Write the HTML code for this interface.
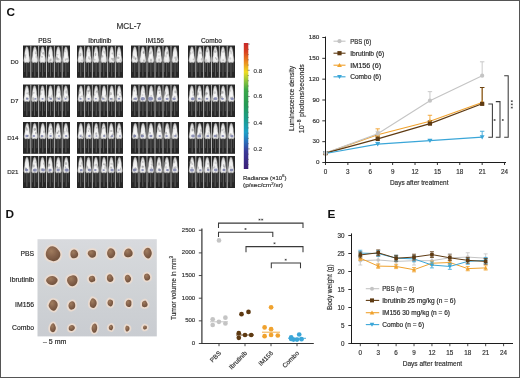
<!DOCTYPE html><html><head><meta charset="utf-8"><style>
html,body{margin:0;padding:0;background:#fff;}
body{width:520px;height:378px;overflow:hidden;}
svg{display:block;font-family:"Liberation Sans", sans-serif;will-change:transform;}
</style></head><body>
<svg width="520" height="378" viewBox="0 0 520 378">
<defs>
<linearGradient id="cbar" x1="0" y1="0" x2="0" y2="1">
<stop offset="0" stop-color="#c8282a"/>
<stop offset="0.07" stop-color="#d8401f"/>
<stop offset="0.14" stop-color="#ea7f1e"/>
<stop offset="0.23" stop-color="#efdc22"/>
<stop offset="0.29" stop-color="#9cc83a"/>
<stop offset="0.37" stop-color="#3ca848"/>
<stop offset="0.49" stop-color="#259a54"/>
<stop offset="0.60" stop-color="#1a9c8a"/>
<stop offset="0.71" stop-color="#1ea0c8"/>
<stop offset="0.79" stop-color="#2a6ab8"/>
<stop offset="0.86" stop-color="#3a3a98"/>
<stop offset="1" stop-color="#3c1e78"/>
</linearGradient>
<radialGradient id="body" cx="0.5" cy="0.6" r="0.62">
<stop offset="0" stop-color="#fbfbfb"/>
<stop offset="0.65" stop-color="#e6e6e6"/>
<stop offset="1" stop-color="#a8a8a8"/>
</radialGradient>
<radialGradient id="tum" cx="0.38" cy="0.32" r="0.75">
<stop offset="0" stop-color="#a07c5e"/>
<stop offset="0.55" stop-color="#83604a"/>
<stop offset="1" stop-color="#6c4e38"/>
</radialGradient>
<filter id="soft2" x="-30%" y="-30%" width="160%" height="160%"><feGaussianBlur stdDeviation="0.6"/></filter>
<linearGradient id="photo" x1="0" y1="0" x2="0" y2="1">
<stop offset="0" stop-color="#d8dade"/>
<stop offset="0.5" stop-color="#d0d3d6"/>
<stop offset="1" stop-color="#c9ccd1"/>
</linearGradient>
<radialGradient id="halo" cx="0.5" cy="0.5" r="0.5">
<stop offset="0.7" stop-color="#efe2d4"/>
<stop offset="1" stop-color="#d6dae0" stop-opacity="0"/>
</radialGradient>
<filter id="soft" x="-5%" y="-5%" width="110%" height="110%"><feGaussianBlur stdDeviation="0.35"/></filter>
</defs>
<rect x="0" y="0" width="520" height="378" fill="#fff"/>

<text x="6.60" y="16.30" font-size="11.8" text-anchor="start" fill="#111" font-weight="bold"  >C</text>
<text x="128.70" y="28.80" font-size="8.2" text-anchor="middle" fill="#333" font-weight="normal" stroke="#333" stroke-width="0.18" >MCL-7</text>
<text x="44.80" y="42.70" font-size="6.5" text-anchor="middle" fill="#2a2a2a" font-weight="normal" stroke="#2a2a2a" stroke-width="0.18" >PBS</text>
<text x="99.90" y="42.70" font-size="6.5" text-anchor="middle" fill="#2a2a2a" font-weight="normal" stroke="#2a2a2a" stroke-width="0.18" >Ibrutinib</text>
<text x="154.90" y="42.70" font-size="6.5" text-anchor="middle" fill="#2a2a2a" font-weight="normal" stroke="#2a2a2a" stroke-width="0.18" >IM156</text>
<text x="211.40" y="42.70" font-size="6.5" text-anchor="middle" fill="#2a2a2a" font-weight="normal" stroke="#2a2a2a" stroke-width="0.18" >Combo</text>
<text x="18.50" y="63.85" font-size="6.2" text-anchor="end" fill="#333" font-weight="normal" stroke="#333" stroke-width="0.18" >D0</text>
<text x="18.50" y="102.95" font-size="6.2" text-anchor="end" fill="#333" font-weight="normal" stroke="#333" stroke-width="0.18" >D7</text>
<text x="18.50" y="140.10" font-size="6.2" text-anchor="end" fill="#333" font-weight="normal" stroke="#333" stroke-width="0.18" >D14</text>
<text x="18.50" y="174.20" font-size="6.2" text-anchor="end" fill="#333" font-weight="normal" stroke="#333" stroke-width="0.18" >D21</text>
<g filter="url(#soft)">
<rect x="23" y="45.5" width="47" height="32.3" fill="#282828"/>
<rect x="26.36" y="62.30" width="0.9" height="14.21" fill="#666"/>
<rect x="24.21" y="62.30" width="0.9" height="9.69" fill="#484848"/>
<rect x="28.51" y="62.30" width="0.9" height="9.69" fill="#484848"/>
<path d="M26.81,46.80 L27.61,47.30 L28.22,49.32 L28.82,52.35 L29.02,55.38 L29.62,58.41 L29.97,60.93 L28.92,62.65 L26.81,62.24 L24.70,62.65 L23.65,60.93 L24.00,58.41 L24.60,55.38 L24.80,52.35 L25.40,49.32 L26.01,47.30 L26.81,46.80Z" fill="url(#body)" stroke="#bdbdbd" stroke-width="0.4" stroke-linejoin="round"/>
<ellipse cx="25.69" cy="57.41" rx="0.65" ry="1.34" fill="#8a8a8a" opacity="0.36"/>
<ellipse cx="25.39" cy="55.96" rx="0.63" ry="1.23" fill="#8a8a8a" opacity="0.27"/>
<ellipse cx="25.50" cy="55.12" rx="1.18" ry="0.92" fill="#8a8a8a" opacity="0.32"/>
<rect x="34.38" y="62.30" width="0.9" height="14.21" fill="#666"/>
<rect x="32.23" y="62.30" width="0.9" height="9.69" fill="#484848"/>
<rect x="36.53" y="62.30" width="0.9" height="9.69" fill="#484848"/>
<path d="M34.83,46.80 L35.63,47.30 L36.23,49.32 L36.84,52.35 L37.04,55.38 L37.64,58.41 L37.99,60.93 L36.94,62.65 L34.83,62.24 L32.72,62.65 L31.66,60.93 L32.01,58.41 L32.62,55.38 L32.82,52.35 L33.42,49.32 L34.02,47.30 L34.83,46.80Z" fill="url(#body)" stroke="#bdbdbd" stroke-width="0.4" stroke-linejoin="round"/>
<ellipse cx="36.27" cy="56.66" rx="0.88" ry="1.78" fill="#8a8a8a" opacity="0.26"/>
<ellipse cx="35.98" cy="53.76" rx="0.70" ry="0.92" fill="#8a8a8a" opacity="0.34"/>
<ellipse cx="35.84" cy="52.66" rx="1.01" ry="1.44" fill="#8a8a8a" opacity="0.36"/>
<rect x="30.38" y="45.5" width="0.9" height="32.3" fill="#c4c4c4"/>
<rect x="42.16" y="62.30" width="0.9" height="14.21" fill="#666"/>
<rect x="40.01" y="62.30" width="0.9" height="9.69" fill="#484848"/>
<rect x="44.31" y="62.30" width="0.9" height="9.69" fill="#484848"/>
<path d="M42.61,46.80 L43.42,47.30 L44.02,49.32 L44.62,52.35 L44.82,55.38 L45.42,58.41 L45.78,60.93 L44.72,62.65 L42.61,62.24 L40.50,62.65 L39.45,60.93 L39.80,58.41 L40.40,55.38 L40.60,52.35 L41.21,49.32 L41.81,47.30 L42.61,46.80Z" fill="url(#body)" stroke="#bdbdbd" stroke-width="0.4" stroke-linejoin="round"/>
<ellipse cx="41.21" cy="51.44" rx="0.74" ry="1.48" fill="#8a8a8a" opacity="0.38"/>
<ellipse cx="42.01" cy="56.75" rx="0.92" ry="1.10" fill="#8a8a8a" opacity="0.49"/>
<ellipse cx="43.25" cy="53.30" rx="1.00" ry="1.33" fill="#8a8a8a" opacity="0.51"/>
<rect x="38.22" y="45.5" width="0.9" height="32.3" fill="#c4c4c4"/>
<rect x="50.10" y="62.30" width="0.9" height="14.21" fill="#666"/>
<rect x="47.95" y="62.30" width="0.9" height="9.69" fill="#484848"/>
<rect x="52.25" y="62.30" width="0.9" height="9.69" fill="#484848"/>
<path d="M50.55,46.80 L51.36,47.30 L51.96,49.32 L52.56,52.35 L52.76,55.38 L53.37,58.41 L53.72,60.93 L52.66,62.65 L50.55,62.24 L48.45,62.65 L47.39,60.93 L47.74,58.41 L48.34,55.38 L48.55,52.35 L49.15,49.32 L49.75,47.30 L50.55,46.80Z" fill="url(#body)" stroke="#bdbdbd" stroke-width="0.4" stroke-linejoin="round"/>
<ellipse cx="49.87" cy="60.73" rx="0.68" ry="1.22" fill="#8a8a8a" opacity="0.48"/>
<ellipse cx="49.44" cy="55.77" rx="0.63" ry="1.47" fill="#8a8a8a" opacity="0.48"/>
<ellipse cx="50.79" cy="59.67" rx="0.82" ry="1.50" fill="#8a8a8a" opacity="0.43"/>
<rect x="46.05" y="45.5" width="0.9" height="32.3" fill="#c4c4c4"/>
<rect x="57.85" y="62.30" width="0.9" height="14.21" fill="#666"/>
<rect x="55.70" y="62.30" width="0.9" height="9.69" fill="#484848"/>
<rect x="60.00" y="62.30" width="0.9" height="9.69" fill="#484848"/>
<path d="M58.30,46.80 L59.10,47.30 L59.70,49.32 L60.31,52.35 L60.51,55.38 L61.11,58.41 L61.46,60.93 L60.41,62.65 L58.30,62.24 L56.19,62.65 L55.13,60.93 L55.49,58.41 L56.09,55.38 L56.29,52.35 L56.89,49.32 L57.49,47.30 L58.30,46.80Z" fill="url(#body)" stroke="#bdbdbd" stroke-width="0.4" stroke-linejoin="round"/>
<ellipse cx="58.16" cy="59.32" rx="1.26" ry="1.27" fill="#8a8a8a" opacity="0.45"/>
<ellipse cx="56.89" cy="57.92" rx="1.05" ry="1.79" fill="#8a8a8a" opacity="0.50"/>
<ellipse cx="57.61" cy="54.73" rx="1.07" ry="0.82" fill="#8a8a8a" opacity="0.39"/>
<rect x="53.88" y="45.5" width="0.9" height="32.3" fill="#c4c4c4"/>
<rect x="65.43" y="62.30" width="0.9" height="14.21" fill="#666"/>
<rect x="63.28" y="62.30" width="0.9" height="9.69" fill="#484848"/>
<rect x="67.58" y="62.30" width="0.9" height="9.69" fill="#484848"/>
<path d="M65.88,46.80 L66.69,47.30 L67.29,49.32 L67.89,52.35 L68.09,55.38 L68.70,58.41 L69.05,60.93 L67.99,62.65 L65.88,62.24 L63.78,62.65 L62.72,60.93 L63.07,58.41 L63.67,55.38 L63.88,52.35 L64.48,49.32 L65.08,47.30 L65.88,46.80Z" fill="url(#body)" stroke="#bdbdbd" stroke-width="0.4" stroke-linejoin="round"/>
<ellipse cx="64.65" cy="51.43" rx="1.14" ry="0.93" fill="#8a8a8a" opacity="0.32"/>
<ellipse cx="65.53" cy="59.63" rx="0.66" ry="1.25" fill="#8a8a8a" opacity="0.41"/>
<ellipse cx="67.12" cy="59.11" rx="1.20" ry="1.08" fill="#8a8a8a" opacity="0.37"/>
<rect x="61.72" y="45.5" width="0.9" height="32.3" fill="#c4c4c4"/>
<rect x="77" y="45.5" width="46" height="32.3" fill="#282828"/>
<rect x="80.30" y="62.30" width="0.9" height="14.21" fill="#666"/>
<rect x="78.15" y="62.30" width="0.9" height="9.69" fill="#484848"/>
<rect x="82.45" y="62.30" width="0.9" height="9.69" fill="#484848"/>
<path d="M80.75,46.80 L81.53,47.30 L82.12,49.32 L82.71,52.35 L82.91,55.38 L83.50,58.41 L83.84,60.93 L82.81,62.65 L80.75,62.24 L78.68,62.65 L77.65,60.93 L78.00,58.41 L78.59,55.38 L78.78,52.35 L79.37,49.32 L79.96,47.30 L80.75,46.80Z" fill="url(#body)" stroke="#bdbdbd" stroke-width="0.4" stroke-linejoin="round"/>
<ellipse cx="81.96" cy="60.50" rx="0.71" ry="0.98" fill="#8a8a8a" opacity="0.32"/>
<ellipse cx="79.91" cy="55.73" rx="1.01" ry="1.06" fill="#8a8a8a" opacity="0.25"/>
<ellipse cx="80.49" cy="54.56" rx="1.00" ry="1.75" fill="#8a8a8a" opacity="0.46"/>
<rect x="88.06" y="62.30" width="0.9" height="14.21" fill="#666"/>
<rect x="85.91" y="62.30" width="0.9" height="9.69" fill="#484848"/>
<rect x="90.21" y="62.30" width="0.9" height="9.69" fill="#484848"/>
<path d="M88.51,46.80 L89.30,47.30 L89.89,49.32 L90.48,52.35 L90.67,55.38 L91.26,58.41 L91.61,60.93 L90.57,62.65 L88.51,62.24 L86.45,62.65 L85.41,60.93 L85.76,58.41 L86.35,55.38 L86.54,52.35 L87.13,49.32 L87.72,47.30 L88.51,46.80Z" fill="url(#body)" stroke="#bdbdbd" stroke-width="0.4" stroke-linejoin="round"/>
<ellipse cx="88.88" cy="57.66" rx="0.64" ry="1.70" fill="#8a8a8a" opacity="0.48"/>
<ellipse cx="89.69" cy="58.89" rx="0.87" ry="1.20" fill="#8a8a8a" opacity="0.28"/>
<ellipse cx="88.93" cy="51.47" rx="0.65" ry="1.01" fill="#8a8a8a" opacity="0.30"/>
<rect x="84.22" y="45.5" width="0.9" height="32.3" fill="#c4c4c4"/>
<rect x="95.62" y="62.30" width="0.9" height="14.21" fill="#666"/>
<rect x="93.47" y="62.30" width="0.9" height="9.69" fill="#484848"/>
<rect x="97.77" y="62.30" width="0.9" height="9.69" fill="#484848"/>
<path d="M96.07,46.80 L96.86,47.30 L97.45,49.32 L98.04,52.35 L98.23,55.38 L98.82,58.41 L99.17,60.93 L98.13,62.65 L96.07,62.24 L94.01,62.65 L92.97,60.93 L93.32,58.41 L93.91,55.38 L94.10,52.35 L94.69,49.32 L95.28,47.30 L96.07,46.80Z" fill="url(#body)" stroke="#bdbdbd" stroke-width="0.4" stroke-linejoin="round"/>
<ellipse cx="94.66" cy="50.84" rx="0.71" ry="0.90" fill="#8a8a8a" opacity="0.36"/>
<ellipse cx="94.58" cy="59.66" rx="1.03" ry="0.95" fill="#8a8a8a" opacity="0.33"/>
<ellipse cx="95.59" cy="54.51" rx="0.69" ry="1.65" fill="#8a8a8a" opacity="0.55"/>
<rect x="91.88" y="45.5" width="0.9" height="32.3" fill="#c4c4c4"/>
<rect x="103.36" y="62.30" width="0.9" height="14.21" fill="#666"/>
<rect x="101.21" y="62.30" width="0.9" height="9.69" fill="#484848"/>
<rect x="105.51" y="62.30" width="0.9" height="9.69" fill="#484848"/>
<path d="M103.81,46.80 L104.60,47.30 L105.19,49.32 L105.78,52.35 L105.98,55.38 L106.57,58.41 L106.91,60.93 L105.88,62.65 L103.81,62.24 L101.75,62.65 L100.72,60.93 L101.06,58.41 L101.65,55.38 L101.85,52.35 L102.44,49.32 L103.03,47.30 L103.81,46.80Z" fill="url(#body)" stroke="#bdbdbd" stroke-width="0.4" stroke-linejoin="round"/>
<ellipse cx="103.76" cy="51.70" rx="0.67" ry="1.14" fill="#8a8a8a" opacity="0.33"/>
<ellipse cx="104.85" cy="52.47" rx="0.62" ry="1.75" fill="#8a8a8a" opacity="0.41"/>
<ellipse cx="102.70" cy="56.32" rx="0.62" ry="1.33" fill="#8a8a8a" opacity="0.54"/>
<rect x="99.55" y="45.5" width="0.9" height="32.3" fill="#c4c4c4"/>
<rect x="111.27" y="62.30" width="0.9" height="14.21" fill="#666"/>
<rect x="109.12" y="62.30" width="0.9" height="9.69" fill="#484848"/>
<rect x="113.42" y="62.30" width="0.9" height="9.69" fill="#484848"/>
<path d="M111.72,46.80 L112.50,47.30 L113.09,49.32 L113.68,52.35 L113.88,55.38 L114.47,58.41 L114.81,60.93 L113.78,62.65 L111.72,62.24 L109.65,62.65 L108.62,60.93 L108.97,58.41 L109.56,55.38 L109.75,52.35 L110.34,49.32 L110.93,47.30 L111.72,46.80Z" fill="url(#body)" stroke="#bdbdbd" stroke-width="0.4" stroke-linejoin="round"/>
<ellipse cx="112.34" cy="53.47" rx="0.86" ry="0.97" fill="#8a8a8a" opacity="0.48"/>
<ellipse cx="111.82" cy="58.70" rx="0.83" ry="1.02" fill="#8a8a8a" opacity="0.49"/>
<ellipse cx="113.24" cy="59.44" rx="1.16" ry="1.62" fill="#8a8a8a" opacity="0.47"/>
<rect x="107.22" y="45.5" width="0.9" height="32.3" fill="#c4c4c4"/>
<rect x="118.55" y="62.30" width="0.9" height="14.21" fill="#666"/>
<rect x="116.40" y="62.30" width="0.9" height="9.69" fill="#484848"/>
<rect x="120.70" y="62.30" width="0.9" height="9.69" fill="#484848"/>
<path d="M119.00,46.80 L119.79,47.30 L120.38,49.32 L120.97,52.35 L121.17,55.38 L121.75,58.41 L122.10,60.93 L121.07,62.65 L119.00,62.24 L116.94,62.65 L115.91,60.93 L116.25,58.41 L116.84,55.38 L117.04,52.35 L117.63,49.32 L118.22,47.30 L119.00,46.80Z" fill="url(#body)" stroke="#bdbdbd" stroke-width="0.4" stroke-linejoin="round"/>
<ellipse cx="119.06" cy="54.43" rx="0.62" ry="0.83" fill="#8a8a8a" opacity="0.33"/>
<ellipse cx="118.25" cy="57.83" rx="1.27" ry="1.25" fill="#8a8a8a" opacity="0.53"/>
<ellipse cx="120.54" cy="60.48" rx="0.86" ry="1.02" fill="#8a8a8a" opacity="0.32"/>
<rect x="114.88" y="45.5" width="0.9" height="32.3" fill="#c4c4c4"/>
<rect x="131" y="45.5" width="48" height="32.3" fill="#282828"/>
<rect x="134.37" y="62.30" width="0.9" height="14.21" fill="#666"/>
<rect x="132.22" y="62.30" width="0.9" height="9.69" fill="#484848"/>
<rect x="136.52" y="62.30" width="0.9" height="9.69" fill="#484848"/>
<path d="M134.82,46.80 L135.64,47.30 L136.25,49.32 L136.87,52.35 L137.07,55.38 L137.69,58.41 L138.05,60.93 L136.97,62.65 L134.82,62.24 L132.66,62.65 L131.59,60.93 L131.95,58.41 L132.56,55.38 L132.77,52.35 L133.38,49.32 L134.00,47.30 L134.82,46.80Z" fill="url(#body)" stroke="#bdbdbd" stroke-width="0.4" stroke-linejoin="round"/>
<ellipse cx="133.85" cy="57.14" rx="1.23" ry="1.64" fill="#8a8a8a" opacity="0.39"/>
<ellipse cx="135.32" cy="58.91" rx="0.66" ry="1.46" fill="#8a8a8a" opacity="0.52"/>
<ellipse cx="135.74" cy="58.41" rx="0.93" ry="0.98" fill="#8a8a8a" opacity="0.49"/>
<rect x="142.45" y="62.30" width="0.9" height="14.21" fill="#666"/>
<rect x="140.30" y="62.30" width="0.9" height="9.69" fill="#484848"/>
<rect x="144.60" y="62.30" width="0.9" height="9.69" fill="#484848"/>
<path d="M142.90,46.80 L143.72,47.30 L144.34,49.32 L144.95,52.35 L145.16,55.38 L145.77,58.41 L146.13,60.93 L145.05,62.65 L142.90,62.24 L140.75,62.65 L139.67,60.93 L140.03,58.41 L140.64,55.38 L140.85,52.35 L141.46,49.32 L142.08,47.30 L142.90,46.80Z" fill="url(#body)" stroke="#bdbdbd" stroke-width="0.4" stroke-linejoin="round"/>
<ellipse cx="143.89" cy="60.65" rx="0.88" ry="1.20" fill="#8a8a8a" opacity="0.53"/>
<ellipse cx="143.64" cy="52.55" rx="0.69" ry="0.95" fill="#8a8a8a" opacity="0.52"/>
<ellipse cx="143.91" cy="52.31" rx="1.18" ry="1.78" fill="#8a8a8a" opacity="0.45"/>
<rect x="138.55" y="45.5" width="0.9" height="32.3" fill="#c4c4c4"/>
<rect x="150.46" y="62.30" width="0.9" height="14.21" fill="#666"/>
<rect x="148.31" y="62.30" width="0.9" height="9.69" fill="#484848"/>
<rect x="152.61" y="62.30" width="0.9" height="9.69" fill="#484848"/>
<path d="M150.91,46.80 L151.73,47.30 L152.35,49.32 L152.96,52.35 L153.17,55.38 L153.78,58.41 L154.14,60.93 L153.06,62.65 L150.91,62.24 L148.76,62.65 L147.68,60.93 L148.04,58.41 L148.65,55.38 L148.86,52.35 L149.47,49.32 L150.09,47.30 L150.91,46.80Z" fill="url(#body)" stroke="#bdbdbd" stroke-width="0.4" stroke-linejoin="round"/>
<ellipse cx="151.07" cy="52.16" rx="0.61" ry="1.77" fill="#8a8a8a" opacity="0.44"/>
<ellipse cx="151.00" cy="60.26" rx="0.90" ry="1.67" fill="#8a8a8a" opacity="0.50"/>
<ellipse cx="149.96" cy="53.38" rx="0.81" ry="1.04" fill="#8a8a8a" opacity="0.43"/>
<rect x="146.55" y="45.5" width="0.9" height="32.3" fill="#c4c4c4"/>
<rect x="158.41" y="62.30" width="0.9" height="14.21" fill="#666"/>
<rect x="156.26" y="62.30" width="0.9" height="9.69" fill="#484848"/>
<rect x="160.56" y="62.30" width="0.9" height="9.69" fill="#484848"/>
<path d="M158.86,46.80 L159.68,47.30 L160.29,49.32 L160.91,52.35 L161.11,55.38 L161.73,58.41 L162.09,60.93 L161.01,62.65 L158.86,62.24 L156.70,62.65 L155.62,60.93 L155.98,58.41 L156.60,55.38 L156.80,52.35 L157.42,49.32 L158.04,47.30 L158.86,46.80Z" fill="url(#body)" stroke="#bdbdbd" stroke-width="0.4" stroke-linejoin="round"/>
<ellipse cx="158.59" cy="52.16" rx="1.24" ry="1.15" fill="#8a8a8a" opacity="0.39"/>
<ellipse cx="159.13" cy="59.97" rx="0.89" ry="1.72" fill="#8a8a8a" opacity="0.40"/>
<ellipse cx="158.96" cy="56.12" rx="0.61" ry="1.24" fill="#8a8a8a" opacity="0.30"/>
<rect x="154.55" y="45.5" width="0.9" height="32.3" fill="#c4c4c4"/>
<rect x="166.25" y="62.30" width="0.9" height="14.21" fill="#666"/>
<rect x="164.10" y="62.30" width="0.9" height="9.69" fill="#484848"/>
<rect x="168.40" y="62.30" width="0.9" height="9.69" fill="#484848"/>
<path d="M166.70,46.80 L167.52,47.30 L168.14,49.32 L168.75,52.35 L168.96,55.38 L169.57,58.41 L169.93,60.93 L168.86,62.65 L166.70,62.24 L164.55,62.65 L163.47,60.93 L163.83,58.41 L164.45,55.38 L164.65,52.35 L165.27,49.32 L165.88,47.30 L166.70,46.80Z" fill="url(#body)" stroke="#bdbdbd" stroke-width="0.4" stroke-linejoin="round"/>
<ellipse cx="167.68" cy="52.58" rx="0.93" ry="1.53" fill="#8a8a8a" opacity="0.42"/>
<ellipse cx="166.13" cy="56.07" rx="0.99" ry="1.58" fill="#8a8a8a" opacity="0.28"/>
<ellipse cx="166.90" cy="53.35" rx="0.79" ry="1.57" fill="#8a8a8a" opacity="0.40"/>
<rect x="162.55" y="45.5" width="0.9" height="32.3" fill="#c4c4c4"/>
<rect x="174.59" y="62.30" width="0.9" height="14.21" fill="#666"/>
<rect x="172.44" y="62.30" width="0.9" height="9.69" fill="#484848"/>
<rect x="176.74" y="62.30" width="0.9" height="9.69" fill="#484848"/>
<path d="M175.04,46.80 L175.86,47.30 L176.47,49.32 L177.09,52.35 L177.29,55.38 L177.91,58.41 L178.27,60.93 L177.19,62.65 L175.04,62.24 L172.88,62.65 L171.81,60.93 L172.17,58.41 L172.78,55.38 L172.99,52.35 L173.60,49.32 L174.22,47.30 L175.04,46.80Z" fill="url(#body)" stroke="#bdbdbd" stroke-width="0.4" stroke-linejoin="round"/>
<ellipse cx="175.89" cy="60.05" rx="0.91" ry="1.41" fill="#8a8a8a" opacity="0.40"/>
<ellipse cx="175.08" cy="57.83" rx="0.92" ry="1.33" fill="#8a8a8a" opacity="0.39"/>
<ellipse cx="176.49" cy="57.90" rx="1.21" ry="1.74" fill="#8a8a8a" opacity="0.33"/>
<rect x="170.55" y="45.5" width="0.9" height="32.3" fill="#c4c4c4"/>
<rect x="188" y="45.5" width="47" height="32.3" fill="#282828"/>
<rect x="191.50" y="62.30" width="0.9" height="14.21" fill="#666"/>
<rect x="189.35" y="62.30" width="0.9" height="9.69" fill="#484848"/>
<rect x="193.65" y="62.30" width="0.9" height="9.69" fill="#484848"/>
<path d="M191.95,46.80 L192.76,47.30 L193.36,49.32 L193.96,52.35 L194.16,55.38 L194.76,58.41 L195.12,60.93 L194.06,62.65 L191.95,62.24 L189.84,62.65 L188.79,60.93 L189.14,58.41 L189.74,55.38 L189.94,52.35 L190.55,49.32 L191.15,47.30 L191.95,46.80Z" fill="url(#body)" stroke="#bdbdbd" stroke-width="0.4" stroke-linejoin="round"/>
<ellipse cx="193.38" cy="59.32" rx="0.70" ry="0.92" fill="#8a8a8a" opacity="0.38"/>
<ellipse cx="190.58" cy="53.27" rx="0.65" ry="1.47" fill="#8a8a8a" opacity="0.49"/>
<ellipse cx="193.23" cy="52.40" rx="1.10" ry="1.46" fill="#8a8a8a" opacity="0.29"/>
<rect x="199.53" y="62.30" width="0.9" height="14.21" fill="#666"/>
<rect x="197.38" y="62.30" width="0.9" height="9.69" fill="#484848"/>
<rect x="201.68" y="62.30" width="0.9" height="9.69" fill="#484848"/>
<path d="M199.98,46.80 L200.78,47.30 L201.39,49.32 L201.99,52.35 L202.19,55.38 L202.79,58.41 L203.14,60.93 L202.09,62.65 L199.98,62.24 L197.87,62.65 L196.82,60.93 L197.17,58.41 L197.77,55.38 L197.97,52.35 L198.57,49.32 L199.18,47.30 L199.98,46.80Z" fill="url(#body)" stroke="#bdbdbd" stroke-width="0.4" stroke-linejoin="round"/>
<ellipse cx="201.48" cy="53.05" rx="1.27" ry="1.20" fill="#8a8a8a" opacity="0.40"/>
<ellipse cx="201.55" cy="59.24" rx="0.71" ry="1.23" fill="#8a8a8a" opacity="0.40"/>
<ellipse cx="199.46" cy="52.81" rx="0.82" ry="1.52" fill="#8a8a8a" opacity="0.26"/>
<rect x="195.38" y="45.5" width="0.9" height="32.3" fill="#c4c4c4"/>
<rect x="207.17" y="62.30" width="0.9" height="14.21" fill="#666"/>
<rect x="205.02" y="62.30" width="0.9" height="9.69" fill="#484848"/>
<rect x="209.32" y="62.30" width="0.9" height="9.69" fill="#484848"/>
<path d="M207.62,46.80 L208.42,47.30 L209.02,49.32 L209.62,52.35 L209.83,55.38 L210.43,58.41 L210.78,60.93 L209.72,62.65 L207.62,62.24 L205.51,62.65 L204.45,60.93 L204.80,58.41 L205.41,55.38 L205.61,52.35 L206.21,49.32 L206.81,47.30 L207.62,46.80Z" fill="url(#body)" stroke="#bdbdbd" stroke-width="0.4" stroke-linejoin="round"/>
<ellipse cx="207.42" cy="51.02" rx="0.83" ry="1.42" fill="#8a8a8a" opacity="0.40"/>
<ellipse cx="206.22" cy="60.78" rx="1.15" ry="1.77" fill="#8a8a8a" opacity="0.28"/>
<ellipse cx="206.86" cy="51.24" rx="1.15" ry="1.07" fill="#8a8a8a" opacity="0.29"/>
<rect x="203.22" y="45.5" width="0.9" height="32.3" fill="#c4c4c4"/>
<rect x="214.92" y="62.30" width="0.9" height="14.21" fill="#666"/>
<rect x="212.77" y="62.30" width="0.9" height="9.69" fill="#484848"/>
<rect x="217.07" y="62.30" width="0.9" height="9.69" fill="#484848"/>
<path d="M215.37,46.80 L216.17,47.30 L216.78,49.32 L217.38,52.35 L217.58,55.38 L218.18,58.41 L218.53,60.93 L217.48,62.65 L215.37,62.24 L213.26,62.65 L212.21,60.93 L212.56,58.41 L213.16,55.38 L213.36,52.35 L213.96,49.32 L214.57,47.30 L215.37,46.80Z" fill="url(#body)" stroke="#bdbdbd" stroke-width="0.4" stroke-linejoin="round"/>
<ellipse cx="216.69" cy="59.10" rx="0.78" ry="0.95" fill="#8a8a8a" opacity="0.53"/>
<ellipse cx="215.60" cy="57.91" rx="0.66" ry="0.86" fill="#8a8a8a" opacity="0.46"/>
<ellipse cx="215.13" cy="51.57" rx="1.26" ry="1.43" fill="#8a8a8a" opacity="0.49"/>
<rect x="211.05" y="45.5" width="0.9" height="32.3" fill="#c4c4c4"/>
<rect x="222.55" y="62.30" width="0.9" height="14.21" fill="#666"/>
<rect x="220.40" y="62.30" width="0.9" height="9.69" fill="#484848"/>
<rect x="224.70" y="62.30" width="0.9" height="9.69" fill="#484848"/>
<path d="M223.00,46.80 L223.80,47.30 L224.41,49.32 L225.01,52.35 L225.21,55.38 L225.81,58.41 L226.16,60.93 L225.11,62.65 L223.00,62.24 L220.89,62.65 L219.84,60.93 L220.19,58.41 L220.79,55.38 L220.99,52.35 L221.59,49.32 L222.20,47.30 L223.00,46.80Z" fill="url(#body)" stroke="#bdbdbd" stroke-width="0.4" stroke-linejoin="round"/>
<ellipse cx="224.15" cy="51.51" rx="1.20" ry="1.25" fill="#8a8a8a" opacity="0.35"/>
<ellipse cx="223.17" cy="60.19" rx="0.79" ry="0.93" fill="#8a8a8a" opacity="0.41"/>
<ellipse cx="222.16" cy="51.94" rx="0.71" ry="0.85" fill="#8a8a8a" opacity="0.31"/>
<rect x="218.88" y="45.5" width="0.9" height="32.3" fill="#c4c4c4"/>
<rect x="230.52" y="62.30" width="0.9" height="14.21" fill="#666"/>
<rect x="228.37" y="62.30" width="0.9" height="9.69" fill="#484848"/>
<rect x="232.67" y="62.30" width="0.9" height="9.69" fill="#484848"/>
<path d="M230.97,46.80 L231.77,47.30 L232.38,49.32 L232.98,52.35 L233.18,55.38 L233.78,58.41 L234.13,60.93 L233.08,62.65 L230.97,62.24 L228.86,62.65 L227.81,60.93 L228.16,58.41 L228.76,55.38 L228.96,52.35 L229.56,49.32 L230.17,47.30 L230.97,46.80Z" fill="url(#body)" stroke="#bdbdbd" stroke-width="0.4" stroke-linejoin="round"/>
<ellipse cx="230.34" cy="58.50" rx="0.80" ry="1.30" fill="#8a8a8a" opacity="0.30"/>
<ellipse cx="230.48" cy="51.02" rx="0.78" ry="0.82" fill="#8a8a8a" opacity="0.47"/>
<ellipse cx="231.13" cy="52.75" rx="0.93" ry="1.73" fill="#8a8a8a" opacity="0.28"/>
<rect x="226.72" y="45.5" width="0.9" height="32.3" fill="#c4c4c4"/>
<rect x="23" y="84.5" width="47" height="32.5" fill="#282828"/>
<rect x="26.43" y="101.40" width="0.9" height="14.30" fill="#666"/>
<rect x="24.28" y="101.40" width="0.9" height="9.75" fill="#484848"/>
<rect x="28.58" y="101.40" width="0.9" height="9.75" fill="#484848"/>
<path d="M26.88,85.80 L27.68,86.31 L28.28,88.34 L28.88,91.39 L29.09,94.43 L29.69,97.48 L30.04,100.02 L28.98,101.75 L26.88,101.34 L24.77,101.75 L23.71,100.02 L24.06,97.48 L24.67,94.43 L24.87,91.39 L25.47,88.34 L26.07,86.31 L26.88,85.80Z" fill="url(#body)" stroke="#bdbdbd" stroke-width="0.4" stroke-linejoin="round"/>
<ellipse cx="26.86" cy="98.34" rx="0.88" ry="1.31" fill="#8a8a8a" opacity="0.46"/>
<ellipse cx="28.43" cy="93.34" rx="1.18" ry="1.51" fill="#8a8a8a" opacity="0.44"/>
<ellipse cx="26.57" cy="93.39" rx="0.64" ry="0.93" fill="#8a8a8a" opacity="0.27"/>
<ellipse cx="27.36" cy="98.80" rx="1.31" ry="1.01" fill="#6a70a4" opacity="0.7" filter="url(#soft2)"/>
<rect x="34.10" y="101.40" width="0.9" height="14.30" fill="#666"/>
<rect x="31.95" y="101.40" width="0.9" height="9.75" fill="#484848"/>
<rect x="36.25" y="101.40" width="0.9" height="9.75" fill="#484848"/>
<path d="M34.55,85.80 L35.35,86.31 L35.95,88.34 L36.56,91.39 L36.76,94.43 L37.36,97.48 L37.71,100.02 L36.66,101.75 L34.55,101.34 L32.44,101.75 L31.38,100.02 L31.74,97.48 L32.34,94.43 L32.54,91.39 L33.14,88.34 L33.74,86.31 L34.55,85.80Z" fill="url(#body)" stroke="#bdbdbd" stroke-width="0.4" stroke-linejoin="round"/>
<ellipse cx="33.21" cy="98.41" rx="1.21" ry="1.47" fill="#8a8a8a" opacity="0.33"/>
<ellipse cx="33.72" cy="92.84" rx="0.92" ry="0.96" fill="#8a8a8a" opacity="0.38"/>
<ellipse cx="33.79" cy="99.63" rx="1.28" ry="1.35" fill="#8a8a8a" opacity="0.32"/>
<ellipse cx="35.48" cy="98.80" rx="1.09" ry="0.84" fill="#6a70a4" opacity="0.7" filter="url(#soft2)"/>
<rect x="30.38" y="84.5" width="0.9" height="32.5" fill="#c4c4c4"/>
<rect x="42.05" y="101.40" width="0.9" height="14.30" fill="#666"/>
<rect x="39.90" y="101.40" width="0.9" height="9.75" fill="#484848"/>
<rect x="44.20" y="101.40" width="0.9" height="9.75" fill="#484848"/>
<path d="M42.50,85.80 L43.30,86.31 L43.90,88.34 L44.51,91.39 L44.71,94.43 L45.31,97.48 L45.66,100.02 L44.61,101.75 L42.50,101.34 L40.39,101.75 L39.33,100.02 L39.69,97.48 L40.29,94.43 L40.49,91.39 L41.09,88.34 L41.69,86.31 L42.50,85.80Z" fill="url(#body)" stroke="#bdbdbd" stroke-width="0.4" stroke-linejoin="round"/>
<ellipse cx="40.89" cy="93.74" rx="0.93" ry="1.30" fill="#8a8a8a" opacity="0.31"/>
<ellipse cx="42.51" cy="89.91" rx="0.78" ry="0.89" fill="#8a8a8a" opacity="0.37"/>
<ellipse cx="41.02" cy="90.09" rx="0.81" ry="1.03" fill="#8a8a8a" opacity="0.43"/>
<ellipse cx="42.56" cy="98.80" rx="1.11" ry="0.85" fill="#6a70a4" opacity="0.7" filter="url(#soft2)"/>
<rect x="38.22" y="84.5" width="0.9" height="32.5" fill="#c4c4c4"/>
<rect x="50.06" y="101.40" width="0.9" height="14.30" fill="#666"/>
<rect x="47.91" y="101.40" width="0.9" height="9.75" fill="#484848"/>
<rect x="52.21" y="101.40" width="0.9" height="9.75" fill="#484848"/>
<path d="M50.51,85.80 L51.31,86.31 L51.92,88.34 L52.52,91.39 L52.72,94.43 L53.32,97.48 L53.67,100.02 L52.62,101.75 L50.51,101.34 L48.40,101.75 L47.35,100.02 L47.70,97.48 L48.30,94.43 L48.50,91.39 L49.11,88.34 L49.71,86.31 L50.51,85.80Z" fill="url(#body)" stroke="#bdbdbd" stroke-width="0.4" stroke-linejoin="round"/>
<ellipse cx="51.21" cy="98.79" rx="0.87" ry="1.13" fill="#8a8a8a" opacity="0.55"/>
<ellipse cx="49.38" cy="97.22" rx="1.05" ry="0.84" fill="#8a8a8a" opacity="0.50"/>
<ellipse cx="51.77" cy="96.23" rx="1.11" ry="1.61" fill="#8a8a8a" opacity="0.29"/>
<ellipse cx="50.56" cy="98.80" rx="1.28" ry="0.99" fill="#6a70a4" opacity="0.7" filter="url(#soft2)"/>
<rect x="46.05" y="84.5" width="0.9" height="32.5" fill="#c4c4c4"/>
<rect x="58.00" y="101.40" width="0.9" height="14.30" fill="#666"/>
<rect x="55.85" y="101.40" width="0.9" height="9.75" fill="#484848"/>
<rect x="60.15" y="101.40" width="0.9" height="9.75" fill="#484848"/>
<path d="M58.45,85.80 L59.25,86.31 L59.86,88.34 L60.46,91.39 L60.66,94.43 L61.26,97.48 L61.61,100.02 L60.56,101.75 L58.45,101.34 L56.34,101.75 L55.29,100.02 L55.64,97.48 L56.24,94.43 L56.44,91.39 L57.04,88.34 L57.65,86.31 L58.45,85.80Z" fill="url(#body)" stroke="#bdbdbd" stroke-width="0.4" stroke-linejoin="round"/>
<ellipse cx="59.43" cy="98.26" rx="1.01" ry="1.69" fill="#8a8a8a" opacity="0.45"/>
<ellipse cx="59.07" cy="92.20" rx="0.62" ry="0.93" fill="#8a8a8a" opacity="0.36"/>
<ellipse cx="57.18" cy="98.35" rx="0.99" ry="1.43" fill="#8a8a8a" opacity="0.44"/>
<ellipse cx="58.81" cy="98.80" rx="1.19" ry="0.91" fill="#6a70a4" opacity="0.7" filter="url(#soft2)"/>
<rect x="53.88" y="84.5" width="0.9" height="32.5" fill="#c4c4c4"/>
<rect x="65.34" y="101.40" width="0.9" height="14.30" fill="#666"/>
<rect x="63.19" y="101.40" width="0.9" height="9.75" fill="#484848"/>
<rect x="67.49" y="101.40" width="0.9" height="9.75" fill="#484848"/>
<path d="M65.79,85.80 L66.59,86.31 L67.19,88.34 L67.79,91.39 L67.99,94.43 L68.60,97.48 L68.95,100.02 L67.89,101.75 L65.79,101.34 L63.68,101.75 L62.62,100.02 L62.97,97.48 L63.58,94.43 L63.78,91.39 L64.38,88.34 L64.98,86.31 L65.79,85.80Z" fill="url(#body)" stroke="#bdbdbd" stroke-width="0.4" stroke-linejoin="round"/>
<ellipse cx="66.74" cy="97.46" rx="0.95" ry="1.34" fill="#8a8a8a" opacity="0.45"/>
<ellipse cx="64.39" cy="97.35" rx="0.78" ry="0.87" fill="#8a8a8a" opacity="0.33"/>
<ellipse cx="66.52" cy="91.95" rx="1.12" ry="1.78" fill="#8a8a8a" opacity="0.40"/>
<ellipse cx="65.55" cy="98.80" rx="1.18" ry="0.91" fill="#6a70a4" opacity="0.7" filter="url(#soft2)"/>
<rect x="61.72" y="84.5" width="0.9" height="32.5" fill="#c4c4c4"/>
<rect x="77" y="84.5" width="46" height="32.5" fill="#282828"/>
<rect x="80.49" y="101.40" width="0.9" height="14.30" fill="#666"/>
<rect x="78.34" y="101.40" width="0.9" height="9.75" fill="#484848"/>
<rect x="82.64" y="101.40" width="0.9" height="9.75" fill="#484848"/>
<path d="M80.94,85.80 L81.73,86.31 L82.32,88.34 L82.91,91.39 L83.11,94.43 L83.70,97.48 L84.04,100.02 L83.01,101.75 L80.94,101.34 L78.88,101.75 L77.85,100.02 L78.19,97.48 L78.78,94.43 L78.98,91.39 L79.57,88.34 L80.16,86.31 L80.94,85.80Z" fill="url(#body)" stroke="#bdbdbd" stroke-width="0.4" stroke-linejoin="round"/>
<ellipse cx="81.78" cy="96.13" rx="1.05" ry="0.88" fill="#8a8a8a" opacity="0.29"/>
<ellipse cx="80.17" cy="97.41" rx="0.81" ry="1.37" fill="#8a8a8a" opacity="0.25"/>
<ellipse cx="79.56" cy="92.59" rx="1.07" ry="1.49" fill="#8a8a8a" opacity="0.45"/>
<ellipse cx="80.53" cy="98.80" rx="1.18" ry="0.91" fill="#6a70a4" opacity="0.7" filter="url(#soft2)"/>
<rect x="88.03" y="101.40" width="0.9" height="14.30" fill="#666"/>
<rect x="85.88" y="101.40" width="0.9" height="9.75" fill="#484848"/>
<rect x="90.18" y="101.40" width="0.9" height="9.75" fill="#484848"/>
<path d="M88.48,85.80 L89.27,86.31 L89.85,88.34 L90.44,91.39 L90.64,94.43 L91.23,97.48 L91.57,100.02 L90.54,101.75 L88.48,101.34 L86.41,101.75 L85.38,100.02 L85.73,97.48 L86.32,94.43 L86.51,91.39 L87.10,88.34 L87.69,86.31 L88.48,85.80Z" fill="url(#body)" stroke="#bdbdbd" stroke-width="0.4" stroke-linejoin="round"/>
<ellipse cx="88.37" cy="91.07" rx="1.23" ry="1.00" fill="#8a8a8a" opacity="0.54"/>
<ellipse cx="89.85" cy="90.04" rx="0.92" ry="1.62" fill="#8a8a8a" opacity="0.54"/>
<ellipse cx="88.32" cy="92.59" rx="0.75" ry="1.75" fill="#8a8a8a" opacity="0.31"/>
<ellipse cx="88.64" cy="98.80" rx="1.19" ry="0.92" fill="#6a70a4" opacity="0.7" filter="url(#soft2)"/>
<rect x="84.22" y="84.5" width="0.9" height="32.5" fill="#c4c4c4"/>
<rect x="95.73" y="101.40" width="0.9" height="14.30" fill="#666"/>
<rect x="93.58" y="101.40" width="0.9" height="9.75" fill="#484848"/>
<rect x="97.88" y="101.40" width="0.9" height="9.75" fill="#484848"/>
<path d="M96.18,85.80 L96.97,86.31 L97.56,88.34 L98.15,91.39 L98.34,94.43 L98.93,97.48 L99.28,100.02 L98.25,101.75 L96.18,101.34 L94.12,101.75 L93.08,100.02 L93.43,97.48 L94.02,94.43 L94.22,91.39 L94.81,88.34 L95.39,86.31 L96.18,85.80Z" fill="url(#body)" stroke="#bdbdbd" stroke-width="0.4" stroke-linejoin="round"/>
<ellipse cx="97.61" cy="91.21" rx="1.17" ry="1.31" fill="#8a8a8a" opacity="0.52"/>
<ellipse cx="96.82" cy="92.21" rx="1.23" ry="1.29" fill="#8a8a8a" opacity="0.26"/>
<ellipse cx="94.62" cy="94.86" rx="0.92" ry="1.10" fill="#8a8a8a" opacity="0.29"/>
<ellipse cx="95.87" cy="98.80" rx="1.05" ry="0.80" fill="#6a70a4" opacity="0.7" filter="url(#soft2)"/>
<rect x="91.88" y="84.5" width="0.9" height="32.5" fill="#c4c4c4"/>
<rect x="103.59" y="101.40" width="0.9" height="14.30" fill="#666"/>
<rect x="101.44" y="101.40" width="0.9" height="9.75" fill="#484848"/>
<rect x="105.74" y="101.40" width="0.9" height="9.75" fill="#484848"/>
<path d="M104.04,85.80 L104.82,86.31 L105.41,88.34 L106.00,91.39 L106.20,94.43 L106.79,97.48 L107.13,100.02 L106.10,101.75 L104.04,101.34 L101.97,101.75 L100.94,100.02 L101.29,97.48 L101.88,94.43 L102.07,91.39 L102.66,88.34 L103.25,86.31 L104.04,85.80Z" fill="url(#body)" stroke="#bdbdbd" stroke-width="0.4" stroke-linejoin="round"/>
<ellipse cx="102.47" cy="97.49" rx="1.19" ry="0.92" fill="#8a8a8a" opacity="0.53"/>
<ellipse cx="104.71" cy="99.02" rx="0.80" ry="1.17" fill="#8a8a8a" opacity="0.37"/>
<ellipse cx="105.61" cy="95.85" rx="0.85" ry="1.23" fill="#8a8a8a" opacity="0.33"/>
<ellipse cx="103.13" cy="98.80" rx="1.11" ry="0.85" fill="#6a70a4" opacity="0.7" filter="url(#soft2)"/>
<rect x="99.55" y="84.5" width="0.9" height="32.5" fill="#c4c4c4"/>
<rect x="111.25" y="101.40" width="0.9" height="14.30" fill="#666"/>
<rect x="109.10" y="101.40" width="0.9" height="9.75" fill="#484848"/>
<rect x="113.40" y="101.40" width="0.9" height="9.75" fill="#484848"/>
<path d="M111.70,85.80 L112.49,86.31 L113.08,88.34 L113.67,91.39 L113.86,94.43 L114.45,97.48 L114.80,100.02 L113.76,101.75 L111.70,101.34 L109.64,101.75 L108.60,100.02 L108.95,97.48 L109.54,94.43 L109.73,91.39 L110.32,88.34 L110.91,86.31 L111.70,85.80Z" fill="url(#body)" stroke="#bdbdbd" stroke-width="0.4" stroke-linejoin="round"/>
<ellipse cx="111.03" cy="99.36" rx="0.77" ry="1.07" fill="#8a8a8a" opacity="0.40"/>
<ellipse cx="110.73" cy="93.65" rx="1.27" ry="1.68" fill="#8a8a8a" opacity="0.49"/>
<ellipse cx="112.11" cy="99.14" rx="1.26" ry="1.35" fill="#8a8a8a" opacity="0.47"/>
<ellipse cx="110.80" cy="98.80" rx="1.03" ry="0.79" fill="#6a70a4" opacity="0.7" filter="url(#soft2)"/>
<rect x="107.22" y="84.5" width="0.9" height="32.5" fill="#c4c4c4"/>
<rect x="118.69" y="101.40" width="0.9" height="14.30" fill="#666"/>
<rect x="116.54" y="101.40" width="0.9" height="9.75" fill="#484848"/>
<rect x="120.84" y="101.40" width="0.9" height="9.75" fill="#484848"/>
<path d="M119.14,85.80 L119.92,86.31 L120.51,88.34 L121.10,91.39 L121.30,94.43 L121.89,97.48 L122.23,100.02 L121.20,101.75 L119.14,101.34 L117.07,101.75 L116.04,100.02 L116.39,97.48 L116.97,94.43 L117.17,91.39 L117.76,88.34 L118.35,86.31 L119.14,85.80Z" fill="url(#body)" stroke="#bdbdbd" stroke-width="0.4" stroke-linejoin="round"/>
<ellipse cx="119.93" cy="96.41" rx="0.80" ry="0.85" fill="#8a8a8a" opacity="0.53"/>
<ellipse cx="117.96" cy="94.66" rx="0.84" ry="1.10" fill="#8a8a8a" opacity="0.47"/>
<ellipse cx="120.64" cy="92.50" rx="1.06" ry="1.10" fill="#8a8a8a" opacity="0.42"/>
<ellipse cx="118.93" cy="98.80" rx="1.27" ry="0.98" fill="#6a70a4" opacity="0.7" filter="url(#soft2)"/>
<rect x="114.88" y="84.5" width="0.9" height="32.5" fill="#c4c4c4"/>
<rect x="131" y="84.5" width="48" height="32.5" fill="#282828"/>
<rect x="134.35" y="101.40" width="0.9" height="14.30" fill="#666"/>
<rect x="132.20" y="101.40" width="0.9" height="9.75" fill="#484848"/>
<rect x="136.50" y="101.40" width="0.9" height="9.75" fill="#484848"/>
<path d="M134.80,85.80 L135.62,86.31 L136.23,88.34 L136.85,91.39 L137.05,94.43 L137.67,97.48 L138.03,100.02 L136.95,101.75 L134.80,101.34 L132.64,101.75 L131.57,100.02 L131.93,97.48 L132.54,94.43 L132.75,91.39 L133.36,88.34 L133.98,86.31 L134.80,85.80Z" fill="url(#body)" stroke="#bdbdbd" stroke-width="0.4" stroke-linejoin="round"/>
<ellipse cx="133.84" cy="99.06" rx="0.95" ry="1.02" fill="#8a8a8a" opacity="0.52"/>
<ellipse cx="136.43" cy="94.43" rx="0.70" ry="0.99" fill="#8a8a8a" opacity="0.28"/>
<ellipse cx="134.28" cy="90.79" rx="0.77" ry="1.06" fill="#8a8a8a" opacity="0.42"/>
<ellipse cx="135.57" cy="98.80" rx="1.57" ry="1.22" fill="#6a70a4" opacity="0.7" filter="url(#soft2)"/>
<rect x="142.50" y="101.40" width="0.9" height="14.30" fill="#666"/>
<rect x="140.35" y="101.40" width="0.9" height="9.75" fill="#484848"/>
<rect x="144.65" y="101.40" width="0.9" height="9.75" fill="#484848"/>
<path d="M142.95,85.80 L143.77,86.31 L144.38,88.34 L145.00,91.39 L145.20,94.43 L145.82,97.48 L146.18,100.02 L145.10,101.75 L142.95,101.34 L140.79,101.75 L139.72,100.02 L140.08,97.48 L140.69,94.43 L140.90,91.39 L141.51,88.34 L142.13,86.31 L142.95,85.80Z" fill="url(#body)" stroke="#bdbdbd" stroke-width="0.4" stroke-linejoin="round"/>
<ellipse cx="142.67" cy="95.19" rx="0.86" ry="1.14" fill="#8a8a8a" opacity="0.27"/>
<ellipse cx="142.22" cy="99.69" rx="0.69" ry="1.30" fill="#8a8a8a" opacity="0.44"/>
<ellipse cx="144.14" cy="92.06" rx="0.79" ry="1.05" fill="#8a8a8a" opacity="0.37"/>
<ellipse cx="142.84" cy="98.80" rx="2.24" ry="1.77" fill="#6a70a4" opacity="0.7" filter="url(#soft2)"/>
<rect x="138.55" y="84.5" width="0.9" height="32.5" fill="#c4c4c4"/>
<rect x="150.76" y="101.40" width="0.9" height="14.30" fill="#666"/>
<rect x="148.61" y="101.40" width="0.9" height="9.75" fill="#484848"/>
<rect x="152.91" y="101.40" width="0.9" height="9.75" fill="#484848"/>
<path d="M151.21,85.80 L152.03,86.31 L152.65,88.34 L153.26,91.39 L153.47,94.43 L154.08,97.48 L154.44,100.02 L153.36,101.75 L151.21,101.34 L149.06,101.75 L147.98,100.02 L148.34,97.48 L148.95,94.43 L149.16,91.39 L149.77,88.34 L150.39,86.31 L151.21,85.80Z" fill="url(#body)" stroke="#bdbdbd" stroke-width="0.4" stroke-linejoin="round"/>
<ellipse cx="152.43" cy="90.08" rx="0.62" ry="1.51" fill="#8a8a8a" opacity="0.52"/>
<ellipse cx="151.12" cy="95.83" rx="0.60" ry="1.19" fill="#8a8a8a" opacity="0.53"/>
<ellipse cx="152.28" cy="98.55" rx="1.28" ry="1.05" fill="#8a8a8a" opacity="0.28"/>
<ellipse cx="150.52" cy="98.80" rx="2.47" ry="1.96" fill="#6a70a4" opacity="0.7" filter="url(#soft2)"/>
<rect x="146.55" y="84.5" width="0.9" height="32.5" fill="#c4c4c4"/>
<rect x="158.66" y="101.40" width="0.9" height="14.30" fill="#666"/>
<rect x="156.51" y="101.40" width="0.9" height="9.75" fill="#484848"/>
<rect x="160.81" y="101.40" width="0.9" height="9.75" fill="#484848"/>
<path d="M159.11,85.80 L159.93,86.31 L160.55,88.34 L161.16,91.39 L161.37,94.43 L161.98,97.48 L162.34,100.02 L161.26,101.75 L159.11,101.34 L156.96,101.75 L155.88,100.02 L156.24,97.48 L156.85,94.43 L157.06,91.39 L157.67,88.34 L158.29,86.31 L159.11,85.80Z" fill="url(#body)" stroke="#bdbdbd" stroke-width="0.4" stroke-linejoin="round"/>
<ellipse cx="160.56" cy="97.19" rx="1.05" ry="1.56" fill="#8a8a8a" opacity="0.39"/>
<ellipse cx="159.28" cy="90.26" rx="1.15" ry="1.03" fill="#8a8a8a" opacity="0.53"/>
<ellipse cx="159.59" cy="92.95" rx="0.69" ry="1.05" fill="#8a8a8a" opacity="0.44"/>
<ellipse cx="159.51" cy="98.80" rx="1.98" ry="1.56" fill="#6a70a4" opacity="0.7" filter="url(#soft2)"/>
<rect x="154.55" y="84.5" width="0.9" height="32.5" fill="#c4c4c4"/>
<rect x="166.29" y="101.40" width="0.9" height="14.30" fill="#666"/>
<rect x="164.14" y="101.40" width="0.9" height="9.75" fill="#484848"/>
<rect x="168.44" y="101.40" width="0.9" height="9.75" fill="#484848"/>
<path d="M166.74,85.80 L167.56,86.31 L168.18,88.34 L168.79,91.39 L169.00,94.43 L169.61,97.48 L169.97,100.02 L168.90,101.75 L166.74,101.34 L164.59,101.75 L163.51,100.02 L163.87,97.48 L164.49,94.43 L164.69,91.39 L165.31,88.34 L165.92,86.31 L166.74,85.80Z" fill="url(#body)" stroke="#bdbdbd" stroke-width="0.4" stroke-linejoin="round"/>
<ellipse cx="166.82" cy="95.78" rx="0.87" ry="1.02" fill="#8a8a8a" opacity="0.43"/>
<ellipse cx="165.14" cy="92.92" rx="0.92" ry="1.76" fill="#8a8a8a" opacity="0.44"/>
<ellipse cx="168.00" cy="94.69" rx="0.76" ry="1.05" fill="#8a8a8a" opacity="0.54"/>
<ellipse cx="167.15" cy="98.80" rx="1.51" ry="1.17" fill="#6a70a4" opacity="0.7" filter="url(#soft2)"/>
<rect x="162.55" y="84.5" width="0.9" height="32.5" fill="#c4c4c4"/>
<rect x="174.26" y="101.40" width="0.9" height="14.30" fill="#666"/>
<rect x="172.11" y="101.40" width="0.9" height="9.75" fill="#484848"/>
<rect x="176.41" y="101.40" width="0.9" height="9.75" fill="#484848"/>
<path d="M174.71,85.80 L175.53,86.31 L176.15,88.34 L176.76,91.39 L176.97,94.43 L177.58,97.48 L177.94,100.02 L176.87,101.75 L174.71,101.34 L172.56,101.75 L171.48,100.02 L171.84,97.48 L172.46,94.43 L172.66,91.39 L173.28,88.34 L173.89,86.31 L174.71,85.80Z" fill="url(#body)" stroke="#bdbdbd" stroke-width="0.4" stroke-linejoin="round"/>
<ellipse cx="174.71" cy="96.71" rx="0.89" ry="1.06" fill="#8a8a8a" opacity="0.45"/>
<ellipse cx="176.11" cy="92.17" rx="0.62" ry="1.14" fill="#8a8a8a" opacity="0.38"/>
<ellipse cx="175.31" cy="91.87" rx="1.16" ry="1.54" fill="#8a8a8a" opacity="0.40"/>
<ellipse cx="174.12" cy="98.80" rx="1.73" ry="1.36" fill="#6a70a4" opacity="0.7" filter="url(#soft2)"/>
<rect x="170.55" y="84.5" width="0.9" height="32.5" fill="#c4c4c4"/>
<rect x="188" y="84.5" width="47" height="32.5" fill="#282828"/>
<rect x="191.35" y="101.40" width="0.9" height="14.30" fill="#666"/>
<rect x="189.20" y="101.40" width="0.9" height="9.75" fill="#484848"/>
<rect x="193.50" y="101.40" width="0.9" height="9.75" fill="#484848"/>
<path d="M191.80,85.80 L192.61,86.31 L193.21,88.34 L193.81,91.39 L194.01,94.43 L194.62,97.48 L194.97,100.02 L193.91,101.75 L191.80,101.34 L189.69,101.75 L188.64,100.02 L188.99,97.48 L189.59,94.43 L189.80,91.39 L190.40,88.34 L191.00,86.31 L191.80,85.80Z" fill="url(#body)" stroke="#bdbdbd" stroke-width="0.4" stroke-linejoin="round"/>
<ellipse cx="192.83" cy="92.21" rx="0.76" ry="1.56" fill="#8a8a8a" opacity="0.34"/>
<ellipse cx="193.26" cy="94.90" rx="0.73" ry="1.02" fill="#8a8a8a" opacity="0.38"/>
<ellipse cx="192.33" cy="99.50" rx="0.70" ry="1.19" fill="#8a8a8a" opacity="0.31"/>
<ellipse cx="192.75" cy="98.80" rx="1.93" ry="1.52" fill="#6a70a4" opacity="0.7" filter="url(#soft2)"/>
<rect x="199.03" y="101.40" width="0.9" height="14.30" fill="#666"/>
<rect x="196.88" y="101.40" width="0.9" height="9.75" fill="#484848"/>
<rect x="201.18" y="101.40" width="0.9" height="9.75" fill="#484848"/>
<path d="M199.48,85.80 L200.28,86.31 L200.89,88.34 L201.49,91.39 L201.69,94.43 L202.29,97.48 L202.64,100.02 L201.59,101.75 L199.48,101.34 L197.37,101.75 L196.32,100.02 L196.67,97.48 L197.27,94.43 L197.47,91.39 L198.08,88.34 L198.68,86.31 L199.48,85.80Z" fill="url(#body)" stroke="#bdbdbd" stroke-width="0.4" stroke-linejoin="round"/>
<ellipse cx="198.07" cy="93.86" rx="1.23" ry="1.68" fill="#8a8a8a" opacity="0.47"/>
<ellipse cx="201.08" cy="99.32" rx="0.83" ry="0.99" fill="#8a8a8a" opacity="0.53"/>
<ellipse cx="200.27" cy="90.19" rx="1.07" ry="1.18" fill="#8a8a8a" opacity="0.36"/>
<ellipse cx="199.14" cy="98.80" rx="1.29" ry="1.00" fill="#6a70a4" opacity="0.7" filter="url(#soft2)"/>
<rect x="195.38" y="84.5" width="0.9" height="32.5" fill="#c4c4c4"/>
<rect x="206.84" y="101.40" width="0.9" height="14.30" fill="#666"/>
<rect x="204.69" y="101.40" width="0.9" height="9.75" fill="#484848"/>
<rect x="208.99" y="101.40" width="0.9" height="9.75" fill="#484848"/>
<path d="M207.29,85.80 L208.09,86.31 L208.69,88.34 L209.29,91.39 L209.49,94.43 L210.10,97.48 L210.45,100.02 L209.39,101.75 L207.29,101.34 L205.18,101.75 L204.12,100.02 L204.47,97.48 L205.08,94.43 L205.28,91.39 L205.88,88.34 L206.48,86.31 L207.29,85.80Z" fill="url(#body)" stroke="#bdbdbd" stroke-width="0.4" stroke-linejoin="round"/>
<ellipse cx="206.58" cy="93.43" rx="1.27" ry="0.92" fill="#8a8a8a" opacity="0.54"/>
<ellipse cx="206.34" cy="93.48" rx="1.18" ry="1.62" fill="#8a8a8a" opacity="0.38"/>
<ellipse cx="205.84" cy="94.67" rx="0.86" ry="1.72" fill="#8a8a8a" opacity="0.31"/>
<ellipse cx="207.01" cy="98.80" rx="1.31" ry="1.02" fill="#6a70a4" opacity="0.7" filter="url(#soft2)"/>
<rect x="203.22" y="84.5" width="0.9" height="32.5" fill="#c4c4c4"/>
<rect x="214.68" y="101.40" width="0.9" height="14.30" fill="#666"/>
<rect x="212.53" y="101.40" width="0.9" height="9.75" fill="#484848"/>
<rect x="216.83" y="101.40" width="0.9" height="9.75" fill="#484848"/>
<path d="M215.13,85.80 L215.94,86.31 L216.54,88.34 L217.14,91.39 L217.34,94.43 L217.95,97.48 L218.30,100.02 L217.24,101.75 L215.13,101.34 L213.03,101.75 L211.97,100.02 L212.32,97.48 L212.93,94.43 L213.13,91.39 L213.73,88.34 L214.33,86.31 L215.13,85.80Z" fill="url(#body)" stroke="#bdbdbd" stroke-width="0.4" stroke-linejoin="round"/>
<ellipse cx="214.85" cy="98.11" rx="1.14" ry="0.84" fill="#8a8a8a" opacity="0.26"/>
<ellipse cx="213.73" cy="99.21" rx="0.78" ry="1.55" fill="#8a8a8a" opacity="0.52"/>
<ellipse cx="214.62" cy="92.63" rx="1.27" ry="1.42" fill="#8a8a8a" opacity="0.33"/>
<ellipse cx="215.57" cy="98.80" rx="1.87" ry="1.47" fill="#6a70a4" opacity="0.7" filter="url(#soft2)"/>
<rect x="211.05" y="84.5" width="0.9" height="32.5" fill="#c4c4c4"/>
<rect x="222.67" y="101.40" width="0.9" height="14.30" fill="#666"/>
<rect x="220.52" y="101.40" width="0.9" height="9.75" fill="#484848"/>
<rect x="224.82" y="101.40" width="0.9" height="9.75" fill="#484848"/>
<path d="M223.12,85.80 L223.92,86.31 L224.52,88.34 L225.12,91.39 L225.32,94.43 L225.93,97.48 L226.28,100.02 L225.22,101.75 L223.12,101.34 L221.01,101.75 L219.95,100.02 L220.30,97.48 L220.91,94.43 L221.11,91.39 L221.71,88.34 L222.31,86.31 L223.12,85.80Z" fill="url(#body)" stroke="#bdbdbd" stroke-width="0.4" stroke-linejoin="round"/>
<ellipse cx="221.52" cy="97.54" rx="1.24" ry="1.43" fill="#8a8a8a" opacity="0.53"/>
<ellipse cx="221.59" cy="92.24" rx="0.93" ry="1.76" fill="#8a8a8a" opacity="0.54"/>
<ellipse cx="222.75" cy="92.41" rx="0.90" ry="1.29" fill="#8a8a8a" opacity="0.53"/>
<ellipse cx="222.48" cy="98.80" rx="1.43" ry="1.11" fill="#6a70a4" opacity="0.7" filter="url(#soft2)"/>
<rect x="218.88" y="84.5" width="0.9" height="32.5" fill="#c4c4c4"/>
<rect x="230.78" y="101.40" width="0.9" height="14.30" fill="#666"/>
<rect x="228.63" y="101.40" width="0.9" height="9.75" fill="#484848"/>
<rect x="232.93" y="101.40" width="0.9" height="9.75" fill="#484848"/>
<path d="M231.23,85.80 L232.03,86.31 L232.63,88.34 L233.23,91.39 L233.44,94.43 L234.04,97.48 L234.39,100.02 L233.34,101.75 L231.23,101.34 L229.12,101.75 L228.06,100.02 L228.41,97.48 L229.02,94.43 L229.22,91.39 L229.82,88.34 L230.42,86.31 L231.23,85.80Z" fill="url(#body)" stroke="#bdbdbd" stroke-width="0.4" stroke-linejoin="round"/>
<ellipse cx="232.26" cy="97.71" rx="1.03" ry="1.13" fill="#8a8a8a" opacity="0.35"/>
<ellipse cx="230.78" cy="97.81" rx="0.66" ry="1.00" fill="#8a8a8a" opacity="0.48"/>
<ellipse cx="230.41" cy="90.52" rx="0.62" ry="1.35" fill="#8a8a8a" opacity="0.35"/>
<ellipse cx="232.19" cy="98.80" rx="1.80" ry="1.41" fill="#6a70a4" opacity="0.7" filter="url(#soft2)"/>
<rect x="226.72" y="84.5" width="0.9" height="32.5" fill="#c4c4c4"/>
<rect x="23" y="122" width="47" height="31.80000000000001" fill="#282828"/>
<rect x="26.76" y="138.54" width="0.9" height="13.99" fill="#666"/>
<rect x="24.61" y="138.54" width="0.9" height="9.54" fill="#484848"/>
<rect x="28.91" y="138.54" width="0.9" height="9.54" fill="#484848"/>
<path d="M27.21,123.30 L28.01,123.80 L28.62,125.78 L29.22,128.77 L29.42,131.75 L30.02,134.73 L30.37,137.21 L29.32,138.90 L27.21,138.50 L25.10,138.90 L24.05,137.21 L24.40,134.73 L25.00,131.75 L25.20,128.77 L25.80,125.78 L26.41,123.80 L27.21,123.30Z" fill="url(#body)" stroke="#bdbdbd" stroke-width="0.4" stroke-linejoin="round"/>
<ellipse cx="26.45" cy="128.11" rx="0.67" ry="1.30" fill="#8a8a8a" opacity="0.46"/>
<ellipse cx="27.04" cy="129.60" rx="0.89" ry="1.42" fill="#8a8a8a" opacity="0.45"/>
<ellipse cx="28.01" cy="135.69" rx="1.07" ry="0.92" fill="#8a8a8a" opacity="0.50"/>
<ellipse cx="26.80" cy="136.02" rx="1.51" ry="1.18" fill="#6a70a4" opacity="0.7" filter="url(#soft2)"/>
<rect x="34.22" y="138.54" width="0.9" height="13.99" fill="#666"/>
<rect x="32.07" y="138.54" width="0.9" height="9.54" fill="#484848"/>
<rect x="36.37" y="138.54" width="0.9" height="9.54" fill="#484848"/>
<path d="M34.67,123.30 L35.48,123.80 L36.08,125.78 L36.68,128.77 L36.88,131.75 L37.49,134.73 L37.84,137.21 L36.78,138.90 L34.67,138.50 L32.56,138.90 L31.51,137.21 L31.86,134.73 L32.46,131.75 L32.67,128.77 L33.27,125.78 L33.87,123.80 L34.67,123.30Z" fill="url(#body)" stroke="#bdbdbd" stroke-width="0.4" stroke-linejoin="round"/>
<ellipse cx="35.44" cy="129.25" rx="0.77" ry="1.05" fill="#8a8a8a" opacity="0.30"/>
<ellipse cx="35.91" cy="133.02" rx="0.83" ry="1.20" fill="#8a8a8a" opacity="0.55"/>
<ellipse cx="34.70" cy="129.57" rx="1.17" ry="1.45" fill="#8a8a8a" opacity="0.55"/>
<ellipse cx="33.88" cy="136.02" rx="1.35" ry="1.04" fill="#6a70a4" opacity="0.7" filter="url(#soft2)"/>
<rect x="30.38" y="122" width="0.9" height="31.80000000000001" fill="#c4c4c4"/>
<rect x="42.32" y="138.54" width="0.9" height="13.99" fill="#666"/>
<rect x="40.17" y="138.54" width="0.9" height="9.54" fill="#484848"/>
<rect x="44.47" y="138.54" width="0.9" height="9.54" fill="#484848"/>
<path d="M42.77,123.30 L43.58,123.80 L44.18,125.78 L44.78,128.77 L44.98,131.75 L45.59,134.73 L45.94,137.21 L44.88,138.90 L42.77,138.50 L40.67,138.90 L39.61,137.21 L39.96,134.73 L40.57,131.75 L40.77,128.77 L41.37,125.78 L41.97,123.80 L42.77,123.30Z" fill="url(#body)" stroke="#bdbdbd" stroke-width="0.4" stroke-linejoin="round"/>
<ellipse cx="43.87" cy="136.36" rx="0.63" ry="1.09" fill="#8a8a8a" opacity="0.29"/>
<ellipse cx="41.78" cy="136.94" rx="1.01" ry="1.73" fill="#8a8a8a" opacity="0.36"/>
<ellipse cx="43.95" cy="131.74" rx="0.78" ry="1.58" fill="#8a8a8a" opacity="0.53"/>
<ellipse cx="41.99" cy="136.02" rx="1.30" ry="1.01" fill="#6a70a4" opacity="0.7" filter="url(#soft2)"/>
<rect x="38.22" y="122" width="0.9" height="31.80000000000001" fill="#c4c4c4"/>
<rect x="50.04" y="138.54" width="0.9" height="13.99" fill="#666"/>
<rect x="47.89" y="138.54" width="0.9" height="9.54" fill="#484848"/>
<rect x="52.19" y="138.54" width="0.9" height="9.54" fill="#484848"/>
<path d="M50.49,123.30 L51.29,123.80 L51.89,125.78 L52.50,128.77 L52.70,131.75 L53.30,134.73 L53.65,137.21 L52.60,138.90 L50.49,138.50 L48.38,138.90 L47.33,137.21 L47.68,134.73 L48.28,131.75 L48.48,128.77 L49.08,125.78 L49.69,123.80 L50.49,123.30Z" fill="url(#body)" stroke="#bdbdbd" stroke-width="0.4" stroke-linejoin="round"/>
<ellipse cx="49.58" cy="130.94" rx="0.70" ry="1.00" fill="#8a8a8a" opacity="0.33"/>
<ellipse cx="50.81" cy="133.75" rx="0.74" ry="0.81" fill="#8a8a8a" opacity="0.35"/>
<ellipse cx="51.06" cy="129.11" rx="0.82" ry="1.00" fill="#8a8a8a" opacity="0.49"/>
<ellipse cx="50.58" cy="136.02" rx="1.36" ry="1.06" fill="#6a70a4" opacity="0.7" filter="url(#soft2)"/>
<rect x="46.05" y="122" width="0.9" height="31.80000000000001" fill="#c4c4c4"/>
<rect x="57.56" y="138.54" width="0.9" height="13.99" fill="#666"/>
<rect x="55.41" y="138.54" width="0.9" height="9.54" fill="#484848"/>
<rect x="59.71" y="138.54" width="0.9" height="9.54" fill="#484848"/>
<path d="M58.01,123.30 L58.81,123.80 L59.42,125.78 L60.02,128.77 L60.22,131.75 L60.82,134.73 L61.17,137.21 L60.12,138.90 L58.01,138.50 L55.90,138.90 L54.85,137.21 L55.20,134.73 L55.80,131.75 L56.00,128.77 L56.60,125.78 L57.21,123.80 L58.01,123.30Z" fill="url(#body)" stroke="#bdbdbd" stroke-width="0.4" stroke-linejoin="round"/>
<ellipse cx="57.67" cy="132.74" rx="1.05" ry="0.89" fill="#8a8a8a" opacity="0.30"/>
<ellipse cx="58.64" cy="131.35" rx="0.80" ry="1.11" fill="#8a8a8a" opacity="0.54"/>
<ellipse cx="57.41" cy="132.90" rx="0.85" ry="1.22" fill="#8a8a8a" opacity="0.51"/>
<ellipse cx="59.00" cy="136.02" rx="1.09" ry="0.83" fill="#6a70a4" opacity="0.7" filter="url(#soft2)"/>
<rect x="53.88" y="122" width="0.9" height="31.80000000000001" fill="#c4c4c4"/>
<rect x="65.45" y="138.54" width="0.9" height="13.99" fill="#666"/>
<rect x="63.30" y="138.54" width="0.9" height="9.54" fill="#484848"/>
<rect x="67.60" y="138.54" width="0.9" height="9.54" fill="#484848"/>
<path d="M65.90,123.30 L66.71,123.80 L67.31,125.78 L67.91,128.77 L68.11,131.75 L68.71,134.73 L69.07,137.21 L68.01,138.90 L65.90,138.50 L63.79,138.90 L62.74,137.21 L63.09,134.73 L63.69,131.75 L63.89,128.77 L64.50,125.78 L65.10,123.80 L65.90,123.30Z" fill="url(#body)" stroke="#bdbdbd" stroke-width="0.4" stroke-linejoin="round"/>
<ellipse cx="66.63" cy="129.30" rx="0.60" ry="1.70" fill="#8a8a8a" opacity="0.38"/>
<ellipse cx="66.93" cy="131.31" rx="1.22" ry="1.26" fill="#8a8a8a" opacity="0.30"/>
<ellipse cx="64.34" cy="132.76" rx="1.05" ry="1.71" fill="#8a8a8a" opacity="0.28"/>
<ellipse cx="66.15" cy="136.02" rx="1.24" ry="0.96" fill="#6a70a4" opacity="0.7" filter="url(#soft2)"/>
<rect x="61.72" y="122" width="0.9" height="31.80000000000001" fill="#c4c4c4"/>
<rect x="77" y="122" width="46" height="31.80000000000001" fill="#282828"/>
<rect x="80.39" y="138.54" width="0.9" height="13.99" fill="#666"/>
<rect x="78.24" y="138.54" width="0.9" height="9.54" fill="#484848"/>
<rect x="82.54" y="138.54" width="0.9" height="9.54" fill="#484848"/>
<path d="M80.84,123.30 L81.62,123.80 L82.21,125.78 L82.80,128.77 L83.00,131.75 L83.59,134.73 L83.93,137.21 L82.90,138.90 L80.84,138.50 L78.77,138.90 L77.74,137.21 L78.08,134.73 L78.67,131.75 L78.87,128.77 L79.46,125.78 L80.05,123.80 L80.84,123.30Z" fill="url(#body)" stroke="#bdbdbd" stroke-width="0.4" stroke-linejoin="round"/>
<ellipse cx="79.72" cy="130.09" rx="0.96" ry="1.73" fill="#8a8a8a" opacity="0.28"/>
<ellipse cx="80.81" cy="135.27" rx="1.28" ry="1.00" fill="#8a8a8a" opacity="0.29"/>
<ellipse cx="82.23" cy="136.97" rx="0.94" ry="0.85" fill="#8a8a8a" opacity="0.53"/>
<ellipse cx="80.61" cy="136.02" rx="1.13" ry="0.87" fill="#6a70a4" opacity="0.7" filter="url(#soft2)"/>
<rect x="88.12" y="138.54" width="0.9" height="13.99" fill="#666"/>
<rect x="85.97" y="138.54" width="0.9" height="9.54" fill="#484848"/>
<rect x="90.27" y="138.54" width="0.9" height="9.54" fill="#484848"/>
<path d="M88.57,123.30 L89.36,123.80 L89.95,125.78 L90.54,128.77 L90.73,131.75 L91.32,134.73 L91.67,137.21 L90.64,138.90 L88.57,138.50 L86.51,138.90 L85.48,137.21 L85.82,134.73 L86.41,131.75 L86.61,128.77 L87.20,125.78 L87.79,123.80 L88.57,123.30Z" fill="url(#body)" stroke="#bdbdbd" stroke-width="0.4" stroke-linejoin="round"/>
<ellipse cx="89.59" cy="128.87" rx="1.15" ry="1.02" fill="#8a8a8a" opacity="0.37"/>
<ellipse cx="89.66" cy="135.52" rx="0.73" ry="1.02" fill="#8a8a8a" opacity="0.37"/>
<ellipse cx="88.63" cy="131.09" rx="0.69" ry="1.05" fill="#8a8a8a" opacity="0.47"/>
<ellipse cx="89.37" cy="136.02" rx="1.34" ry="1.04" fill="#6a70a4" opacity="0.7" filter="url(#soft2)"/>
<rect x="84.22" y="122" width="0.9" height="31.80000000000001" fill="#c4c4c4"/>
<rect x="95.75" y="138.54" width="0.9" height="13.99" fill="#666"/>
<rect x="93.60" y="138.54" width="0.9" height="9.54" fill="#484848"/>
<rect x="97.90" y="138.54" width="0.9" height="9.54" fill="#484848"/>
<path d="M96.20,123.30 L96.99,123.80 L97.58,125.78 L98.17,128.77 L98.37,131.75 L98.96,134.73 L99.30,137.21 L98.27,138.90 L96.20,138.50 L94.14,138.90 L93.11,137.21 L93.45,134.73 L94.04,131.75 L94.24,128.77 L94.83,125.78 L95.42,123.80 L96.20,123.30Z" fill="url(#body)" stroke="#bdbdbd" stroke-width="0.4" stroke-linejoin="round"/>
<ellipse cx="97.01" cy="127.65" rx="1.19" ry="0.92" fill="#8a8a8a" opacity="0.43"/>
<ellipse cx="96.36" cy="133.51" rx="0.81" ry="1.22" fill="#8a8a8a" opacity="0.42"/>
<ellipse cx="95.97" cy="133.82" rx="0.91" ry="1.24" fill="#8a8a8a" opacity="0.26"/>
<ellipse cx="96.44" cy="136.02" rx="1.01" ry="0.77" fill="#6a70a4" opacity="0.7" filter="url(#soft2)"/>
<rect x="91.88" y="122" width="0.9" height="31.80000000000001" fill="#c4c4c4"/>
<rect x="103.22" y="138.54" width="0.9" height="13.99" fill="#666"/>
<rect x="101.07" y="138.54" width="0.9" height="9.54" fill="#484848"/>
<rect x="105.37" y="138.54" width="0.9" height="9.54" fill="#484848"/>
<path d="M103.67,123.30 L104.46,123.80 L105.05,125.78 L105.64,128.77 L105.84,131.75 L106.43,134.73 L106.77,137.21 L105.74,138.90 L103.67,138.50 L101.61,138.90 L100.58,137.21 L100.92,134.73 L101.51,131.75 L101.71,128.77 L102.30,125.78 L102.89,123.80 L103.67,123.30Z" fill="url(#body)" stroke="#bdbdbd" stroke-width="0.4" stroke-linejoin="round"/>
<ellipse cx="104.50" cy="135.03" rx="0.92" ry="0.98" fill="#8a8a8a" opacity="0.39"/>
<ellipse cx="102.44" cy="128.55" rx="0.90" ry="0.89" fill="#8a8a8a" opacity="0.38"/>
<ellipse cx="103.71" cy="127.68" rx="1.05" ry="0.88" fill="#8a8a8a" opacity="0.47"/>
<ellipse cx="104.23" cy="136.02" rx="1.18" ry="0.91" fill="#6a70a4" opacity="0.7" filter="url(#soft2)"/>
<rect x="99.55" y="122" width="0.9" height="31.80000000000001" fill="#c4c4c4"/>
<rect x="110.78" y="138.54" width="0.9" height="13.99" fill="#666"/>
<rect x="108.63" y="138.54" width="0.9" height="9.54" fill="#484848"/>
<rect x="112.93" y="138.54" width="0.9" height="9.54" fill="#484848"/>
<path d="M111.23,123.30 L112.02,123.80 L112.61,125.78 L113.20,128.77 L113.39,131.75 L113.98,134.73 L114.33,137.21 L113.30,138.90 L111.23,138.50 L109.17,138.90 L108.14,137.21 L108.48,134.73 L109.07,131.75 L109.27,128.77 L109.86,125.78 L110.45,123.80 L111.23,123.30Z" fill="url(#body)" stroke="#bdbdbd" stroke-width="0.4" stroke-linejoin="round"/>
<ellipse cx="111.24" cy="131.03" rx="1.27" ry="0.94" fill="#8a8a8a" opacity="0.51"/>
<ellipse cx="112.79" cy="134.55" rx="1.17" ry="0.99" fill="#8a8a8a" opacity="0.54"/>
<ellipse cx="111.21" cy="136.78" rx="1.24" ry="0.97" fill="#8a8a8a" opacity="0.49"/>
<ellipse cx="112.09" cy="136.02" rx="1.19" ry="0.92" fill="#6a70a4" opacity="0.7" filter="url(#soft2)"/>
<rect x="107.22" y="122" width="0.9" height="31.80000000000001" fill="#c4c4c4"/>
<rect x="118.63" y="138.54" width="0.9" height="13.99" fill="#666"/>
<rect x="116.48" y="138.54" width="0.9" height="9.54" fill="#484848"/>
<rect x="120.78" y="138.54" width="0.9" height="9.54" fill="#484848"/>
<path d="M119.08,123.30 L119.86,123.80 L120.45,125.78 L121.04,128.77 L121.24,131.75 L121.83,134.73 L122.17,137.21 L121.14,138.90 L119.08,138.50 L117.01,138.90 L115.98,137.21 L116.33,134.73 L116.91,131.75 L117.11,128.77 L117.70,125.78 L118.29,123.80 L119.08,123.30Z" fill="url(#body)" stroke="#bdbdbd" stroke-width="0.4" stroke-linejoin="round"/>
<ellipse cx="119.88" cy="128.85" rx="1.23" ry="1.07" fill="#8a8a8a" opacity="0.49"/>
<ellipse cx="117.96" cy="132.27" rx="1.24" ry="1.01" fill="#8a8a8a" opacity="0.33"/>
<ellipse cx="119.10" cy="130.45" rx="0.63" ry="0.98" fill="#8a8a8a" opacity="0.30"/>
<ellipse cx="119.95" cy="136.02" rx="1.02" ry="0.78" fill="#6a70a4" opacity="0.7" filter="url(#soft2)"/>
<rect x="114.88" y="122" width="0.9" height="31.80000000000001" fill="#c4c4c4"/>
<rect x="131" y="122" width="48" height="31.80000000000001" fill="#282828"/>
<rect x="134.79" y="138.54" width="0.9" height="13.99" fill="#666"/>
<rect x="132.64" y="138.54" width="0.9" height="9.54" fill="#484848"/>
<rect x="136.94" y="138.54" width="0.9" height="9.54" fill="#484848"/>
<path d="M135.24,123.30 L136.06,123.80 L136.67,125.78 L137.29,128.77 L137.49,131.75 L138.11,134.73 L138.47,137.21 L137.39,138.90 L135.24,138.50 L133.08,138.90 L132.01,137.21 L132.37,134.73 L132.98,131.75 L133.19,128.77 L133.80,125.78 L134.42,123.80 L135.24,123.30Z" fill="url(#body)" stroke="#bdbdbd" stroke-width="0.4" stroke-linejoin="round"/>
<ellipse cx="134.15" cy="135.07" rx="0.68" ry="1.33" fill="#8a8a8a" opacity="0.44"/>
<ellipse cx="134.78" cy="135.95" rx="0.99" ry="1.38" fill="#8a8a8a" opacity="0.51"/>
<ellipse cx="133.94" cy="137.14" rx="1.04" ry="1.19" fill="#8a8a8a" opacity="0.49"/>
<ellipse cx="134.77" cy="136.02" rx="1.55" ry="1.21" fill="#6a70a4" opacity="0.7" filter="url(#soft2)"/>
<rect x="142.60" y="138.54" width="0.9" height="13.99" fill="#666"/>
<rect x="140.45" y="138.54" width="0.9" height="9.54" fill="#484848"/>
<rect x="144.75" y="138.54" width="0.9" height="9.54" fill="#484848"/>
<path d="M143.05,123.30 L143.87,123.80 L144.48,125.78 L145.10,128.77 L145.30,131.75 L145.92,134.73 L146.28,137.21 L145.20,138.90 L143.05,138.50 L140.89,138.90 L139.82,137.21 L140.17,134.73 L140.79,131.75 L141.00,128.77 L141.61,125.78 L142.23,123.80 L143.05,123.30Z" fill="url(#body)" stroke="#bdbdbd" stroke-width="0.4" stroke-linejoin="round"/>
<ellipse cx="142.59" cy="134.87" rx="0.91" ry="0.98" fill="#8a8a8a" opacity="0.47"/>
<ellipse cx="141.56" cy="135.42" rx="0.78" ry="1.44" fill="#8a8a8a" opacity="0.55"/>
<ellipse cx="143.33" cy="133.87" rx="0.82" ry="0.80" fill="#8a8a8a" opacity="0.26"/>
<ellipse cx="142.35" cy="136.02" rx="1.75" ry="1.38" fill="#6a70a4" opacity="0.7" filter="url(#soft2)"/>
<rect x="138.55" y="122" width="0.9" height="31.80000000000001" fill="#c4c4c4"/>
<rect x="150.51" y="138.54" width="0.9" height="13.99" fill="#666"/>
<rect x="148.36" y="138.54" width="0.9" height="9.54" fill="#484848"/>
<rect x="152.66" y="138.54" width="0.9" height="9.54" fill="#484848"/>
<path d="M150.96,123.30 L151.78,123.80 L152.40,125.78 L153.01,128.77 L153.22,131.75 L153.83,134.73 L154.19,137.21 L153.11,138.90 L150.96,138.50 L148.81,138.90 L147.73,137.21 L148.09,134.73 L148.70,131.75 L148.91,128.77 L149.52,125.78 L150.14,123.80 L150.96,123.30Z" fill="url(#body)" stroke="#bdbdbd" stroke-width="0.4" stroke-linejoin="round"/>
<ellipse cx="151.00" cy="136.17" rx="0.69" ry="1.03" fill="#8a8a8a" opacity="0.45"/>
<ellipse cx="149.39" cy="127.30" rx="0.85" ry="0.91" fill="#8a8a8a" opacity="0.36"/>
<ellipse cx="150.05" cy="133.07" rx="1.01" ry="1.00" fill="#8a8a8a" opacity="0.44"/>
<ellipse cx="150.91" cy="136.02" rx="1.51" ry="1.18" fill="#6a70a4" opacity="0.7" filter="url(#soft2)"/>
<rect x="146.55" y="122" width="0.9" height="31.80000000000001" fill="#c4c4c4"/>
<rect x="158.81" y="138.54" width="0.9" height="13.99" fill="#666"/>
<rect x="156.66" y="138.54" width="0.9" height="9.54" fill="#484848"/>
<rect x="160.96" y="138.54" width="0.9" height="9.54" fill="#484848"/>
<path d="M159.26,123.30 L160.08,123.80 L160.70,125.78 L161.31,128.77 L161.52,131.75 L162.13,134.73 L162.49,137.21 L161.42,138.90 L159.26,138.50 L157.11,138.90 L156.03,137.21 L156.39,134.73 L157.01,131.75 L157.21,128.77 L157.83,125.78 L158.44,123.80 L159.26,123.30Z" fill="url(#body)" stroke="#bdbdbd" stroke-width="0.4" stroke-linejoin="round"/>
<ellipse cx="158.42" cy="128.76" rx="0.67" ry="1.44" fill="#8a8a8a" opacity="0.51"/>
<ellipse cx="160.19" cy="131.27" rx="0.78" ry="0.81" fill="#8a8a8a" opacity="0.44"/>
<ellipse cx="159.47" cy="130.76" rx="1.05" ry="1.24" fill="#8a8a8a" opacity="0.53"/>
<ellipse cx="159.73" cy="136.02" rx="1.21" ry="0.93" fill="#6a70a4" opacity="0.7" filter="url(#soft2)"/>
<rect x="154.55" y="122" width="0.9" height="31.80000000000001" fill="#c4c4c4"/>
<rect x="166.79" y="138.54" width="0.9" height="13.99" fill="#666"/>
<rect x="164.64" y="138.54" width="0.9" height="9.54" fill="#484848"/>
<rect x="168.94" y="138.54" width="0.9" height="9.54" fill="#484848"/>
<path d="M167.24,123.30 L168.06,123.80 L168.68,125.78 L169.29,128.77 L169.50,131.75 L170.11,134.73 L170.47,137.21 L169.40,138.90 L167.24,138.50 L165.09,138.90 L164.01,137.21 L164.37,134.73 L164.99,131.75 L165.19,128.77 L165.81,125.78 L166.42,123.80 L167.24,123.30Z" fill="url(#body)" stroke="#bdbdbd" stroke-width="0.4" stroke-linejoin="round"/>
<ellipse cx="165.75" cy="132.56" rx="0.88" ry="1.04" fill="#8a8a8a" opacity="0.27"/>
<ellipse cx="168.16" cy="127.40" rx="0.99" ry="1.74" fill="#8a8a8a" opacity="0.29"/>
<ellipse cx="166.26" cy="133.32" rx="0.95" ry="1.44" fill="#8a8a8a" opacity="0.49"/>
<ellipse cx="166.59" cy="136.02" rx="1.28" ry="0.99" fill="#6a70a4" opacity="0.7" filter="url(#soft2)"/>
<rect x="162.55" y="122" width="0.9" height="31.80000000000001" fill="#c4c4c4"/>
<rect x="174.43" y="138.54" width="0.9" height="13.99" fill="#666"/>
<rect x="172.28" y="138.54" width="0.9" height="9.54" fill="#484848"/>
<rect x="176.58" y="138.54" width="0.9" height="9.54" fill="#484848"/>
<path d="M174.88,123.30 L175.70,123.80 L176.32,125.78 L176.93,128.77 L177.14,131.75 L177.75,134.73 L178.11,137.21 L177.03,138.90 L174.88,138.50 L172.73,138.90 L171.65,137.21 L172.01,134.73 L172.62,131.75 L172.83,128.77 L173.44,125.78 L174.06,123.80 L174.88,123.30Z" fill="url(#body)" stroke="#bdbdbd" stroke-width="0.4" stroke-linejoin="round"/>
<ellipse cx="173.40" cy="136.11" rx="1.15" ry="1.52" fill="#8a8a8a" opacity="0.25"/>
<ellipse cx="176.01" cy="134.68" rx="0.93" ry="1.54" fill="#8a8a8a" opacity="0.39"/>
<ellipse cx="173.98" cy="128.32" rx="0.76" ry="0.84" fill="#8a8a8a" opacity="0.35"/>
<ellipse cx="175.38" cy="136.02" rx="1.32" ry="1.02" fill="#6a70a4" opacity="0.7" filter="url(#soft2)"/>
<rect x="170.55" y="122" width="0.9" height="31.80000000000001" fill="#c4c4c4"/>
<rect x="188" y="122" width="47" height="31.80000000000001" fill="#282828"/>
<rect x="191.67" y="138.54" width="0.9" height="13.99" fill="#666"/>
<rect x="189.52" y="138.54" width="0.9" height="9.54" fill="#484848"/>
<rect x="193.82" y="138.54" width="0.9" height="9.54" fill="#484848"/>
<path d="M192.12,123.30 L192.93,123.80 L193.53,125.78 L194.13,128.77 L194.33,131.75 L194.94,134.73 L195.29,137.21 L194.23,138.90 L192.12,138.50 L190.01,138.90 L188.96,137.21 L189.31,134.73 L189.91,131.75 L190.12,128.77 L190.72,125.78 L191.32,123.80 L192.12,123.30Z" fill="url(#body)" stroke="#bdbdbd" stroke-width="0.4" stroke-linejoin="round"/>
<ellipse cx="192.80" cy="129.92" rx="0.99" ry="1.24" fill="#8a8a8a" opacity="0.49"/>
<ellipse cx="192.20" cy="129.91" rx="1.05" ry="1.77" fill="#8a8a8a" opacity="0.32"/>
<ellipse cx="193.35" cy="127.43" rx="0.78" ry="1.04" fill="#8a8a8a" opacity="0.47"/>
<ellipse cx="193.01" cy="136.02" rx="1.87" ry="1.47" fill="#6a70a4" opacity="0.7" filter="url(#soft2)"/>
<rect x="199.20" y="138.54" width="0.9" height="13.99" fill="#666"/>
<rect x="197.05" y="138.54" width="0.9" height="9.54" fill="#484848"/>
<rect x="201.35" y="138.54" width="0.9" height="9.54" fill="#484848"/>
<path d="M199.65,123.30 L200.45,123.80 L201.05,125.78 L201.65,128.77 L201.86,131.75 L202.46,134.73 L202.81,137.21 L201.76,138.90 L199.65,138.50 L197.54,138.90 L196.48,137.21 L196.83,134.73 L197.44,131.75 L197.64,128.77 L198.24,125.78 L198.84,123.80 L199.65,123.30Z" fill="url(#body)" stroke="#bdbdbd" stroke-width="0.4" stroke-linejoin="round"/>
<ellipse cx="200.87" cy="130.54" rx="0.77" ry="1.71" fill="#8a8a8a" opacity="0.44"/>
<ellipse cx="200.27" cy="133.89" rx="1.29" ry="1.27" fill="#8a8a8a" opacity="0.50"/>
<ellipse cx="200.28" cy="135.80" rx="0.91" ry="1.52" fill="#8a8a8a" opacity="0.42"/>
<ellipse cx="199.26" cy="136.02" rx="1.92" ry="1.51" fill="#6a70a4" opacity="0.7" filter="url(#soft2)"/>
<rect x="195.38" y="122" width="0.9" height="31.80000000000001" fill="#c4c4c4"/>
<rect x="207.21" y="138.54" width="0.9" height="13.99" fill="#666"/>
<rect x="205.06" y="138.54" width="0.9" height="9.54" fill="#484848"/>
<rect x="209.36" y="138.54" width="0.9" height="9.54" fill="#484848"/>
<path d="M207.66,123.30 L208.46,123.80 L209.06,125.78 L209.67,128.77 L209.87,131.75 L210.47,134.73 L210.82,137.21 L209.77,138.90 L207.66,138.50 L205.55,138.90 L204.49,137.21 L204.84,134.73 L205.45,131.75 L205.65,128.77 L206.25,125.78 L206.85,123.80 L207.66,123.30Z" fill="url(#body)" stroke="#bdbdbd" stroke-width="0.4" stroke-linejoin="round"/>
<ellipse cx="206.30" cy="136.33" rx="0.70" ry="0.83" fill="#8a8a8a" opacity="0.28"/>
<ellipse cx="209.04" cy="130.70" rx="0.70" ry="0.83" fill="#8a8a8a" opacity="0.26"/>
<ellipse cx="208.28" cy="133.57" rx="1.09" ry="1.54" fill="#8a8a8a" opacity="0.27"/>
<ellipse cx="207.84" cy="136.02" rx="1.44" ry="1.12" fill="#6a70a4" opacity="0.7" filter="url(#soft2)"/>
<rect x="203.22" y="122" width="0.9" height="31.80000000000001" fill="#c4c4c4"/>
<rect x="215.16" y="138.54" width="0.9" height="13.99" fill="#666"/>
<rect x="213.01" y="138.54" width="0.9" height="9.54" fill="#484848"/>
<rect x="217.31" y="138.54" width="0.9" height="9.54" fill="#484848"/>
<path d="M215.61,123.30 L216.41,123.80 L217.01,125.78 L217.62,128.77 L217.82,131.75 L218.42,134.73 L218.77,137.21 L217.72,138.90 L215.61,138.50 L213.50,138.90 L212.44,137.21 L212.80,134.73 L213.40,131.75 L213.60,128.77 L214.20,125.78 L214.80,123.80 L215.61,123.30Z" fill="url(#body)" stroke="#bdbdbd" stroke-width="0.4" stroke-linejoin="round"/>
<ellipse cx="216.63" cy="136.13" rx="0.65" ry="1.67" fill="#8a8a8a" opacity="0.52"/>
<ellipse cx="217.04" cy="128.34" rx="0.74" ry="0.91" fill="#8a8a8a" opacity="0.26"/>
<ellipse cx="216.72" cy="135.34" rx="1.04" ry="1.63" fill="#8a8a8a" opacity="0.44"/>
<ellipse cx="215.18" cy="136.02" rx="1.57" ry="1.23" fill="#6a70a4" opacity="0.7" filter="url(#soft2)"/>
<rect x="211.05" y="122" width="0.9" height="31.80000000000001" fill="#c4c4c4"/>
<rect x="222.56" y="138.54" width="0.9" height="13.99" fill="#666"/>
<rect x="220.41" y="138.54" width="0.9" height="9.54" fill="#484848"/>
<rect x="224.71" y="138.54" width="0.9" height="9.54" fill="#484848"/>
<path d="M223.01,123.30 L223.81,123.80 L224.41,125.78 L225.02,128.77 L225.22,131.75 L225.82,134.73 L226.17,137.21 L225.12,138.90 L223.01,138.50 L220.90,138.90 L219.85,137.21 L220.20,134.73 L220.80,131.75 L221.00,128.77 L221.60,125.78 L222.21,123.80 L223.01,123.30Z" fill="url(#body)" stroke="#bdbdbd" stroke-width="0.4" stroke-linejoin="round"/>
<ellipse cx="223.84" cy="129.31" rx="0.82" ry="1.22" fill="#8a8a8a" opacity="0.26"/>
<ellipse cx="222.23" cy="130.08" rx="1.10" ry="1.17" fill="#8a8a8a" opacity="0.35"/>
<ellipse cx="224.50" cy="132.28" rx="1.20" ry="1.42" fill="#8a8a8a" opacity="0.26"/>
<ellipse cx="222.83" cy="136.02" rx="1.34" ry="1.04" fill="#6a70a4" opacity="0.7" filter="url(#soft2)"/>
<rect x="218.88" y="122" width="0.9" height="31.80000000000001" fill="#c4c4c4"/>
<rect x="230.80" y="138.54" width="0.9" height="13.99" fill="#666"/>
<rect x="228.65" y="138.54" width="0.9" height="9.54" fill="#484848"/>
<rect x="232.95" y="138.54" width="0.9" height="9.54" fill="#484848"/>
<path d="M231.25,123.30 L232.05,123.80 L232.65,125.78 L233.26,128.77 L233.46,131.75 L234.06,134.73 L234.41,137.21 L233.36,138.90 L231.25,138.50 L229.14,138.90 L228.08,137.21 L228.44,134.73 L229.04,131.75 L229.24,128.77 L229.84,125.78 L230.44,123.80 L231.25,123.30Z" fill="url(#body)" stroke="#bdbdbd" stroke-width="0.4" stroke-linejoin="round"/>
<ellipse cx="230.75" cy="134.28" rx="0.98" ry="1.02" fill="#8a8a8a" opacity="0.51"/>
<ellipse cx="229.93" cy="135.42" rx="0.72" ry="0.80" fill="#8a8a8a" opacity="0.31"/>
<ellipse cx="232.09" cy="136.99" rx="0.60" ry="1.29" fill="#8a8a8a" opacity="0.40"/>
<ellipse cx="231.84" cy="136.02" rx="1.64" ry="1.28" fill="#6a70a4" opacity="0.7" filter="url(#soft2)"/>
<rect x="226.72" y="122" width="0.9" height="31.80000000000001" fill="#c4c4c4"/>
<rect x="23" y="156" width="47" height="32" fill="#282828"/>
<rect x="26.46" y="172.64" width="0.9" height="14.08" fill="#666"/>
<rect x="24.31" y="172.64" width="0.9" height="9.60" fill="#484848"/>
<rect x="28.61" y="172.64" width="0.9" height="9.60" fill="#484848"/>
<path d="M26.91,157.30 L27.72,157.80 L28.32,159.80 L28.92,162.80 L29.12,165.80 L29.73,168.80 L30.08,171.30 L29.02,173.00 L26.91,172.60 L24.80,173.00 L23.75,171.30 L24.10,168.80 L24.70,165.80 L24.90,162.80 L25.51,159.80 L26.11,157.80 L26.91,157.30Z" fill="url(#body)" stroke="#bdbdbd" stroke-width="0.4" stroke-linejoin="round"/>
<ellipse cx="26.42" cy="169.62" rx="0.78" ry="1.74" fill="#8a8a8a" opacity="0.34"/>
<ellipse cx="26.00" cy="168.29" rx="0.95" ry="0.91" fill="#8a8a8a" opacity="0.44"/>
<ellipse cx="25.57" cy="169.18" rx="1.09" ry="1.59" fill="#8a8a8a" opacity="0.44"/>
<ellipse cx="26.62" cy="170.10" rx="1.68" ry="1.31" fill="#6a70a4" opacity="0.7" filter="url(#soft2)"/>
<rect x="34.24" y="172.64" width="0.9" height="14.08" fill="#666"/>
<rect x="32.09" y="172.64" width="0.9" height="9.60" fill="#484848"/>
<rect x="36.39" y="172.64" width="0.9" height="9.60" fill="#484848"/>
<path d="M34.69,157.30 L35.49,157.80 L36.09,159.80 L36.70,162.80 L36.90,165.80 L37.50,168.80 L37.85,171.30 L36.80,173.00 L34.69,172.60 L32.58,173.00 L31.52,171.30 L31.87,168.80 L32.48,165.80 L32.68,162.80 L33.28,159.80 L33.88,157.80 L34.69,157.30Z" fill="url(#body)" stroke="#bdbdbd" stroke-width="0.4" stroke-linejoin="round"/>
<ellipse cx="35.94" cy="162.16" rx="1.22" ry="0.83" fill="#8a8a8a" opacity="0.31"/>
<ellipse cx="33.93" cy="170.31" rx="0.95" ry="1.18" fill="#8a8a8a" opacity="0.52"/>
<ellipse cx="33.83" cy="165.91" rx="0.97" ry="1.55" fill="#8a8a8a" opacity="0.48"/>
<ellipse cx="34.98" cy="170.10" rx="1.95" ry="1.54" fill="#6a70a4" opacity="0.7" filter="url(#soft2)"/>
<rect x="30.38" y="156" width="0.9" height="32" fill="#c4c4c4"/>
<rect x="42.03" y="172.64" width="0.9" height="14.08" fill="#666"/>
<rect x="39.88" y="172.64" width="0.9" height="9.60" fill="#484848"/>
<rect x="44.18" y="172.64" width="0.9" height="9.60" fill="#484848"/>
<path d="M42.48,157.30 L43.28,157.80 L43.89,159.80 L44.49,162.80 L44.69,165.80 L45.29,168.80 L45.64,171.30 L44.59,173.00 L42.48,172.60 L40.37,173.00 L39.32,171.30 L39.67,168.80 L40.27,165.80 L40.47,162.80 L41.07,159.80 L41.68,157.80 L42.48,157.30Z" fill="url(#body)" stroke="#bdbdbd" stroke-width="0.4" stroke-linejoin="round"/>
<ellipse cx="41.37" cy="169.73" rx="1.06" ry="1.54" fill="#8a8a8a" opacity="0.30"/>
<ellipse cx="42.28" cy="169.03" rx="1.01" ry="0.93" fill="#8a8a8a" opacity="0.39"/>
<ellipse cx="43.72" cy="163.68" rx="0.73" ry="1.10" fill="#8a8a8a" opacity="0.46"/>
<ellipse cx="43.17" cy="170.10" rx="1.89" ry="1.48" fill="#6a70a4" opacity="0.7" filter="url(#soft2)"/>
<rect x="38.22" y="156" width="0.9" height="32" fill="#c4c4c4"/>
<rect x="49.76" y="172.64" width="0.9" height="14.08" fill="#666"/>
<rect x="47.61" y="172.64" width="0.9" height="9.60" fill="#484848"/>
<rect x="51.91" y="172.64" width="0.9" height="9.60" fill="#484848"/>
<path d="M50.21,157.30 L51.01,157.80 L51.62,159.80 L52.22,162.80 L52.42,165.80 L53.02,168.80 L53.37,171.30 L52.32,173.00 L50.21,172.60 L48.10,173.00 L47.05,171.30 L47.40,168.80 L48.00,165.80 L48.20,162.80 L48.80,159.80 L49.41,157.80 L50.21,157.30Z" fill="url(#body)" stroke="#bdbdbd" stroke-width="0.4" stroke-linejoin="round"/>
<ellipse cx="49.40" cy="164.57" rx="0.97" ry="0.96" fill="#8a8a8a" opacity="0.35"/>
<ellipse cx="49.21" cy="171.05" rx="1.11" ry="0.90" fill="#8a8a8a" opacity="0.54"/>
<ellipse cx="48.93" cy="165.14" rx="1.29" ry="1.59" fill="#8a8a8a" opacity="0.47"/>
<ellipse cx="50.08" cy="170.10" rx="1.64" ry="1.28" fill="#6a70a4" opacity="0.7" filter="url(#soft2)"/>
<rect x="46.05" y="156" width="0.9" height="32" fill="#c4c4c4"/>
<rect x="57.88" y="172.64" width="0.9" height="14.08" fill="#666"/>
<rect x="55.73" y="172.64" width="0.9" height="9.60" fill="#484848"/>
<rect x="60.03" y="172.64" width="0.9" height="9.60" fill="#484848"/>
<path d="M58.33,157.30 L59.14,157.80 L59.74,159.80 L60.34,162.80 L60.54,165.80 L61.14,168.80 L61.50,171.30 L60.44,173.00 L58.33,172.60 L56.22,173.00 L55.17,171.30 L55.52,168.80 L56.12,165.80 L56.32,162.80 L56.93,159.80 L57.53,157.80 L58.33,157.30Z" fill="url(#body)" stroke="#bdbdbd" stroke-width="0.4" stroke-linejoin="round"/>
<ellipse cx="57.07" cy="163.36" rx="0.87" ry="0.83" fill="#8a8a8a" opacity="0.37"/>
<ellipse cx="59.27" cy="168.23" rx="0.95" ry="1.43" fill="#8a8a8a" opacity="0.39"/>
<ellipse cx="57.18" cy="167.34" rx="0.88" ry="1.54" fill="#8a8a8a" opacity="0.52"/>
<ellipse cx="58.19" cy="170.10" rx="1.69" ry="1.32" fill="#6a70a4" opacity="0.7" filter="url(#soft2)"/>
<rect x="53.88" y="156" width="0.9" height="32" fill="#c4c4c4"/>
<rect x="65.78" y="172.64" width="0.9" height="14.08" fill="#666"/>
<rect x="63.63" y="172.64" width="0.9" height="9.60" fill="#484848"/>
<rect x="67.93" y="172.64" width="0.9" height="9.60" fill="#484848"/>
<path d="M66.23,157.30 L67.04,157.80 L67.64,159.80 L68.24,162.80 L68.44,165.80 L69.04,168.80 L69.40,171.30 L68.34,173.00 L66.23,172.60 L64.12,173.00 L63.07,171.30 L63.42,168.80 L64.02,165.80 L64.22,162.80 L64.83,159.80 L65.43,157.80 L66.23,157.30Z" fill="url(#body)" stroke="#bdbdbd" stroke-width="0.4" stroke-linejoin="round"/>
<ellipse cx="65.98" cy="163.59" rx="1.11" ry="1.68" fill="#8a8a8a" opacity="0.48"/>
<ellipse cx="66.88" cy="169.82" rx="1.08" ry="1.44" fill="#8a8a8a" opacity="0.39"/>
<ellipse cx="65.63" cy="167.58" rx="0.67" ry="1.22" fill="#8a8a8a" opacity="0.48"/>
<ellipse cx="66.66" cy="170.10" rx="2.17" ry="1.72" fill="#6a70a4" opacity="0.7" filter="url(#soft2)"/>
<rect x="61.72" y="156" width="0.9" height="32" fill="#c4c4c4"/>
<rect x="77" y="156" width="46" height="32" fill="#282828"/>
<rect x="80.23" y="172.64" width="0.9" height="14.08" fill="#666"/>
<rect x="78.08" y="172.64" width="0.9" height="9.60" fill="#484848"/>
<rect x="82.38" y="172.64" width="0.9" height="9.60" fill="#484848"/>
<path d="M80.68,157.30 L81.47,157.80 L82.06,159.80 L82.65,162.80 L82.85,165.80 L83.44,168.80 L83.78,171.30 L82.75,173.00 L80.68,172.60 L78.62,173.00 L77.59,171.30 L77.93,168.80 L78.52,165.80 L78.72,162.80 L79.31,159.80 L79.90,157.80 L80.68,157.30Z" fill="url(#body)" stroke="#bdbdbd" stroke-width="0.4" stroke-linejoin="round"/>
<ellipse cx="80.44" cy="165.85" rx="1.04" ry="1.21" fill="#8a8a8a" opacity="0.45"/>
<ellipse cx="82.04" cy="163.13" rx="1.06" ry="1.58" fill="#8a8a8a" opacity="0.37"/>
<ellipse cx="80.65" cy="171.05" rx="0.63" ry="1.34" fill="#8a8a8a" opacity="0.30"/>
<ellipse cx="81.25" cy="170.10" rx="1.52" ry="1.19" fill="#6a70a4" opacity="0.7" filter="url(#soft2)"/>
<rect x="88.06" y="172.64" width="0.9" height="14.08" fill="#666"/>
<rect x="85.91" y="172.64" width="0.9" height="9.60" fill="#484848"/>
<rect x="90.21" y="172.64" width="0.9" height="9.60" fill="#484848"/>
<path d="M88.51,157.30 L89.30,157.80 L89.89,159.80 L90.48,162.80 L90.67,165.80 L91.26,168.80 L91.61,171.30 L90.58,173.00 L88.51,172.60 L86.45,173.00 L85.42,171.30 L85.76,168.80 L86.35,165.80 L86.55,162.80 L87.14,159.80 L87.73,157.80 L88.51,157.30Z" fill="url(#body)" stroke="#bdbdbd" stroke-width="0.4" stroke-linejoin="round"/>
<ellipse cx="87.26" cy="167.05" rx="0.98" ry="1.52" fill="#8a8a8a" opacity="0.40"/>
<ellipse cx="88.95" cy="169.59" rx="0.97" ry="1.21" fill="#8a8a8a" opacity="0.53"/>
<ellipse cx="87.60" cy="168.14" rx="0.87" ry="1.56" fill="#8a8a8a" opacity="0.29"/>
<ellipse cx="89.48" cy="170.10" rx="1.72" ry="1.35" fill="#6a70a4" opacity="0.7" filter="url(#soft2)"/>
<rect x="84.22" y="156" width="0.9" height="32" fill="#c4c4c4"/>
<rect x="95.45" y="172.64" width="0.9" height="14.08" fill="#666"/>
<rect x="93.30" y="172.64" width="0.9" height="9.60" fill="#484848"/>
<rect x="97.60" y="172.64" width="0.9" height="9.60" fill="#484848"/>
<path d="M95.90,157.30 L96.69,157.80 L97.28,159.80 L97.87,162.80 L98.06,165.80 L98.65,168.80 L99.00,171.30 L97.96,173.00 L95.90,172.60 L93.84,173.00 L92.80,171.30 L93.15,168.80 L93.74,165.80 L93.93,162.80 L94.52,159.80 L95.11,157.80 L95.90,157.30Z" fill="url(#body)" stroke="#bdbdbd" stroke-width="0.4" stroke-linejoin="round"/>
<ellipse cx="95.19" cy="165.30" rx="0.61" ry="1.22" fill="#8a8a8a" opacity="0.38"/>
<ellipse cx="96.52" cy="164.82" rx="0.79" ry="1.02" fill="#8a8a8a" opacity="0.47"/>
<ellipse cx="97.28" cy="166.57" rx="0.75" ry="1.60" fill="#8a8a8a" opacity="0.37"/>
<ellipse cx="95.32" cy="170.10" rx="1.35" ry="1.04" fill="#6a70a4" opacity="0.7" filter="url(#soft2)"/>
<rect x="91.88" y="156" width="0.9" height="32" fill="#c4c4c4"/>
<rect x="103.55" y="172.64" width="0.9" height="14.08" fill="#666"/>
<rect x="101.40" y="172.64" width="0.9" height="9.60" fill="#484848"/>
<rect x="105.70" y="172.64" width="0.9" height="9.60" fill="#484848"/>
<path d="M104.00,157.30 L104.79,157.80 L105.38,159.80 L105.97,162.80 L106.16,165.80 L106.75,168.80 L107.10,171.30 L106.06,173.00 L104.00,172.60 L101.94,173.00 L100.90,171.30 L101.25,168.80 L101.84,165.80 L102.03,162.80 L102.62,159.80 L103.21,157.80 L104.00,157.30Z" fill="url(#body)" stroke="#bdbdbd" stroke-width="0.4" stroke-linejoin="round"/>
<ellipse cx="104.97" cy="167.64" rx="0.93" ry="1.36" fill="#8a8a8a" opacity="0.32"/>
<ellipse cx="105.46" cy="164.83" rx="1.05" ry="1.62" fill="#8a8a8a" opacity="0.49"/>
<ellipse cx="103.90" cy="164.24" rx="0.98" ry="0.93" fill="#8a8a8a" opacity="0.50"/>
<ellipse cx="103.71" cy="170.10" rx="1.20" ry="0.93" fill="#6a70a4" opacity="0.7" filter="url(#soft2)"/>
<rect x="99.55" y="156" width="0.9" height="32" fill="#c4c4c4"/>
<rect x="110.91" y="172.64" width="0.9" height="14.08" fill="#666"/>
<rect x="108.76" y="172.64" width="0.9" height="9.60" fill="#484848"/>
<rect x="113.06" y="172.64" width="0.9" height="9.60" fill="#484848"/>
<path d="M111.36,157.30 L112.15,157.80 L112.74,159.80 L113.33,162.80 L113.52,165.80 L114.11,168.80 L114.46,171.30 L113.42,173.00 L111.36,172.60 L109.30,173.00 L108.26,171.30 L108.61,168.80 L109.20,165.80 L109.39,162.80 L109.98,159.80 L110.57,157.80 L111.36,157.30Z" fill="url(#body)" stroke="#bdbdbd" stroke-width="0.4" stroke-linejoin="round"/>
<ellipse cx="110.97" cy="163.84" rx="0.90" ry="0.99" fill="#8a8a8a" opacity="0.25"/>
<ellipse cx="112.06" cy="164.11" rx="0.77" ry="1.10" fill="#8a8a8a" opacity="0.39"/>
<ellipse cx="111.14" cy="167.67" rx="1.06" ry="1.16" fill="#8a8a8a" opacity="0.53"/>
<ellipse cx="112.07" cy="170.10" rx="1.66" ry="1.30" fill="#6a70a4" opacity="0.7" filter="url(#soft2)"/>
<rect x="107.22" y="156" width="0.9" height="32" fill="#c4c4c4"/>
<rect x="118.91" y="172.64" width="0.9" height="14.08" fill="#666"/>
<rect x="116.76" y="172.64" width="0.9" height="9.60" fill="#484848"/>
<rect x="121.06" y="172.64" width="0.9" height="9.60" fill="#484848"/>
<path d="M119.36,157.30 L120.15,157.80 L120.74,159.80 L121.33,162.80 L121.53,165.80 L122.12,168.80 L122.46,171.30 L121.43,173.00 L119.36,172.60 L117.30,173.00 L116.27,171.30 L116.61,168.80 L117.20,165.80 L117.40,162.80 L117.99,159.80 L118.58,157.80 L119.36,157.30Z" fill="url(#body)" stroke="#bdbdbd" stroke-width="0.4" stroke-linejoin="round"/>
<ellipse cx="120.64" cy="169.14" rx="0.70" ry="1.63" fill="#8a8a8a" opacity="0.44"/>
<ellipse cx="117.84" cy="161.41" rx="1.27" ry="1.46" fill="#8a8a8a" opacity="0.33"/>
<ellipse cx="118.11" cy="162.73" rx="0.76" ry="1.58" fill="#8a8a8a" opacity="0.35"/>
<ellipse cx="118.67" cy="170.10" rx="1.16" ry="0.89" fill="#6a70a4" opacity="0.7" filter="url(#soft2)"/>
<rect x="114.88" y="156" width="0.9" height="32" fill="#c4c4c4"/>
<rect x="131" y="156" width="48" height="32" fill="#282828"/>
<rect x="134.73" y="172.64" width="0.9" height="14.08" fill="#666"/>
<rect x="132.58" y="172.64" width="0.9" height="9.60" fill="#484848"/>
<rect x="136.88" y="172.64" width="0.9" height="9.60" fill="#484848"/>
<path d="M135.18,157.30 L136.00,157.80 L136.61,159.80 L137.23,162.80 L137.43,165.80 L138.05,168.80 L138.41,171.30 L137.33,173.00 L135.18,172.60 L133.02,173.00 L131.94,171.30 L132.30,168.80 L132.92,165.80 L133.12,162.80 L133.74,159.80 L134.35,157.80 L135.18,157.30Z" fill="url(#body)" stroke="#bdbdbd" stroke-width="0.4" stroke-linejoin="round"/>
<ellipse cx="134.09" cy="170.21" rx="1.03" ry="1.58" fill="#8a8a8a" opacity="0.45"/>
<ellipse cx="136.47" cy="169.18" rx="1.19" ry="1.00" fill="#8a8a8a" opacity="0.46"/>
<ellipse cx="135.28" cy="168.72" rx="0.91" ry="1.68" fill="#8a8a8a" opacity="0.42"/>
<ellipse cx="134.70" cy="170.10" rx="1.88" ry="1.48" fill="#6a70a4" opacity="0.7" filter="url(#soft2)"/>
<rect x="142.33" y="172.64" width="0.9" height="14.08" fill="#666"/>
<rect x="140.18" y="172.64" width="0.9" height="9.60" fill="#484848"/>
<rect x="144.48" y="172.64" width="0.9" height="9.60" fill="#484848"/>
<path d="M142.78,157.30 L143.60,157.80 L144.22,159.80 L144.83,162.80 L145.04,165.80 L145.66,168.80 L146.01,171.30 L144.94,173.00 L142.78,172.60 L140.63,173.00 L139.55,171.30 L139.91,168.80 L140.53,165.80 L140.73,162.80 L141.35,159.80 L141.96,157.80 L142.78,157.30Z" fill="url(#body)" stroke="#bdbdbd" stroke-width="0.4" stroke-linejoin="round"/>
<ellipse cx="142.76" cy="161.88" rx="0.93" ry="0.94" fill="#8a8a8a" opacity="0.40"/>
<ellipse cx="142.78" cy="166.70" rx="1.20" ry="0.81" fill="#8a8a8a" opacity="0.50"/>
<ellipse cx="142.68" cy="166.93" rx="1.07" ry="1.64" fill="#8a8a8a" opacity="0.36"/>
<ellipse cx="142.62" cy="170.10" rx="1.36" ry="1.06" fill="#6a70a4" opacity="0.7" filter="url(#soft2)"/>
<rect x="138.55" y="156" width="0.9" height="32" fill="#c4c4c4"/>
<rect x="150.30" y="172.64" width="0.9" height="14.08" fill="#666"/>
<rect x="148.15" y="172.64" width="0.9" height="9.60" fill="#484848"/>
<rect x="152.45" y="172.64" width="0.9" height="9.60" fill="#484848"/>
<path d="M150.75,157.30 L151.57,157.80 L152.18,159.80 L152.80,162.80 L153.00,165.80 L153.62,168.80 L153.98,171.30 L152.90,173.00 L150.75,172.60 L148.59,173.00 L147.51,171.30 L147.87,168.80 L148.49,165.80 L148.69,162.80 L149.31,159.80 L149.92,157.80 L150.75,157.30Z" fill="url(#body)" stroke="#bdbdbd" stroke-width="0.4" stroke-linejoin="round"/>
<ellipse cx="151.20" cy="167.66" rx="0.62" ry="1.41" fill="#8a8a8a" opacity="0.45"/>
<ellipse cx="152.16" cy="164.60" rx="1.29" ry="1.31" fill="#8a8a8a" opacity="0.40"/>
<ellipse cx="152.05" cy="161.64" rx="1.10" ry="1.43" fill="#8a8a8a" opacity="0.35"/>
<ellipse cx="151.47" cy="170.10" rx="1.92" ry="1.51" fill="#6a70a4" opacity="0.7" filter="url(#soft2)"/>
<rect x="146.55" y="156" width="0.9" height="32" fill="#c4c4c4"/>
<rect x="158.53" y="172.64" width="0.9" height="14.08" fill="#666"/>
<rect x="156.38" y="172.64" width="0.9" height="9.60" fill="#484848"/>
<rect x="160.68" y="172.64" width="0.9" height="9.60" fill="#484848"/>
<path d="M158.98,157.30 L159.81,157.80 L160.42,159.80 L161.04,162.80 L161.24,165.80 L161.86,168.80 L162.22,171.30 L161.14,173.00 L158.98,172.60 L156.83,173.00 L155.75,171.30 L156.11,168.80 L156.73,165.80 L156.93,162.80 L157.55,159.80 L158.16,157.80 L158.98,157.30Z" fill="url(#body)" stroke="#bdbdbd" stroke-width="0.4" stroke-linejoin="round"/>
<ellipse cx="159.07" cy="169.01" rx="0.75" ry="1.24" fill="#8a8a8a" opacity="0.38"/>
<ellipse cx="159.16" cy="169.57" rx="0.81" ry="1.63" fill="#8a8a8a" opacity="0.37"/>
<ellipse cx="159.00" cy="164.02" rx="0.95" ry="1.77" fill="#8a8a8a" opacity="0.45"/>
<ellipse cx="159.57" cy="170.10" rx="1.47" ry="1.14" fill="#6a70a4" opacity="0.7" filter="url(#soft2)"/>
<rect x="154.55" y="156" width="0.9" height="32" fill="#c4c4c4"/>
<rect x="166.44" y="172.64" width="0.9" height="14.08" fill="#666"/>
<rect x="164.29" y="172.64" width="0.9" height="9.60" fill="#484848"/>
<rect x="168.59" y="172.64" width="0.9" height="9.60" fill="#484848"/>
<path d="M166.89,157.30 L167.71,157.80 L168.33,159.80 L168.94,162.80 L169.15,165.80 L169.76,168.80 L170.12,171.30 L169.04,173.00 L166.89,172.60 L164.74,173.00 L163.66,171.30 L164.02,168.80 L164.63,165.80 L164.84,162.80 L165.45,159.80 L166.07,157.80 L166.89,157.30Z" fill="url(#body)" stroke="#bdbdbd" stroke-width="0.4" stroke-linejoin="round"/>
<ellipse cx="166.23" cy="167.16" rx="1.04" ry="1.58" fill="#8a8a8a" opacity="0.26"/>
<ellipse cx="167.62" cy="170.16" rx="0.98" ry="0.85" fill="#8a8a8a" opacity="0.34"/>
<ellipse cx="165.27" cy="163.20" rx="1.25" ry="1.41" fill="#8a8a8a" opacity="0.45"/>
<ellipse cx="167.47" cy="170.10" rx="1.44" ry="1.12" fill="#6a70a4" opacity="0.7" filter="url(#soft2)"/>
<rect x="162.55" y="156" width="0.9" height="32" fill="#c4c4c4"/>
<rect x="174.62" y="172.64" width="0.9" height="14.08" fill="#666"/>
<rect x="172.47" y="172.64" width="0.9" height="9.60" fill="#484848"/>
<rect x="176.77" y="172.64" width="0.9" height="9.60" fill="#484848"/>
<path d="M175.07,157.30 L175.89,157.80 L176.50,159.80 L177.12,162.80 L177.32,165.80 L177.94,168.80 L178.30,171.30 L177.22,173.00 L175.07,172.60 L172.91,173.00 L171.84,171.30 L172.20,168.80 L172.81,165.80 L173.02,162.80 L173.63,159.80 L174.25,157.80 L175.07,157.30Z" fill="url(#body)" stroke="#bdbdbd" stroke-width="0.4" stroke-linejoin="round"/>
<ellipse cx="175.45" cy="167.57" rx="1.09" ry="1.40" fill="#8a8a8a" opacity="0.45"/>
<ellipse cx="174.12" cy="167.97" rx="0.92" ry="1.56" fill="#8a8a8a" opacity="0.28"/>
<ellipse cx="174.02" cy="161.67" rx="1.14" ry="1.71" fill="#8a8a8a" opacity="0.45"/>
<ellipse cx="174.80" cy="170.10" rx="1.88" ry="1.48" fill="#6a70a4" opacity="0.7" filter="url(#soft2)"/>
<rect x="170.55" y="156" width="0.9" height="32" fill="#c4c4c4"/>
<rect x="188" y="156" width="47" height="32" fill="#282828"/>
<rect x="191.64" y="172.64" width="0.9" height="14.08" fill="#666"/>
<rect x="189.49" y="172.64" width="0.9" height="9.60" fill="#484848"/>
<rect x="193.79" y="172.64" width="0.9" height="9.60" fill="#484848"/>
<path d="M192.09,157.30 L192.89,157.80 L193.49,159.80 L194.10,162.80 L194.30,165.80 L194.90,168.80 L195.25,171.30 L194.20,173.00 L192.09,172.60 L189.98,173.00 L188.93,171.30 L189.28,168.80 L189.88,165.80 L190.08,162.80 L190.68,159.80 L191.29,157.80 L192.09,157.30Z" fill="url(#body)" stroke="#bdbdbd" stroke-width="0.4" stroke-linejoin="round"/>
<ellipse cx="192.29" cy="163.88" rx="0.81" ry="1.22" fill="#8a8a8a" opacity="0.35"/>
<ellipse cx="191.87" cy="167.72" rx="1.25" ry="0.85" fill="#8a8a8a" opacity="0.42"/>
<ellipse cx="190.61" cy="162.49" rx="1.17" ry="1.38" fill="#8a8a8a" opacity="0.53"/>
<ellipse cx="191.98" cy="170.10" rx="1.99" ry="1.56" fill="#6a70a4" opacity="0.7" filter="url(#soft2)"/>
<rect x="199.23" y="172.64" width="0.9" height="14.08" fill="#666"/>
<rect x="197.08" y="172.64" width="0.9" height="9.60" fill="#484848"/>
<rect x="201.38" y="172.64" width="0.9" height="9.60" fill="#484848"/>
<path d="M199.68,157.30 L200.49,157.80 L201.09,159.80 L201.69,162.80 L201.89,165.80 L202.49,168.80 L202.85,171.30 L201.79,173.00 L199.68,172.60 L197.57,173.00 L196.52,171.30 L196.87,168.80 L197.47,165.80 L197.67,162.80 L198.28,159.80 L198.88,157.80 L199.68,157.30Z" fill="url(#body)" stroke="#bdbdbd" stroke-width="0.4" stroke-linejoin="round"/>
<ellipse cx="199.98" cy="170.68" rx="1.29" ry="1.28" fill="#8a8a8a" opacity="0.37"/>
<ellipse cx="198.40" cy="167.75" rx="0.75" ry="0.95" fill="#8a8a8a" opacity="0.25"/>
<ellipse cx="198.09" cy="168.14" rx="0.69" ry="1.77" fill="#8a8a8a" opacity="0.28"/>
<ellipse cx="200.42" cy="170.10" rx="1.26" ry="0.97" fill="#6a70a4" opacity="0.7" filter="url(#soft2)"/>
<rect x="195.38" y="156" width="0.9" height="32" fill="#c4c4c4"/>
<rect x="206.84" y="172.64" width="0.9" height="14.08" fill="#666"/>
<rect x="204.69" y="172.64" width="0.9" height="9.60" fill="#484848"/>
<rect x="208.99" y="172.64" width="0.9" height="9.60" fill="#484848"/>
<path d="M207.29,157.30 L208.10,157.80 L208.70,159.80 L209.30,162.80 L209.50,165.80 L210.11,168.80 L210.46,171.30 L209.40,173.00 L207.29,172.60 L205.19,173.00 L204.13,171.30 L204.48,168.80 L205.08,165.80 L205.29,162.80 L205.89,159.80 L206.49,157.80 L207.29,157.30Z" fill="url(#body)" stroke="#bdbdbd" stroke-width="0.4" stroke-linejoin="round"/>
<ellipse cx="208.00" cy="163.72" rx="1.11" ry="0.99" fill="#8a8a8a" opacity="0.27"/>
<ellipse cx="208.17" cy="168.44" rx="1.20" ry="1.53" fill="#8a8a8a" opacity="0.28"/>
<ellipse cx="207.71" cy="168.39" rx="0.92" ry="1.73" fill="#8a8a8a" opacity="0.33"/>
<ellipse cx="208.22" cy="170.10" rx="1.36" ry="1.06" fill="#6a70a4" opacity="0.7" filter="url(#soft2)"/>
<rect x="203.22" y="156" width="0.9" height="32" fill="#c4c4c4"/>
<rect x="214.67" y="172.64" width="0.9" height="14.08" fill="#666"/>
<rect x="212.52" y="172.64" width="0.9" height="9.60" fill="#484848"/>
<rect x="216.82" y="172.64" width="0.9" height="9.60" fill="#484848"/>
<path d="M215.12,157.30 L215.93,157.80 L216.53,159.80 L217.13,162.80 L217.33,165.80 L217.94,168.80 L218.29,171.30 L217.23,173.00 L215.12,172.60 L213.01,173.00 L211.96,171.30 L212.31,168.80 L212.91,165.80 L213.11,162.80 L213.72,159.80 L214.32,157.80 L215.12,157.30Z" fill="url(#body)" stroke="#bdbdbd" stroke-width="0.4" stroke-linejoin="round"/>
<ellipse cx="213.56" cy="167.81" rx="1.17" ry="0.88" fill="#8a8a8a" opacity="0.34"/>
<ellipse cx="215.86" cy="162.96" rx="1.20" ry="1.29" fill="#8a8a8a" opacity="0.27"/>
<ellipse cx="214.70" cy="167.05" rx="0.91" ry="1.48" fill="#8a8a8a" opacity="0.29"/>
<ellipse cx="215.72" cy="170.10" rx="1.89" ry="1.49" fill="#6a70a4" opacity="0.7" filter="url(#soft2)"/>
<rect x="211.05" y="156" width="0.9" height="32" fill="#c4c4c4"/>
<rect x="222.89" y="172.64" width="0.9" height="14.08" fill="#666"/>
<rect x="220.74" y="172.64" width="0.9" height="9.60" fill="#484848"/>
<rect x="225.04" y="172.64" width="0.9" height="9.60" fill="#484848"/>
<path d="M223.34,157.30 L224.14,157.80 L224.74,159.80 L225.35,162.80 L225.55,165.80 L226.15,168.80 L226.50,171.30 L225.45,173.00 L223.34,172.60 L221.23,173.00 L220.17,171.30 L220.52,168.80 L221.13,165.80 L221.33,162.80 L221.93,159.80 L222.53,157.80 L223.34,157.30Z" fill="url(#body)" stroke="#bdbdbd" stroke-width="0.4" stroke-linejoin="round"/>
<ellipse cx="223.75" cy="165.48" rx="0.87" ry="1.59" fill="#8a8a8a" opacity="0.53"/>
<ellipse cx="224.25" cy="166.97" rx="0.80" ry="0.86" fill="#8a8a8a" opacity="0.54"/>
<ellipse cx="223.99" cy="169.57" rx="0.83" ry="1.41" fill="#8a8a8a" opacity="0.54"/>
<ellipse cx="224.00" cy="170.10" rx="1.57" ry="1.23" fill="#6a70a4" opacity="0.7" filter="url(#soft2)"/>
<rect x="218.88" y="156" width="0.9" height="32" fill="#c4c4c4"/>
<rect x="230.52" y="172.64" width="0.9" height="14.08" fill="#666"/>
<rect x="228.37" y="172.64" width="0.9" height="9.60" fill="#484848"/>
<rect x="232.67" y="172.64" width="0.9" height="9.60" fill="#484848"/>
<path d="M230.97,157.30 L231.77,157.80 L232.37,159.80 L232.98,162.80 L233.18,165.80 L233.78,168.80 L234.13,171.30 L233.08,173.00 L230.97,172.60 L228.86,173.00 L227.81,171.30 L228.16,168.80 L228.76,165.80 L228.96,162.80 L229.56,159.80 L230.17,157.80 L230.97,157.30Z" fill="url(#body)" stroke="#bdbdbd" stroke-width="0.4" stroke-linejoin="round"/>
<ellipse cx="230.74" cy="170.18" rx="0.86" ry="1.48" fill="#8a8a8a" opacity="0.43"/>
<ellipse cx="232.24" cy="169.37" rx="0.80" ry="0.80" fill="#8a8a8a" opacity="0.33"/>
<ellipse cx="230.72" cy="167.17" rx="1.17" ry="1.69" fill="#8a8a8a" opacity="0.26"/>
<ellipse cx="231.63" cy="170.10" rx="1.79" ry="1.40" fill="#6a70a4" opacity="0.7" filter="url(#soft2)"/>
<rect x="226.72" y="156" width="0.9" height="32" fill="#c4c4c4"/>
</g>
<rect x="243.8" y="43" width="4.5" height="126" fill="url(#cbar)"/>
<line x1="247.6" y1="44.10" x2="249.80" y2="44.10" stroke="#555" stroke-width="0.6"/>
<line x1="247.6" y1="49.34" x2="248.80" y2="49.34" stroke="#555" stroke-width="0.6"/>
<line x1="247.6" y1="54.58" x2="248.80" y2="54.58" stroke="#555" stroke-width="0.6"/>
<line x1="247.6" y1="59.82" x2="248.80" y2="59.82" stroke="#555" stroke-width="0.6"/>
<line x1="247.6" y1="65.06" x2="248.80" y2="65.06" stroke="#555" stroke-width="0.6"/>
<line x1="247.6" y1="70.30" x2="249.80" y2="70.30" stroke="#555" stroke-width="0.6"/>
<line x1="247.6" y1="75.54" x2="248.80" y2="75.54" stroke="#555" stroke-width="0.6"/>
<line x1="247.6" y1="80.78" x2="248.80" y2="80.78" stroke="#555" stroke-width="0.6"/>
<line x1="247.6" y1="86.02" x2="248.80" y2="86.02" stroke="#555" stroke-width="0.6"/>
<line x1="247.6" y1="91.26" x2="248.80" y2="91.26" stroke="#555" stroke-width="0.6"/>
<line x1="247.6" y1="96.50" x2="249.80" y2="96.50" stroke="#555" stroke-width="0.6"/>
<line x1="247.6" y1="101.74" x2="248.80" y2="101.74" stroke="#555" stroke-width="0.6"/>
<line x1="247.6" y1="106.98" x2="248.80" y2="106.98" stroke="#555" stroke-width="0.6"/>
<line x1="247.6" y1="112.22" x2="248.80" y2="112.22" stroke="#555" stroke-width="0.6"/>
<line x1="247.6" y1="117.46" x2="248.80" y2="117.46" stroke="#555" stroke-width="0.6"/>
<line x1="247.6" y1="122.70" x2="249.80" y2="122.70" stroke="#555" stroke-width="0.6"/>
<line x1="247.6" y1="127.94" x2="248.80" y2="127.94" stroke="#555" stroke-width="0.6"/>
<line x1="247.6" y1="133.18" x2="248.80" y2="133.18" stroke="#555" stroke-width="0.6"/>
<line x1="247.6" y1="138.42" x2="248.80" y2="138.42" stroke="#555" stroke-width="0.6"/>
<line x1="247.6" y1="143.66" x2="248.80" y2="143.66" stroke="#555" stroke-width="0.6"/>
<line x1="247.6" y1="148.90" x2="249.80" y2="148.90" stroke="#555" stroke-width="0.6"/>
<line x1="247.6" y1="154.14" x2="248.80" y2="154.14" stroke="#555" stroke-width="0.6"/>
<line x1="247.6" y1="159.38" x2="248.80" y2="159.38" stroke="#555" stroke-width="0.6"/>
<line x1="247.6" y1="164.62" x2="248.80" y2="164.62" stroke="#555" stroke-width="0.6"/>
<text x="253.50" y="72.50" font-size="6.2" text-anchor="start" fill="#444" font-weight="normal" stroke="#444" stroke-width="0.18" >0.8</text>
<text x="253.50" y="98.20" font-size="6.2" text-anchor="start" fill="#444" font-weight="normal" stroke="#444" stroke-width="0.18" >0.6</text>
<text x="253.50" y="124.50" font-size="6.2" text-anchor="start" fill="#444" font-weight="normal" stroke="#444" stroke-width="0.18" >0.4</text>
<text x="253.50" y="151.00" font-size="6.2" text-anchor="start" fill="#444" font-weight="normal" stroke="#444" stroke-width="0.18" >0.2</text>
<text x="243.00" y="179.60" font-size="6" text-anchor="start" fill="#333" font-weight="normal" stroke="#333" stroke-width="0.18" >Radiance (×10<tspan font-size="4" dy="-2.5">6</tspan><tspan dy="2.5">)</tspan></text>
<text x="243.00" y="187.20" font-size="6" text-anchor="start" fill="#333" font-weight="normal" stroke="#333" stroke-width="0.18" textLength="40" lengthAdjust="spacingAndGlyphs">(p/sec/cm<tspan font-size="4" dy="-2.5">2</tspan><tspan dy="2.5">/sr)</tspan></text>
<line x1="325.5" y1="36.6" x2="325.5" y2="163" stroke="#1c1c1c" stroke-width="1"/>
<line x1="325" y1="162.5" x2="506" y2="162.5" stroke="#1c1c1c" stroke-width="1"/>
<line x1="322.3" y1="162.50" x2="325.5" y2="162.50" stroke="#1c1c1c" stroke-width="0.9"/>
<text x="319.40" y="164.20" font-size="6.2" text-anchor="end" fill="#333" font-weight="normal" stroke="#333" stroke-width="0.18" textLength="3.5" lengthAdjust="spacingAndGlyphs">0</text>
<line x1="322.3" y1="141.67" x2="325.5" y2="141.67" stroke="#1c1c1c" stroke-width="0.9"/>
<text x="319.40" y="143.37" font-size="6.2" text-anchor="end" fill="#333" font-weight="normal" stroke="#333" stroke-width="0.18" textLength="7.0" lengthAdjust="spacingAndGlyphs">30</text>
<line x1="322.3" y1="120.84" x2="325.5" y2="120.84" stroke="#1c1c1c" stroke-width="0.9"/>
<text x="319.40" y="122.54" font-size="6.2" text-anchor="end" fill="#333" font-weight="normal" stroke="#333" stroke-width="0.18" textLength="7.0" lengthAdjust="spacingAndGlyphs">60</text>
<line x1="322.3" y1="100.00" x2="325.5" y2="100.00" stroke="#1c1c1c" stroke-width="0.9"/>
<text x="319.40" y="101.70" font-size="6.2" text-anchor="end" fill="#333" font-weight="normal" stroke="#333" stroke-width="0.18" textLength="7.0" lengthAdjust="spacingAndGlyphs">90</text>
<line x1="322.3" y1="79.17" x2="325.5" y2="79.17" stroke="#1c1c1c" stroke-width="0.9"/>
<text x="319.40" y="80.87" font-size="6.2" text-anchor="end" fill="#333" font-weight="normal" stroke="#333" stroke-width="0.18" textLength="10.6" lengthAdjust="spacingAndGlyphs">120</text>
<line x1="322.3" y1="58.34" x2="325.5" y2="58.34" stroke="#1c1c1c" stroke-width="0.9"/>
<text x="319.40" y="60.04" font-size="6.2" text-anchor="end" fill="#333" font-weight="normal" stroke="#333" stroke-width="0.18" textLength="10.6" lengthAdjust="spacingAndGlyphs">150</text>
<line x1="322.3" y1="37.51" x2="325.5" y2="37.51" stroke="#1c1c1c" stroke-width="0.9"/>
<text x="319.40" y="39.21" font-size="6.2" text-anchor="end" fill="#333" font-weight="normal" stroke="#333" stroke-width="0.18" textLength="10.6" lengthAdjust="spacingAndGlyphs">180</text>
<line x1="325.50" y1="162.5" x2="325.50" y2="165" stroke="#1c1c1c" stroke-width="0.9"/>
<text x="325.50" y="173.70" font-size="6.3" text-anchor="middle" fill="#333" font-weight="normal" stroke="#333" stroke-width="0.18" >0</text>
<line x1="347.88" y1="162.5" x2="347.88" y2="165" stroke="#1c1c1c" stroke-width="0.9"/>
<text x="347.88" y="173.70" font-size="6.3" text-anchor="middle" fill="#333" font-weight="normal" stroke="#333" stroke-width="0.18" >3</text>
<line x1="370.26" y1="162.5" x2="370.26" y2="165" stroke="#1c1c1c" stroke-width="0.9"/>
<text x="370.26" y="173.70" font-size="6.3" text-anchor="middle" fill="#333" font-weight="normal" stroke="#333" stroke-width="0.18" >6</text>
<line x1="392.64" y1="162.5" x2="392.64" y2="165" stroke="#1c1c1c" stroke-width="0.9"/>
<text x="392.64" y="173.70" font-size="6.3" text-anchor="middle" fill="#333" font-weight="normal" stroke="#333" stroke-width="0.18" >9</text>
<line x1="415.02" y1="162.5" x2="415.02" y2="165" stroke="#1c1c1c" stroke-width="0.9"/>
<text x="415.02" y="173.70" font-size="6.3" text-anchor="middle" fill="#333" font-weight="normal" stroke="#333" stroke-width="0.18" >12</text>
<line x1="437.40" y1="162.5" x2="437.40" y2="165" stroke="#1c1c1c" stroke-width="0.9"/>
<text x="437.40" y="173.70" font-size="6.3" text-anchor="middle" fill="#333" font-weight="normal" stroke="#333" stroke-width="0.18" >15</text>
<line x1="459.78" y1="162.5" x2="459.78" y2="165" stroke="#1c1c1c" stroke-width="0.9"/>
<text x="459.78" y="173.70" font-size="6.3" text-anchor="middle" fill="#333" font-weight="normal" stroke="#333" stroke-width="0.18" >18</text>
<line x1="482.16" y1="162.5" x2="482.16" y2="165" stroke="#1c1c1c" stroke-width="0.9"/>
<text x="482.16" y="173.70" font-size="6.3" text-anchor="middle" fill="#333" font-weight="normal" stroke="#333" stroke-width="0.18" >21</text>
<line x1="504.54" y1="162.5" x2="504.54" y2="165" stroke="#1c1c1c" stroke-width="0.9"/>
<text x="504.54" y="173.70" font-size="6.3" text-anchor="middle" fill="#333" font-weight="normal" stroke="#333" stroke-width="0.18" >24</text>
<text x="419.20" y="185.30" font-size="7.9" text-anchor="middle" fill="#2a2a2a" font-weight="normal" stroke="#2a2a2a" stroke-width="0.18" textLength="58.5" lengthAdjust="spacingAndGlyphs">Days after treatment</text>
<text transform="translate(293.6,98.5) rotate(-90)" font-size="7" text-anchor="middle" fill="#333" stroke="#333" stroke-width="0.18" textLength="65" lengthAdjust="spacingAndGlyphs">Luminescence density</text>
<text transform="translate(303.8,98.7) rotate(-90)" font-size="7" text-anchor="middle" fill="#333" stroke="#333" stroke-width="0.18">10<tspan font-size="5" dy="-2.6" dx="0.3">−8</tspan><tspan dy="2.6" dx="0.4"> photons/seconds</tspan></text>
<line x1="377.72" y1="134.72" x2="377.72" y2="128.82" stroke="#f0a22e" stroke-width="0.9"/>
<line x1="375.52" y1="128.82" x2="379.92" y2="128.82" stroke="#f0a22e" stroke-width="0.9"/>
<line x1="429.94" y1="121.18" x2="429.94" y2="115.28" stroke="#f0a22e" stroke-width="0.9"/>
<line x1="427.74" y1="115.28" x2="432.14" y2="115.28" stroke="#f0a22e" stroke-width="0.9"/>
<line x1="482.16" y1="102.43" x2="482.16" y2="87.50" stroke="#f0a22e" stroke-width="0.9"/>
<line x1="479.96" y1="87.50" x2="484.36" y2="87.50" stroke="#f0a22e" stroke-width="0.9"/>
<path d="M325.50,153.13 L377.72,134.72 L429.94,121.18 L482.16,102.43" fill="none" stroke="#f0a22e" stroke-width="1.1"/>
<line x1="377.72" y1="133.68" x2="377.72" y2="131.25" stroke="#c4c4c4" stroke-width="0.9"/>
<line x1="375.52" y1="131.25" x2="379.92" y2="131.25" stroke="#c4c4c4" stroke-width="0.9"/>
<line x1="429.94" y1="100.70" x2="429.94" y2="91.67" stroke="#c4c4c4" stroke-width="0.9"/>
<line x1="427.74" y1="91.67" x2="432.14" y2="91.67" stroke="#c4c4c4" stroke-width="0.9"/>
<line x1="482.16" y1="75.70" x2="482.16" y2="61.81" stroke="#c4c4c4" stroke-width="0.9"/>
<line x1="479.96" y1="61.81" x2="484.36" y2="61.81" stroke="#c4c4c4" stroke-width="0.9"/>
<path d="M325.50,153.13 L377.72,133.68 L429.94,100.70 L482.16,75.70" fill="none" stroke="#c4c4c4" stroke-width="1.1"/>
<line x1="377.72" y1="138.89" x2="377.72" y2="136.11" stroke="#5e3a12" stroke-width="0.9"/>
<line x1="375.52" y1="136.11" x2="379.92" y2="136.11" stroke="#5e3a12" stroke-width="0.9"/>
<line x1="429.94" y1="123.61" x2="429.94" y2="120.84" stroke="#5e3a12" stroke-width="0.9"/>
<line x1="427.74" y1="120.84" x2="432.14" y2="120.84" stroke="#5e3a12" stroke-width="0.9"/>
<line x1="482.16" y1="103.82" x2="482.16" y2="87.50" stroke="#5e3a12" stroke-width="0.9"/>
<line x1="479.96" y1="87.50" x2="484.36" y2="87.50" stroke="#5e3a12" stroke-width="0.9"/>
<path d="M325.50,153.13 L377.72,138.89 L429.94,123.61 L482.16,103.82" fill="none" stroke="#5e3a12" stroke-width="1.1"/>
<line x1="377.72" y1="144.10" x2="377.72" y2="142.36" stroke="#3aa6d8" stroke-width="0.9"/>
<line x1="375.52" y1="142.36" x2="379.92" y2="142.36" stroke="#3aa6d8" stroke-width="0.9"/>
<line x1="429.94" y1="140.63" x2="429.94" y2="139.58" stroke="#3aa6d8" stroke-width="0.9"/>
<line x1="427.74" y1="139.58" x2="432.14" y2="139.58" stroke="#3aa6d8" stroke-width="0.9"/>
<line x1="482.16" y1="137.15" x2="482.16" y2="131.25" stroke="#3aa6d8" stroke-width="0.9"/>
<line x1="479.96" y1="131.25" x2="484.36" y2="131.25" stroke="#3aa6d8" stroke-width="0.9"/>
<path d="M325.50,153.47 L377.72,144.10 L429.94,140.63 L482.16,137.15" fill="none" stroke="#3aa6d8" stroke-width="1.1"/>
<path d="M325.50,150.82 L327.92,155.02 L323.08,155.02Z" fill="#f0a22e"/>
<path d="M377.72,132.41 L380.14,136.61 L375.31,136.61Z" fill="#f0a22e"/>
<path d="M429.94,118.87 L432.36,123.07 L427.52,123.07Z" fill="#f0a22e"/>
<path d="M482.16,100.12 L484.57,104.32 L479.74,104.32Z" fill="#f0a22e"/>
<circle cx="325.50" cy="153.13" r="2.10" fill="#c4c4c4"/>
<circle cx="377.72" cy="133.68" r="2.10" fill="#c4c4c4"/>
<circle cx="429.94" cy="100.70" r="2.10" fill="#c4c4c4"/>
<circle cx="482.16" cy="75.70" r="2.10" fill="#c4c4c4"/>
<rect x="323.40" y="151.03" width="4.20" height="4.20" fill="#5e3a12"/>
<rect x="375.62" y="136.79" width="4.20" height="4.20" fill="#5e3a12"/>
<rect x="427.84" y="121.51" width="4.20" height="4.20" fill="#5e3a12"/>
<rect x="480.06" y="101.72" width="4.20" height="4.20" fill="#5e3a12"/>
<path d="M325.50,155.78 L327.92,151.58 L323.08,151.58Z" fill="#3aa6d8"/>
<path d="M377.72,146.41 L380.14,142.21 L375.31,142.21Z" fill="#3aa6d8"/>
<path d="M429.94,142.94 L432.36,138.74 L427.52,138.74Z" fill="#3aa6d8"/>
<path d="M482.16,139.46 L484.57,135.26 L479.74,135.26Z" fill="#3aa6d8"/>
<circle cx="325.50" cy="152.92" r="2.20" fill="#cfcfcf"/>
<line x1="325.5" y1="140" x2="325.5" y2="163" stroke="#1c1c1c" stroke-width="1"/>
<line x1="333.5" y1="41.2" x2="345.5" y2="41.2" stroke="#c4c4c4" stroke-width="1.1"/>
<circle cx="339.50" cy="41.20" r="2.10" fill="#c4c4c4"/>
<text x="350.20" y="43.50" font-size="6.5" text-anchor="start" fill="#2a2a2a" font-weight="normal" stroke="#2a2a2a" stroke-width="0.18" textLength="21" lengthAdjust="spacingAndGlyphs">PBS (6)</text>
<line x1="333.5" y1="53.2" x2="345.5" y2="53.2" stroke="#5e3a12" stroke-width="1.1"/>
<rect x="337.40" y="51.10" width="4.20" height="4.20" fill="#5e3a12"/>
<text x="350.20" y="55.50" font-size="6.5" text-anchor="start" fill="#2a2a2a" font-weight="normal" stroke="#2a2a2a" stroke-width="0.18" textLength="34" lengthAdjust="spacingAndGlyphs">Ibrutinib (6)</text>
<line x1="333.5" y1="65.2" x2="345.5" y2="65.2" stroke="#f0a22e" stroke-width="1.1"/>
<path d="M339.50,62.89 L341.92,67.09 L337.08,67.09Z" fill="#f0a22e"/>
<text x="350.20" y="67.50" font-size="6.5" text-anchor="start" fill="#2a2a2a" font-weight="normal" stroke="#2a2a2a" stroke-width="0.18" textLength="31" lengthAdjust="spacingAndGlyphs">IM156 (6)</text>
<line x1="333.5" y1="76.8" x2="345.5" y2="76.8" stroke="#3aa6d8" stroke-width="1.1"/>
<path d="M339.50,79.11 L341.92,74.91 L337.08,74.91Z" fill="#3aa6d8"/>
<text x="350.20" y="79.10" font-size="6.5" text-anchor="start" fill="#2a2a2a" font-weight="normal" stroke="#2a2a2a" stroke-width="0.18" textLength="31" lengthAdjust="spacingAndGlyphs">Combo (6)</text>
<path d="M488.30,104.00 H492.40 V137.30 H488.30" fill="none" stroke="#3a3a3a" stroke-width="1.05"/>
<path d="M495.80,101.60 H500.00 V137.30 H495.80" fill="none" stroke="#3a3a3a" stroke-width="1.05"/>
<path d="M504.20,75.70 H508.20 V137.30 H504.20" fill="none" stroke="#3a3a3a" stroke-width="1.05"/>
<path d="M493.60,120.00H495.60M494.10,119.13L495.10,120.87M495.10,119.13L494.10,120.87" stroke="#333" stroke-width="0.6"/>
<path d="M501.80,120.00H503.80M502.30,119.13L503.30,120.87M503.30,119.13L502.30,120.87" stroke="#333" stroke-width="0.6"/>
<path d="M510.80,101.20H512.80M511.30,100.33L512.30,102.07M512.30,100.33L511.30,102.07" stroke="#333" stroke-width="0.6"/>
<path d="M510.80,104.40H512.80M511.30,103.53L512.30,105.27M512.30,103.53L511.30,105.27" stroke="#333" stroke-width="0.6"/>
<path d="M510.80,107.60H512.80M511.30,106.73L512.30,108.47M512.30,106.73L511.30,108.47" stroke="#333" stroke-width="0.6"/>
<text x="5.60" y="218.30" font-size="11.8" text-anchor="start" fill="#111" font-weight="bold"  >D</text>
<rect x="37.5" y="239.2" width="119.3" height="97.2" fill="url(#photo)"/>
<g filter="url(#soft)">
<path d="M61.32,251.32 Q62.79,253.90 61.91,256.93 Q61.03,259.97 58.49,261.57 Q55.96,263.17 53.19,262.89 Q50.41,262.61 47.81,261.28 Q45.20,259.95 44.31,256.92 Q43.41,253.90 44.43,250.97 Q45.45,248.04 47.75,246.02 Q50.05,243.99 52.94,244.52 Q55.83,245.05 57.84,246.89 Q59.85,248.73 61.32,251.32Z" fill="#eadbd0" filter="url(#soft2)"/>
<path d="M59.64,251.82 Q60.81,253.90 60.11,256.35 Q59.41,258.79 57.39,260.08 Q55.37,261.37 53.17,261.15 Q50.96,260.92 48.89,259.85 Q46.81,258.78 46.10,256.34 Q45.39,253.90 46.20,251.54 Q47.01,249.18 48.84,247.55 Q50.67,245.92 52.97,246.34 Q55.27,246.77 56.87,248.25 Q58.47,249.73 59.64,251.82Z" fill="url(#tum)"/>
<path d="M79.50,252.11 Q80.24,253.90 79.79,255.92 Q79.33,257.93 77.63,258.80 Q75.93,259.68 74.10,260.02 Q72.26,260.37 70.60,259.20 Q68.94,258.04 68.74,255.97 Q68.55,253.90 68.90,251.96 Q69.26,250.02 70.77,248.77 Q72.29,247.53 74.16,247.66 Q76.03,247.79 77.39,249.06 Q78.75,250.33 79.50,252.11Z" fill="#eadbd0" filter="url(#soft2)"/>
<path d="M77.85,252.63 Q78.36,253.90 78.05,255.34 Q77.73,256.77 76.56,257.39 Q75.39,258.01 74.13,258.26 Q72.86,258.50 71.72,257.68 Q70.58,256.85 70.44,255.37 Q70.31,253.90 70.55,252.52 Q70.80,251.13 71.84,250.25 Q72.88,249.36 74.17,249.46 Q75.46,249.55 76.40,250.45 Q77.33,251.35 77.85,252.63Z" fill="url(#tum)"/>
<path d="M97.63,251.82 Q97.86,253.70 97.56,255.53 Q97.25,257.36 95.64,258.52 Q94.02,259.67 92.06,259.48 Q90.11,259.29 88.77,258.09 Q87.43,256.89 86.43,255.30 Q85.44,253.70 86.08,251.86 Q86.73,250.02 88.46,249.20 Q90.20,248.37 92.07,248.17 Q93.94,247.97 95.67,248.95 Q97.40,249.93 97.63,251.82Z" fill="#eadbd0" filter="url(#soft2)"/>
<path d="M95.93,252.41 Q96.10,253.70 95.88,254.96 Q95.67,256.21 94.54,257.01 Q93.41,257.80 92.05,257.67 Q90.68,257.54 89.74,256.71 Q88.81,255.89 88.11,254.79 Q87.42,253.70 87.87,252.44 Q88.32,251.18 89.53,250.61 Q90.74,250.04 92.05,249.91 Q93.35,249.77 94.56,250.44 Q95.77,251.12 95.93,252.41Z" fill="url(#tum)"/>
<path d="M116.71,251.17 Q117.51,253.30 116.69,255.41 Q115.88,257.52 114.33,258.80 Q112.78,260.07 110.88,260.15 Q108.97,260.23 107.62,258.73 Q106.26,257.24 105.71,255.27 Q105.16,253.30 105.71,251.33 Q106.27,249.37 107.60,247.79 Q108.93,246.22 110.83,246.45 Q112.74,246.69 114.33,247.86 Q115.92,249.04 116.71,251.17Z" fill="#eadbd0" filter="url(#soft2)"/>
<path d="M114.95,251.72 Q115.50,253.30 114.93,254.86 Q114.36,256.42 113.29,257.37 Q112.21,258.31 110.88,258.37 Q109.56,258.42 108.61,257.32 Q107.67,256.21 107.29,254.76 Q106.90,253.30 107.29,251.85 Q107.68,250.39 108.60,249.23 Q109.53,248.06 110.85,248.23 Q112.18,248.41 113.29,249.28 Q114.39,250.15 114.95,251.72Z" fill="url(#tum)"/>
<path d="M134.00,251.31 Q134.74,253.10 134.20,255.04 Q133.65,256.97 131.95,257.94 Q130.26,258.90 128.42,258.83 Q126.59,258.76 124.61,258.06 Q122.64,257.35 122.37,255.23 Q122.10,253.10 122.84,251.33 Q123.59,249.55 124.97,248.12 Q126.35,246.69 128.43,246.59 Q130.52,246.49 131.89,248.00 Q133.27,249.51 134.00,251.31Z" fill="#eadbd0" filter="url(#soft2)"/>
<path d="M132.39,251.81 Q132.91,253.10 132.53,254.49 Q132.14,255.87 130.93,256.56 Q129.72,257.25 128.42,257.21 Q127.11,257.16 125.70,256.65 Q124.30,256.15 124.10,254.62 Q123.91,253.10 124.44,251.83 Q124.97,250.56 125.96,249.53 Q126.94,248.51 128.42,248.43 Q129.91,248.36 130.89,249.45 Q131.86,250.53 132.39,251.81Z" fill="url(#tum)"/>
<path d="M153.15,251.06 Q153.90,253.20 153.19,255.38 Q152.48,257.55 151.07,259.02 Q149.65,260.50 147.89,260.13 Q146.13,259.76 144.78,258.51 Q143.42,257.27 142.32,255.23 Q141.22,253.20 141.91,250.79 Q142.60,248.37 144.28,247.16 Q145.96,245.95 147.82,245.89 Q149.67,245.83 151.04,247.38 Q152.40,248.93 153.15,251.06Z" fill="#eadbd0" filter="url(#soft2)"/>
<path d="M151.48,251.58 Q152.00,253.20 151.51,254.85 Q151.02,256.49 150.05,257.61 Q149.08,258.72 147.86,258.44 Q146.65,258.16 145.72,257.22 Q144.79,256.28 144.03,254.74 Q143.27,253.20 143.75,251.37 Q144.22,249.55 145.38,248.63 Q146.53,247.72 147.81,247.67 Q149.09,247.63 150.03,248.80 Q150.97,249.97 151.48,251.58Z" fill="url(#tum)"/>
<path d="M58.93,278.27 Q60.08,280.10 59.09,282.03 Q58.09,283.96 56.33,285.49 Q54.58,287.02 52.04,286.90 Q49.51,286.78 47.46,285.53 Q45.41,284.27 44.52,282.19 Q43.63,280.10 44.88,278.24 Q46.13,276.38 47.99,275.37 Q49.86,274.36 52.04,274.25 Q54.22,274.15 56.00,275.29 Q57.78,276.44 58.93,278.27Z" fill="#eadbd0" filter="url(#soft2)"/>
<path d="M57.24,278.78 Q58.11,280.10 57.36,281.49 Q56.61,282.88 55.28,283.98 Q53.95,285.08 52.03,285.00 Q50.12,284.92 48.57,284.01 Q47.02,283.11 46.34,281.60 Q45.67,280.10 46.61,278.76 Q47.56,277.42 48.97,276.69 Q50.38,275.96 52.03,275.89 Q53.68,275.81 55.03,276.64 Q56.37,277.46 57.24,278.78Z" fill="url(#tum)"/>
<path d="M79.02,278.30 Q79.47,280.50 78.80,282.54 Q78.14,284.58 76.58,286.22 Q75.01,287.86 72.63,288.09 Q70.24,288.32 68.50,286.64 Q66.77,284.95 65.70,282.73 Q64.63,280.50 65.42,278.07 Q66.21,275.63 68.42,274.75 Q70.62,273.88 72.82,273.48 Q75.03,273.08 76.80,274.59 Q78.56,276.10 79.02,278.30Z" fill="#eadbd0" filter="url(#soft2)"/>
<path d="M77.43,278.84 Q77.77,280.50 77.27,282.04 Q76.77,283.59 75.60,284.83 Q74.43,286.06 72.65,286.24 Q70.86,286.41 69.56,285.14 Q68.26,283.87 67.46,282.18 Q66.66,280.50 67.25,278.66 Q67.85,276.82 69.49,276.15 Q71.14,275.49 72.79,275.19 Q74.45,274.89 75.77,276.03 Q77.09,277.17 77.43,278.84Z" fill="url(#tum)"/>
<path d="M96.55,277.44 Q96.99,278.90 96.89,280.62 Q96.80,282.33 95.26,283.03 Q93.73,283.73 92.15,283.89 Q90.57,284.05 89.23,283.09 Q87.88,282.13 87.20,280.51 Q86.52,278.90 87.19,277.28 Q87.85,275.65 89.24,274.79 Q90.63,273.93 92.21,273.90 Q93.79,273.87 94.95,274.93 Q96.11,275.98 96.55,277.44Z" fill="#eadbd0" filter="url(#soft2)"/>
<path d="M94.99,277.95 Q95.27,278.90 95.21,280.02 Q95.15,281.14 94.16,281.59 Q93.18,282.04 92.17,282.15 Q91.16,282.25 90.29,281.63 Q89.43,281.00 88.99,279.95 Q88.56,278.90 88.98,277.84 Q89.41,276.78 90.30,276.22 Q91.19,275.66 92.21,275.64 Q93.22,275.63 93.96,276.31 Q94.71,277.00 94.99,277.95Z" fill="url(#tum)"/>
<path d="M114.75,276.84 Q115.69,278.40 115.16,280.29 Q114.62,282.17 113.07,282.90 Q111.51,283.63 110.03,283.53 Q108.55,283.42 107.28,282.54 Q106.01,281.66 105.49,280.03 Q104.96,278.40 105.21,276.55 Q105.45,274.69 106.86,273.54 Q108.26,272.40 109.99,272.43 Q111.72,272.47 112.76,273.88 Q113.81,275.29 114.75,276.84Z" fill="#eadbd0" filter="url(#soft2)"/>
<path d="M113.05,277.34 Q113.65,278.40 113.31,279.68 Q112.97,280.97 111.97,281.46 Q110.97,281.96 110.02,281.89 Q109.07,281.82 108.25,281.22 Q107.44,280.62 107.10,279.51 Q106.77,278.40 106.93,277.14 Q107.08,275.88 107.98,275.09 Q108.89,274.31 109.99,274.34 Q111.10,274.37 111.77,275.32 Q112.45,276.28 113.05,277.34Z" fill="url(#tum)"/>
<path d="M132.56,277.00 Q133.30,278.60 132.74,280.34 Q132.18,282.08 130.82,283.13 Q129.45,284.17 127.74,284.35 Q126.04,284.54 125.01,283.09 Q123.98,281.64 123.48,280.12 Q122.98,278.60 123.18,276.84 Q123.38,275.09 124.72,273.90 Q126.05,272.71 127.76,272.85 Q129.46,273.00 130.65,274.20 Q131.83,275.40 132.56,277.00Z" fill="#eadbd0" filter="url(#soft2)"/>
<path d="M130.86,277.52 Q131.33,278.60 130.97,279.77 Q130.61,280.94 129.74,281.64 Q128.86,282.34 127.76,282.47 Q126.67,282.60 126.01,281.62 Q125.35,280.64 125.03,279.62 Q124.71,278.60 124.84,277.42 Q124.96,276.24 125.82,275.44 Q126.68,274.64 127.77,274.74 Q128.87,274.83 129.63,275.64 Q130.38,276.45 130.86,277.52Z" fill="url(#tum)"/>
<path d="M151.59,275.41 Q152.29,277.00 151.86,278.80 Q151.42,280.61 149.95,281.35 Q148.48,282.10 146.96,282.22 Q145.45,282.35 144.23,281.30 Q143.01,280.26 142.61,278.63 Q142.20,277.00 142.51,275.29 Q142.81,273.59 144.16,272.71 Q145.50,271.83 147.01,271.79 Q148.52,271.75 149.71,272.79 Q150.90,273.82 151.59,275.41Z" fill="#eadbd0" filter="url(#soft2)"/>
<path d="M149.95,275.92 Q150.39,277.00 150.12,278.23 Q149.84,279.46 148.89,279.96 Q147.95,280.47 146.98,280.55 Q146.01,280.64 145.22,279.93 Q144.44,279.22 144.18,278.11 Q143.92,277.00 144.12,275.84 Q144.31,274.68 145.18,274.08 Q146.04,273.48 147.01,273.45 Q147.97,273.43 148.74,274.13 Q149.50,274.84 149.95,275.92Z" fill="url(#tum)"/>
<path d="M59.38,303.15 Q59.90,305.50 58.91,307.46 Q57.91,309.42 56.60,311.13 Q55.29,312.85 53.31,312.47 Q51.33,312.10 49.89,310.77 Q48.46,309.44 47.32,307.47 Q46.17,305.50 47.22,303.45 Q48.27,301.40 49.64,299.62 Q51.02,297.84 53.19,297.89 Q55.35,297.94 57.10,299.37 Q58.85,300.81 59.38,303.15Z" fill="#eadbd0" filter="url(#soft2)"/>
<path d="M57.60,303.74 Q57.97,305.50 57.26,306.97 Q56.56,308.43 55.62,309.72 Q54.69,311.00 53.28,310.72 Q51.87,310.44 50.85,309.44 Q49.83,308.45 49.01,306.97 Q48.19,305.50 48.94,303.97 Q49.69,302.43 50.67,301.10 Q51.65,299.77 53.19,299.80 Q54.73,299.84 55.98,300.91 Q57.22,301.99 57.60,303.74Z" fill="url(#tum)"/>
<path d="M76.75,303.69 Q77.08,305.50 76.74,307.29 Q76.39,309.09 74.97,309.99 Q73.56,310.89 71.86,311.39 Q70.16,311.89 68.70,310.63 Q67.25,309.38 66.81,307.44 Q66.37,305.50 66.99,303.70 Q67.60,301.91 68.98,300.86 Q70.36,299.82 72.08,299.53 Q73.81,299.24 75.11,300.56 Q76.42,301.89 76.75,303.69Z" fill="#eadbd0" filter="url(#soft2)"/>
<path d="M75.14,304.24 Q75.36,305.50 75.13,306.75 Q74.90,308.01 73.97,308.64 Q73.03,309.26 71.90,309.61 Q70.78,309.96 69.82,309.09 Q68.86,308.21 68.57,306.86 Q68.28,305.50 68.69,304.25 Q69.10,302.99 70.01,302.26 Q70.92,301.53 72.06,301.33 Q73.19,301.13 74.06,302.05 Q74.92,302.98 75.14,304.24Z" fill="url(#tum)"/>
<path d="M98.20,301.24 Q98.83,303.30 98.07,305.25 Q97.32,307.20 96.06,308.46 Q94.80,309.72 93.23,309.60 Q91.66,309.49 90.11,308.59 Q88.57,307.69 88.11,305.49 Q87.65,303.30 88.37,301.35 Q89.08,299.40 90.23,297.69 Q91.38,295.98 93.10,296.40 Q94.82,296.82 96.19,298.00 Q97.56,299.17 98.20,301.24Z" fill="#eadbd0" filter="url(#soft2)"/>
<path d="M96.50,301.77 Q96.92,303.30 96.42,304.74 Q95.92,306.18 95.09,307.12 Q94.26,308.05 93.22,307.96 Q92.18,307.88 91.16,307.21 Q90.14,306.55 89.84,304.92 Q89.53,303.30 90.01,301.86 Q90.48,300.41 91.24,299.15 Q91.99,297.89 93.13,298.20 Q94.27,298.51 95.17,299.38 Q96.08,300.25 96.50,301.77Z" fill="url(#tum)"/>
<path d="M114.71,301.13 Q114.81,302.90 114.43,304.44 Q114.04,305.98 112.97,307.23 Q111.90,308.48 110.38,308.21 Q108.85,307.94 107.75,306.93 Q106.64,305.91 106.05,304.40 Q105.46,302.90 105.99,301.35 Q106.52,299.79 107.60,298.52 Q108.68,297.25 110.18,297.67 Q111.68,298.09 113.14,298.73 Q114.61,299.36 114.71,301.13Z" fill="#eadbd0" filter="url(#soft2)"/>
<path d="M113.02,301.73 Q113.08,302.90 112.84,303.92 Q112.61,304.93 111.95,305.76 Q111.29,306.59 110.35,306.41 Q109.41,306.23 108.73,305.56 Q108.05,304.89 107.68,303.89 Q107.32,302.90 107.64,301.87 Q107.97,300.85 108.64,300.01 Q109.30,299.17 110.23,299.45 Q111.15,299.72 112.05,300.14 Q112.95,300.56 113.02,301.73Z" fill="url(#tum)"/>
<path d="M133.10,301.41 Q133.15,303.30 133.06,305.15 Q132.97,307.00 131.58,308.02 Q130.20,309.04 128.67,308.78 Q127.15,308.52 125.86,307.62 Q124.58,306.71 124.20,305.01 Q123.82,303.30 124.29,301.67 Q124.76,300.04 125.95,299.07 Q127.15,298.09 128.63,298.00 Q130.10,297.91 131.58,298.72 Q133.05,299.53 133.10,301.41Z" fill="#eadbd0" filter="url(#soft2)"/>
<path d="M131.42,302.02 Q131.45,303.30 131.40,304.56 Q131.34,305.82 130.47,306.51 Q129.60,307.20 128.65,307.03 Q127.69,306.85 126.88,306.24 Q126.07,305.62 125.84,304.46 Q125.60,303.30 125.89,302.19 Q126.19,301.08 126.94,300.42 Q127.69,299.76 128.62,299.69 Q129.54,299.63 130.47,300.18 Q131.39,300.73 131.42,302.02Z" fill="url(#tum)"/>
<path d="M149.00,302.67 Q149.89,304.10 149.36,305.82 Q148.82,307.54 147.39,308.17 Q145.96,308.81 144.57,308.91 Q143.18,309.01 141.79,308.27 Q140.40,307.52 140.32,305.81 Q140.23,304.10 140.38,302.44 Q140.54,300.79 141.86,299.99 Q143.18,299.19 144.70,298.83 Q146.23,298.47 147.17,299.86 Q148.10,301.24 149.00,302.67Z" fill="#eadbd0" filter="url(#soft2)"/>
<path d="M147.29,303.17 Q147.84,304.10 147.51,305.23 Q147.18,306.35 146.31,306.77 Q145.43,307.18 144.58,307.25 Q143.73,307.31 142.88,306.83 Q142.03,306.34 141.98,305.22 Q141.93,304.10 142.02,303.02 Q142.11,301.93 142.92,301.41 Q143.73,300.89 144.66,300.65 Q145.60,300.42 146.17,301.32 Q146.74,302.23 147.29,303.17Z" fill="url(#tum)"/>
<path d="M57.33,326.15 Q58.05,328.00 57.38,329.89 Q56.70,331.79 55.49,332.83 Q54.29,333.87 52.92,333.78 Q51.55,333.69 50.13,332.94 Q48.71,332.18 48.37,330.09 Q48.02,328.00 48.62,326.17 Q49.23,324.33 50.32,323.04 Q51.42,321.75 52.97,321.44 Q54.53,321.13 55.56,322.72 Q56.60,324.31 57.33,326.15Z" fill="#eadbd0" filter="url(#soft2)"/>
<path d="M55.63,326.67 Q56.08,328.00 55.66,329.37 Q55.24,330.73 54.50,331.48 Q53.76,332.23 52.91,332.17 Q52.07,332.10 51.19,331.56 Q50.32,331.01 50.11,329.51 Q49.89,328.00 50.27,326.68 Q50.64,325.36 51.31,324.43 Q51.99,323.49 52.94,323.27 Q53.90,323.05 54.54,324.19 Q55.18,325.34 55.63,326.67Z" fill="url(#tum)"/>
<path d="M76.43,326.42 Q76.97,327.90 76.28,329.27 Q75.59,330.65 74.40,331.52 Q73.20,332.39 71.60,332.68 Q70.01,332.96 68.66,331.98 Q67.32,330.99 67.07,329.45 Q66.83,327.90 67.34,326.54 Q67.86,325.19 69.04,324.35 Q70.23,323.50 71.79,323.25 Q73.34,322.99 74.62,323.96 Q75.90,324.94 76.43,326.42Z" fill="#eadbd0" filter="url(#soft2)"/>
<path d="M74.74,326.96 Q75.08,327.90 74.64,328.77 Q74.20,329.63 73.43,330.18 Q72.66,330.73 71.64,330.91 Q70.61,331.10 69.75,330.47 Q68.89,329.85 68.73,328.88 Q68.57,327.90 68.91,327.04 Q69.24,326.19 70.00,325.66 Q70.76,325.13 71.75,324.96 Q72.75,324.80 73.57,325.42 Q74.39,326.03 74.74,326.96Z" fill="url(#tum)"/>
<path d="M98.74,326.08 Q99.13,328.00 98.66,329.84 Q98.19,331.68 97.11,333.08 Q96.03,334.48 94.49,334.54 Q92.94,334.61 91.63,333.39 Q90.33,332.17 89.95,330.08 Q89.57,328.00 90.19,326.16 Q90.81,324.32 91.97,323.27 Q93.13,322.22 94.60,321.79 Q96.07,321.36 97.21,322.76 Q98.35,324.16 98.74,326.08Z" fill="#eadbd0" filter="url(#soft2)"/>
<path d="M97.11,326.62 Q97.35,328.00 97.06,329.33 Q96.77,330.65 96.11,331.66 Q95.44,332.67 94.49,332.72 Q93.54,332.76 92.73,331.88 Q91.93,331.00 91.69,329.50 Q91.46,328.00 91.84,326.67 Q92.23,325.35 92.94,324.59 Q93.66,323.84 94.56,323.53 Q95.47,323.22 96.17,324.22 Q96.87,325.23 97.11,326.62Z" fill="url(#tum)"/>
<path d="M114.76,326.14 Q115.25,327.50 114.62,328.74 Q113.99,329.99 113.16,331.10 Q112.34,332.21 111.06,331.99 Q109.79,331.78 108.63,331.10 Q107.48,330.43 107.06,328.96 Q106.63,327.50 107.17,326.13 Q107.71,324.77 108.79,324.14 Q109.87,323.51 111.11,323.11 Q112.36,322.70 113.32,323.74 Q114.27,324.78 114.76,326.14Z" fill="#eadbd0" filter="url(#soft2)"/>
<path d="M113.04,326.68 Q113.30,327.50 112.96,328.25 Q112.62,328.99 112.17,329.66 Q111.72,330.32 111.03,330.20 Q110.34,330.07 109.72,329.66 Q109.09,329.26 108.86,328.38 Q108.63,327.50 108.92,326.68 Q109.22,325.86 109.80,325.48 Q110.39,325.11 111.06,324.86 Q111.74,324.62 112.26,325.24 Q112.78,325.87 113.04,326.68Z" fill="url(#tum)"/>
<path d="M131.14,327.03 Q131.68,328.50 131.05,329.90 Q130.43,331.30 129.45,332.12 Q128.48,332.95 127.22,333.26 Q125.96,333.58 125.03,332.47 Q124.10,331.36 123.81,329.93 Q123.51,328.50 123.80,327.07 Q124.10,325.64 125.06,324.65 Q126.02,323.65 127.22,323.94 Q128.43,324.23 129.52,324.89 Q130.60,325.55 131.14,327.03Z" fill="#eadbd0" filter="url(#soft2)"/>
<path d="M129.38,327.57 Q129.67,328.50 129.34,329.38 Q129.00,330.26 128.47,330.77 Q127.94,331.29 127.26,331.49 Q126.57,331.68 126.07,330.99 Q125.56,330.29 125.41,329.40 Q125.25,328.50 125.40,327.60 Q125.56,326.71 126.08,326.08 Q126.61,325.46 127.26,325.64 Q127.91,325.82 128.50,326.23 Q129.09,326.65 129.38,327.57Z" fill="url(#tum)"/>
<path d="M148.56,326.26 Q148.83,327.50 148.48,328.68 Q148.14,329.87 147.12,330.45 Q146.10,331.03 144.93,331.26 Q143.75,331.49 142.71,330.75 Q141.67,330.01 141.25,328.76 Q140.84,327.50 141.41,326.36 Q141.98,325.22 142.87,324.37 Q143.75,323.51 144.96,323.64 Q146.17,323.77 147.23,324.39 Q148.29,325.02 148.56,326.26Z" fill="#eadbd0" filter="url(#soft2)"/>
<path d="M146.85,326.83 Q146.99,327.50 146.81,328.14 Q146.63,328.77 146.10,329.08 Q145.57,329.39 144.96,329.52 Q144.35,329.64 143.81,329.24 Q143.27,328.85 143.06,328.17 Q142.84,327.50 143.14,326.89 Q143.43,326.28 143.89,325.82 Q144.35,325.36 144.98,325.43 Q145.61,325.50 146.16,325.83 Q146.71,326.17 146.85,326.83Z" fill="url(#tum)"/>
</g>
<text x="34.00" y="256.00" font-size="6.8" text-anchor="end" fill="#2a2a2a" font-weight="normal" stroke="#2a2a2a" stroke-width="0.18" >PBS</text>
<text x="34.00" y="282.00" font-size="6.8" text-anchor="end" fill="#2a2a2a" font-weight="normal" stroke="#2a2a2a" stroke-width="0.18" >Ibrutinib</text>
<text x="34.00" y="307.20" font-size="6.8" text-anchor="end" fill="#2a2a2a" font-weight="normal" stroke="#2a2a2a" stroke-width="0.18" >IM156</text>
<text x="34.00" y="329.80" font-size="6.8" text-anchor="end" fill="#2a2a2a" font-weight="normal" stroke="#2a2a2a" stroke-width="0.18" >Combo</text>
<text x="43.00" y="344.40" font-size="6.4" text-anchor="start" fill="#2a2a2a" font-weight="normal" stroke="#2a2a2a" stroke-width="0.18" textLength="23.3" lengthAdjust="spacingAndGlyphs">– 5 mm</text>
<line x1="201.9" y1="228.5" x2="201.9" y2="344.1" stroke="#333" stroke-width="1.2"/>
<line x1="201.3" y1="343.5" x2="313.8" y2="343.5" stroke="#333" stroke-width="1.1"/>
<line x1="198.8" y1="343.50" x2="201.9" y2="343.50" stroke="#333" stroke-width="0.9"/>
<text x="195.20" y="345.00" font-size="6" text-anchor="end" fill="#333" font-weight="normal" stroke="#333" stroke-width="0.18" >0</text>
<line x1="198.8" y1="320.85" x2="201.9" y2="320.85" stroke="#333" stroke-width="0.9"/>
<text x="195.20" y="322.35" font-size="6" text-anchor="end" fill="#333" font-weight="normal" stroke="#333" stroke-width="0.18" >500</text>
<line x1="198.8" y1="298.20" x2="201.9" y2="298.20" stroke="#333" stroke-width="0.9"/>
<text x="195.20" y="299.70" font-size="6" text-anchor="end" fill="#333" font-weight="normal" stroke="#333" stroke-width="0.18" >1000</text>
<line x1="198.8" y1="275.55" x2="201.9" y2="275.55" stroke="#333" stroke-width="0.9"/>
<text x="195.20" y="277.05" font-size="6" text-anchor="end" fill="#333" font-weight="normal" stroke="#333" stroke-width="0.18" >1500</text>
<line x1="198.8" y1="252.90" x2="201.9" y2="252.90" stroke="#333" stroke-width="0.9"/>
<text x="195.20" y="254.40" font-size="6" text-anchor="end" fill="#333" font-weight="normal" stroke="#333" stroke-width="0.18" >2000</text>
<line x1="198.8" y1="230.25" x2="201.9" y2="230.25" stroke="#333" stroke-width="0.9"/>
<text x="195.20" y="231.75" font-size="6" text-anchor="end" fill="#333" font-weight="normal" stroke="#333" stroke-width="0.18" >2500</text>
<line x1="219" y1="343.5" x2="219" y2="346.2" stroke="#333" stroke-width="0.9"/>
<line x1="245" y1="343.5" x2="245" y2="346.2" stroke="#333" stroke-width="0.9"/>
<line x1="271" y1="343.5" x2="271" y2="346.2" stroke="#333" stroke-width="0.9"/>
<line x1="297" y1="343.5" x2="297" y2="346.2" stroke="#333" stroke-width="0.9"/>
<text transform="translate(221.6,353.6) rotate(-45)" font-size="6.4" text-anchor="end" fill="#333" stroke="#333" stroke-width="0.18">PBS</text>
<text transform="translate(247.6,353.6) rotate(-45)" font-size="6.4" text-anchor="end" fill="#333" stroke="#333" stroke-width="0.18">Ibrutinib</text>
<text transform="translate(273.6,353.6) rotate(-45)" font-size="6.4" text-anchor="end" fill="#333" stroke="#333" stroke-width="0.18">IM156</text>
<text transform="translate(299.6,353.6) rotate(-45)" font-size="6.4" text-anchor="end" fill="#333" stroke="#333" stroke-width="0.18">Combo</text>
<text transform="translate(175.6,288) rotate(-90)" font-size="6.6" text-anchor="middle" fill="#333" stroke="#333" stroke-width="0.18">Tumor volume in mm<tspan font-size="4.5" dy="-2.5">3</tspan></text>
<line x1="210" y1="321.8" x2="228" y2="321.8" stroke="#c4c4c4" stroke-width="0.9"/>
<line x1="236" y1="335" x2="254" y2="335" stroke="#5e3a12" stroke-width="0.9"/>
<line x1="262" y1="332.2" x2="280" y2="332.2" stroke="#f0a22e" stroke-width="0.9"/>
<line x1="288" y1="338.3" x2="306" y2="338.3" stroke="#3aa6d8" stroke-width="0.9"/>
<circle cx="212.7" cy="319.3" r="2.35" fill="#c4c4c4"/>
<circle cx="212.7" cy="325" r="2.35" fill="#c4c4c4"/>
<circle cx="218.9" cy="321.8" r="2.35" fill="#c4c4c4"/>
<circle cx="225.4" cy="317.7" r="2.35" fill="#c4c4c4"/>
<circle cx="225.4" cy="323.5" r="2.35" fill="#c4c4c4"/>
<circle cx="219" cy="240.4" r="2.35" fill="#c4c4c4"/>
<circle cx="241.5" cy="314.2" r="2.35" fill="#5e3a12"/>
<circle cx="248.5" cy="311.9" r="2.35" fill="#5e3a12"/>
<circle cx="238.8" cy="333.2" r="2.35" fill="#5e3a12"/>
<circle cx="238.8" cy="337.8" r="2.35" fill="#5e3a12"/>
<circle cx="245" cy="335" r="2.35" fill="#5e3a12"/>
<circle cx="251.2" cy="335" r="2.35" fill="#5e3a12"/>
<circle cx="271.1" cy="307.3" r="2.35" fill="#f0a22e"/>
<circle cx="264.6" cy="327.4" r="2.35" fill="#f0a22e"/>
<circle cx="271.1" cy="329.2" r="2.35" fill="#f0a22e"/>
<circle cx="264.6" cy="336.2" r="2.35" fill="#f0a22e"/>
<circle cx="271.1" cy="335" r="2.35" fill="#f0a22e"/>
<circle cx="277.8" cy="335.5" r="2.35" fill="#f0a22e"/>
<circle cx="291.2" cy="337.3" r="2.35" fill="#3aa6d8"/>
<circle cx="299.2" cy="334.5" r="2.35" fill="#3aa6d8"/>
<circle cx="293.5" cy="339.6" r="2.35" fill="#3aa6d8"/>
<circle cx="297" cy="339.6" r="2.35" fill="#3aa6d8"/>
<circle cx="301.5" cy="339.2" r="2.35" fill="#3aa6d8"/>
<circle cx="291.2" cy="339" r="2.35" fill="#3aa6d8"/>
<path d="M218.5,228 V223.1 H303 V228" fill="none" stroke="#3a3a3a" stroke-width="1.05"/>
<path d="M218.5,237 V232.2 H272.8 V237" fill="none" stroke="#3a3a3a" stroke-width="1.05"/>
<path d="M246,252.3 V246.6 H303 V252.3" fill="none" stroke="#3a3a3a" stroke-width="1.05"/>
<path d="M271.3,268.2 V262.9 H300.5 V268.2" fill="none" stroke="#3a3a3a" stroke-width="1.05"/>
<path d="M258.50,219.60H260.50M259.00,218.73L260.00,220.47M260.00,218.73L259.00,220.47" stroke="#333" stroke-width="0.6"/>
<path d="M261.20,219.60H263.20M261.70,218.73L262.70,220.47M262.70,218.73L261.70,220.47" stroke="#333" stroke-width="0.6"/>
<path d="M244.50,229.00H246.50M245.00,228.13L246.00,229.87M246.00,228.13L245.00,229.87" stroke="#333" stroke-width="0.6"/>
<path d="M273.50,243.30H275.50M274.00,242.43L275.00,244.17M275.00,242.43L274.00,244.17" stroke="#333" stroke-width="0.6"/>
<path d="M284.70,259.70H286.70M285.20,258.83L286.20,260.57M286.20,258.83L285.20,260.57" stroke="#333" stroke-width="0.6"/>
<text x="327.60" y="217.60" font-size="11.8" text-anchor="start" fill="#111" font-weight="bold"  >E</text>
<line x1="351.5" y1="233.4" x2="351.5" y2="344" stroke="#1c1c1c" stroke-width="1"/>
<line x1="351" y1="343.5" x2="513" y2="343.5" stroke="#1c1c1c" stroke-width="1"/>
<line x1="348.3" y1="343.50" x2="351.5" y2="343.50" stroke="#1c1c1c" stroke-width="0.9"/>
<text x="344.60" y="345.70" font-size="6.3" text-anchor="end" fill="#333" font-weight="normal" stroke="#333" stroke-width="0.18" >0</text>
<line x1="348.3" y1="325.50" x2="351.5" y2="325.50" stroke="#1c1c1c" stroke-width="0.9"/>
<text x="344.60" y="327.70" font-size="6.3" text-anchor="end" fill="#333" font-weight="normal" stroke="#333" stroke-width="0.18" >5</text>
<line x1="348.3" y1="307.50" x2="351.5" y2="307.50" stroke="#1c1c1c" stroke-width="0.9"/>
<text x="344.60" y="309.70" font-size="6.3" text-anchor="end" fill="#333" font-weight="normal" stroke="#333" stroke-width="0.18" >10</text>
<line x1="348.3" y1="289.50" x2="351.5" y2="289.50" stroke="#1c1c1c" stroke-width="0.9"/>
<text x="344.60" y="291.70" font-size="6.3" text-anchor="end" fill="#333" font-weight="normal" stroke="#333" stroke-width="0.18" >15</text>
<line x1="348.3" y1="271.50" x2="351.5" y2="271.50" stroke="#1c1c1c" stroke-width="0.9"/>
<text x="344.60" y="273.70" font-size="6.3" text-anchor="end" fill="#333" font-weight="normal" stroke="#333" stroke-width="0.18" >20</text>
<line x1="348.3" y1="253.50" x2="351.5" y2="253.50" stroke="#1c1c1c" stroke-width="0.9"/>
<text x="344.60" y="255.70" font-size="6.3" text-anchor="end" fill="#333" font-weight="normal" stroke="#333" stroke-width="0.18" >25</text>
<line x1="348.3" y1="235.50" x2="351.5" y2="235.50" stroke="#1c1c1c" stroke-width="0.9"/>
<text x="344.60" y="237.70" font-size="6.3" text-anchor="end" fill="#333" font-weight="normal" stroke="#333" stroke-width="0.18" >30</text>
<line x1="360.30" y1="343.3" x2="360.30" y2="346.2" stroke="#1c1c1c" stroke-width="0.8"/>
<text x="360.30" y="354.70" font-size="6.3" text-anchor="middle" fill="#333" font-weight="normal" stroke="#333" stroke-width="0.18" >0</text>
<line x1="378.21" y1="343.3" x2="378.21" y2="346.2" stroke="#1c1c1c" stroke-width="0.8"/>
<text x="378.21" y="354.70" font-size="6.3" text-anchor="middle" fill="#333" font-weight="normal" stroke="#333" stroke-width="0.18" >3</text>
<line x1="396.12" y1="343.3" x2="396.12" y2="346.2" stroke="#1c1c1c" stroke-width="0.8"/>
<text x="396.12" y="354.70" font-size="6.3" text-anchor="middle" fill="#333" font-weight="normal" stroke="#333" stroke-width="0.18" >6</text>
<line x1="414.03" y1="343.3" x2="414.03" y2="346.2" stroke="#1c1c1c" stroke-width="0.8"/>
<text x="414.03" y="354.70" font-size="6.3" text-anchor="middle" fill="#333" font-weight="normal" stroke="#333" stroke-width="0.18" >9</text>
<line x1="431.94" y1="343.3" x2="431.94" y2="346.2" stroke="#1c1c1c" stroke-width="0.8"/>
<text x="431.94" y="354.70" font-size="6.3" text-anchor="middle" fill="#333" font-weight="normal" stroke="#333" stroke-width="0.18" >12</text>
<line x1="449.85" y1="343.3" x2="449.85" y2="346.2" stroke="#1c1c1c" stroke-width="0.8"/>
<text x="449.85" y="354.70" font-size="6.3" text-anchor="middle" fill="#333" font-weight="normal" stroke="#333" stroke-width="0.18" >15</text>
<line x1="467.76" y1="343.3" x2="467.76" y2="346.2" stroke="#1c1c1c" stroke-width="0.8"/>
<text x="467.76" y="354.70" font-size="6.3" text-anchor="middle" fill="#333" font-weight="normal" stroke="#333" stroke-width="0.18" >18</text>
<line x1="485.67" y1="343.3" x2="485.67" y2="346.2" stroke="#1c1c1c" stroke-width="0.8"/>
<text x="485.67" y="354.70" font-size="6.3" text-anchor="middle" fill="#333" font-weight="normal" stroke="#333" stroke-width="0.18" >21</text>
<line x1="503.58" y1="343.3" x2="503.58" y2="346.2" stroke="#1c1c1c" stroke-width="0.8"/>
<text x="503.58" y="354.70" font-size="6.3" text-anchor="middle" fill="#333" font-weight="normal" stroke="#333" stroke-width="0.18" >24</text>
<text x="432.40" y="365.90" font-size="7.9" text-anchor="middle" fill="#2a2a2a" font-weight="normal" stroke="#2a2a2a" stroke-width="0.18" textLength="59.5" lengthAdjust="spacingAndGlyphs">Days after treatment</text>
<text transform="translate(331.6,287.2) rotate(-90)" font-size="6.6" text-anchor="middle" fill="#333" stroke="#333" stroke-width="0.18">Body weight (g)</text>
<line x1="360.30" y1="265.02" x2="360.30" y2="256.38" stroke="#c4c4c4" stroke-width="0.8"/>
<line x1="358.30" y1="265.02" x2="362.30" y2="265.02" stroke="#c4c4c4" stroke-width="0.8"/>
<line x1="358.30" y1="256.38" x2="362.30" y2="256.38" stroke="#c4c4c4" stroke-width="0.8"/>
<line x1="378.21" y1="264.30" x2="378.21" y2="255.66" stroke="#c4c4c4" stroke-width="0.8"/>
<line x1="376.21" y1="264.30" x2="380.21" y2="264.30" stroke="#c4c4c4" stroke-width="0.8"/>
<line x1="376.21" y1="255.66" x2="380.21" y2="255.66" stroke="#c4c4c4" stroke-width="0.8"/>
<line x1="396.12" y1="265.74" x2="396.12" y2="257.10" stroke="#c4c4c4" stroke-width="0.8"/>
<line x1="394.12" y1="265.74" x2="398.12" y2="265.74" stroke="#c4c4c4" stroke-width="0.8"/>
<line x1="394.12" y1="257.10" x2="398.12" y2="257.10" stroke="#c4c4c4" stroke-width="0.8"/>
<line x1="414.03" y1="265.02" x2="414.03" y2="256.38" stroke="#c4c4c4" stroke-width="0.8"/>
<line x1="412.03" y1="265.02" x2="416.03" y2="265.02" stroke="#c4c4c4" stroke-width="0.8"/>
<line x1="412.03" y1="256.38" x2="416.03" y2="256.38" stroke="#c4c4c4" stroke-width="0.8"/>
<line x1="431.94" y1="265.02" x2="431.94" y2="256.38" stroke="#c4c4c4" stroke-width="0.8"/>
<line x1="429.94" y1="265.02" x2="433.94" y2="265.02" stroke="#c4c4c4" stroke-width="0.8"/>
<line x1="429.94" y1="256.38" x2="433.94" y2="256.38" stroke="#c4c4c4" stroke-width="0.8"/>
<line x1="449.85" y1="262.14" x2="449.85" y2="253.50" stroke="#c4c4c4" stroke-width="0.8"/>
<line x1="447.85" y1="262.14" x2="451.85" y2="262.14" stroke="#c4c4c4" stroke-width="0.8"/>
<line x1="447.85" y1="253.50" x2="451.85" y2="253.50" stroke="#c4c4c4" stroke-width="0.8"/>
<line x1="467.76" y1="261.42" x2="467.76" y2="252.78" stroke="#c4c4c4" stroke-width="0.8"/>
<line x1="465.76" y1="261.42" x2="469.76" y2="261.42" stroke="#c4c4c4" stroke-width="0.8"/>
<line x1="465.76" y1="252.78" x2="469.76" y2="252.78" stroke="#c4c4c4" stroke-width="0.8"/>
<line x1="485.67" y1="262.50" x2="485.67" y2="253.86" stroke="#c4c4c4" stroke-width="0.8"/>
<line x1="483.67" y1="262.50" x2="487.67" y2="262.50" stroke="#c4c4c4" stroke-width="0.8"/>
<line x1="483.67" y1="253.86" x2="487.67" y2="253.86" stroke="#c4c4c4" stroke-width="0.8"/>
<path d="M360.30,260.70 L378.21,259.98 L396.12,261.42 L414.03,260.70 L431.94,260.70 L449.85,257.82 L467.76,257.10 L485.67,258.18" fill="none" stroke="#c4c4c4" stroke-width="1.0"/>
<circle cx="360.30" cy="260.70" r="1.80" fill="#c4c4c4"/>
<circle cx="378.21" cy="259.98" r="1.80" fill="#c4c4c4"/>
<circle cx="396.12" cy="261.42" r="1.80" fill="#c4c4c4"/>
<circle cx="414.03" cy="260.70" r="1.80" fill="#c4c4c4"/>
<circle cx="431.94" cy="260.70" r="1.80" fill="#c4c4c4"/>
<circle cx="449.85" cy="257.82" r="1.80" fill="#c4c4c4"/>
<circle cx="467.76" cy="257.10" r="1.80" fill="#c4c4c4"/>
<circle cx="485.67" cy="258.18" r="1.80" fill="#c4c4c4"/>
<line x1="360.30" y1="260.34" x2="360.30" y2="256.02" stroke="#f0a22e" stroke-width="0.8"/>
<line x1="358.30" y1="260.34" x2="362.30" y2="260.34" stroke="#f0a22e" stroke-width="0.8"/>
<line x1="358.30" y1="256.02" x2="362.30" y2="256.02" stroke="#f0a22e" stroke-width="0.8"/>
<line x1="378.21" y1="268.26" x2="378.21" y2="263.94" stroke="#f0a22e" stroke-width="0.8"/>
<line x1="376.21" y1="268.26" x2="380.21" y2="268.26" stroke="#f0a22e" stroke-width="0.8"/>
<line x1="376.21" y1="263.94" x2="380.21" y2="263.94" stroke="#f0a22e" stroke-width="0.8"/>
<line x1="396.12" y1="268.62" x2="396.12" y2="264.30" stroke="#f0a22e" stroke-width="0.8"/>
<line x1="394.12" y1="268.62" x2="398.12" y2="268.62" stroke="#f0a22e" stroke-width="0.8"/>
<line x1="394.12" y1="264.30" x2="398.12" y2="264.30" stroke="#f0a22e" stroke-width="0.8"/>
<line x1="414.03" y1="271.86" x2="414.03" y2="267.54" stroke="#f0a22e" stroke-width="0.8"/>
<line x1="412.03" y1="271.86" x2="416.03" y2="271.86" stroke="#f0a22e" stroke-width="0.8"/>
<line x1="412.03" y1="267.54" x2="416.03" y2="267.54" stroke="#f0a22e" stroke-width="0.8"/>
<line x1="431.94" y1="265.38" x2="431.94" y2="261.06" stroke="#f0a22e" stroke-width="0.8"/>
<line x1="429.94" y1="265.38" x2="433.94" y2="265.38" stroke="#f0a22e" stroke-width="0.8"/>
<line x1="429.94" y1="261.06" x2="433.94" y2="261.06" stroke="#f0a22e" stroke-width="0.8"/>
<line x1="449.85" y1="264.66" x2="449.85" y2="260.34" stroke="#f0a22e" stroke-width="0.8"/>
<line x1="447.85" y1="264.66" x2="451.85" y2="264.66" stroke="#f0a22e" stroke-width="0.8"/>
<line x1="447.85" y1="260.34" x2="451.85" y2="260.34" stroke="#f0a22e" stroke-width="0.8"/>
<line x1="467.76" y1="270.78" x2="467.76" y2="266.46" stroke="#f0a22e" stroke-width="0.8"/>
<line x1="465.76" y1="270.78" x2="469.76" y2="270.78" stroke="#f0a22e" stroke-width="0.8"/>
<line x1="465.76" y1="266.46" x2="469.76" y2="266.46" stroke="#f0a22e" stroke-width="0.8"/>
<line x1="485.67" y1="270.06" x2="485.67" y2="265.74" stroke="#f0a22e" stroke-width="0.8"/>
<line x1="483.67" y1="270.06" x2="487.67" y2="270.06" stroke="#f0a22e" stroke-width="0.8"/>
<line x1="483.67" y1="265.74" x2="487.67" y2="265.74" stroke="#f0a22e" stroke-width="0.8"/>
<path d="M360.30,258.18 L378.21,266.10 L396.12,266.46 L414.03,269.70 L431.94,263.22 L449.85,262.50 L467.76,268.62 L485.67,267.90" fill="none" stroke="#f0a22e" stroke-width="1.0"/>
<path d="M360.30,256.20 L362.37,259.80 L358.23,259.80Z" fill="#f0a22e"/>
<path d="M378.21,264.12 L380.28,267.72 L376.14,267.72Z" fill="#f0a22e"/>
<path d="M396.12,264.48 L398.19,268.08 L394.05,268.08Z" fill="#f0a22e"/>
<path d="M414.03,267.72 L416.10,271.32 L411.96,271.32Z" fill="#f0a22e"/>
<path d="M431.94,261.24 L434.01,264.84 L429.87,264.84Z" fill="#f0a22e"/>
<path d="M449.85,260.52 L451.92,264.12 L447.78,264.12Z" fill="#f0a22e"/>
<path d="M467.76,266.64 L469.83,270.24 L465.69,270.24Z" fill="#f0a22e"/>
<path d="M485.67,265.92 L487.74,269.52 L483.60,269.52Z" fill="#f0a22e"/>
<line x1="360.30" y1="256.02" x2="360.30" y2="250.26" stroke="#3aa6d8" stroke-width="0.8"/>
<line x1="358.30" y1="256.02" x2="362.30" y2="256.02" stroke="#3aa6d8" stroke-width="0.8"/>
<line x1="358.30" y1="250.26" x2="362.30" y2="250.26" stroke="#3aa6d8" stroke-width="0.8"/>
<line x1="378.21" y1="256.38" x2="378.21" y2="250.62" stroke="#3aa6d8" stroke-width="0.8"/>
<line x1="376.21" y1="256.38" x2="380.21" y2="256.38" stroke="#3aa6d8" stroke-width="0.8"/>
<line x1="376.21" y1="250.62" x2="380.21" y2="250.62" stroke="#3aa6d8" stroke-width="0.8"/>
<line x1="396.12" y1="261.06" x2="396.12" y2="255.30" stroke="#3aa6d8" stroke-width="0.8"/>
<line x1="394.12" y1="261.06" x2="398.12" y2="261.06" stroke="#3aa6d8" stroke-width="0.8"/>
<line x1="394.12" y1="255.30" x2="398.12" y2="255.30" stroke="#3aa6d8" stroke-width="0.8"/>
<line x1="414.03" y1="261.78" x2="414.03" y2="256.02" stroke="#3aa6d8" stroke-width="0.8"/>
<line x1="412.03" y1="261.78" x2="416.03" y2="261.78" stroke="#3aa6d8" stroke-width="0.8"/>
<line x1="412.03" y1="256.02" x2="416.03" y2="256.02" stroke="#3aa6d8" stroke-width="0.8"/>
<line x1="431.94" y1="267.90" x2="431.94" y2="262.14" stroke="#3aa6d8" stroke-width="0.8"/>
<line x1="429.94" y1="267.90" x2="433.94" y2="267.90" stroke="#3aa6d8" stroke-width="0.8"/>
<line x1="429.94" y1="262.14" x2="433.94" y2="262.14" stroke="#3aa6d8" stroke-width="0.8"/>
<line x1="449.85" y1="269.34" x2="449.85" y2="263.58" stroke="#3aa6d8" stroke-width="0.8"/>
<line x1="447.85" y1="269.34" x2="451.85" y2="269.34" stroke="#3aa6d8" stroke-width="0.8"/>
<line x1="447.85" y1="263.58" x2="451.85" y2="263.58" stroke="#3aa6d8" stroke-width="0.8"/>
<line x1="467.76" y1="264.30" x2="467.76" y2="258.54" stroke="#3aa6d8" stroke-width="0.8"/>
<line x1="465.76" y1="264.30" x2="469.76" y2="264.30" stroke="#3aa6d8" stroke-width="0.8"/>
<line x1="465.76" y1="258.54" x2="469.76" y2="258.54" stroke="#3aa6d8" stroke-width="0.8"/>
<line x1="485.67" y1="263.22" x2="485.67" y2="257.46" stroke="#3aa6d8" stroke-width="0.8"/>
<line x1="483.67" y1="263.22" x2="487.67" y2="263.22" stroke="#3aa6d8" stroke-width="0.8"/>
<line x1="483.67" y1="257.46" x2="487.67" y2="257.46" stroke="#3aa6d8" stroke-width="0.8"/>
<path d="M360.30,253.14 L378.21,253.50 L396.12,258.18 L414.03,258.90 L431.94,265.02 L449.85,266.46 L467.76,261.42 L485.67,260.34" fill="none" stroke="#3aa6d8" stroke-width="1.0"/>
<path d="M360.30,255.12 L362.37,251.52 L358.23,251.52Z" fill="#3aa6d8"/>
<path d="M378.21,255.48 L380.28,251.88 L376.14,251.88Z" fill="#3aa6d8"/>
<path d="M396.12,260.16 L398.19,256.56 L394.05,256.56Z" fill="#3aa6d8"/>
<path d="M414.03,260.88 L416.10,257.28 L411.96,257.28Z" fill="#3aa6d8"/>
<path d="M431.94,267.00 L434.01,263.40 L429.87,263.40Z" fill="#3aa6d8"/>
<path d="M449.85,268.44 L451.92,264.84 L447.78,264.84Z" fill="#3aa6d8"/>
<path d="M467.76,263.40 L469.83,259.80 L465.69,259.80Z" fill="#3aa6d8"/>
<path d="M485.67,262.32 L487.74,258.72 L483.60,258.72Z" fill="#3aa6d8"/>
<line x1="360.30" y1="257.82" x2="360.30" y2="252.06" stroke="#5e3a12" stroke-width="0.8"/>
<line x1="358.30" y1="257.82" x2="362.30" y2="257.82" stroke="#5e3a12" stroke-width="0.8"/>
<line x1="358.30" y1="252.06" x2="362.30" y2="252.06" stroke="#5e3a12" stroke-width="0.8"/>
<line x1="378.21" y1="255.66" x2="378.21" y2="249.90" stroke="#5e3a12" stroke-width="0.8"/>
<line x1="376.21" y1="255.66" x2="380.21" y2="255.66" stroke="#5e3a12" stroke-width="0.8"/>
<line x1="376.21" y1="249.90" x2="380.21" y2="249.90" stroke="#5e3a12" stroke-width="0.8"/>
<line x1="396.12" y1="261.06" x2="396.12" y2="255.30" stroke="#5e3a12" stroke-width="0.8"/>
<line x1="394.12" y1="261.06" x2="398.12" y2="261.06" stroke="#5e3a12" stroke-width="0.8"/>
<line x1="394.12" y1="255.30" x2="398.12" y2="255.30" stroke="#5e3a12" stroke-width="0.8"/>
<line x1="414.03" y1="259.98" x2="414.03" y2="254.22" stroke="#5e3a12" stroke-width="0.8"/>
<line x1="412.03" y1="259.98" x2="416.03" y2="259.98" stroke="#5e3a12" stroke-width="0.8"/>
<line x1="412.03" y1="254.22" x2="416.03" y2="254.22" stroke="#5e3a12" stroke-width="0.8"/>
<line x1="431.94" y1="257.46" x2="431.94" y2="251.70" stroke="#5e3a12" stroke-width="0.8"/>
<line x1="429.94" y1="257.46" x2="433.94" y2="257.46" stroke="#5e3a12" stroke-width="0.8"/>
<line x1="429.94" y1="251.70" x2="433.94" y2="251.70" stroke="#5e3a12" stroke-width="0.8"/>
<line x1="449.85" y1="260.70" x2="449.85" y2="254.94" stroke="#5e3a12" stroke-width="0.8"/>
<line x1="447.85" y1="260.70" x2="451.85" y2="260.70" stroke="#5e3a12" stroke-width="0.8"/>
<line x1="447.85" y1="254.94" x2="451.85" y2="254.94" stroke="#5e3a12" stroke-width="0.8"/>
<line x1="467.76" y1="263.22" x2="467.76" y2="257.46" stroke="#5e3a12" stroke-width="0.8"/>
<line x1="465.76" y1="263.22" x2="469.76" y2="263.22" stroke="#5e3a12" stroke-width="0.8"/>
<line x1="465.76" y1="257.46" x2="469.76" y2="257.46" stroke="#5e3a12" stroke-width="0.8"/>
<line x1="485.67" y1="264.30" x2="485.67" y2="258.54" stroke="#5e3a12" stroke-width="0.8"/>
<line x1="483.67" y1="264.30" x2="487.67" y2="264.30" stroke="#5e3a12" stroke-width="0.8"/>
<line x1="483.67" y1="258.54" x2="487.67" y2="258.54" stroke="#5e3a12" stroke-width="0.8"/>
<path d="M360.30,254.94 L378.21,252.78 L396.12,258.18 L414.03,257.10 L431.94,254.58 L449.85,257.82 L467.76,260.34 L485.67,261.42" fill="none" stroke="#5e3a12" stroke-width="1.0"/>
<rect x="358.50" y="253.14" width="3.60" height="3.60" fill="#5e3a12"/>
<rect x="376.41" y="250.98" width="3.60" height="3.60" fill="#5e3a12"/>
<rect x="394.32" y="256.38" width="3.60" height="3.60" fill="#5e3a12"/>
<rect x="412.23" y="255.30" width="3.60" height="3.60" fill="#5e3a12"/>
<rect x="430.14" y="252.78" width="3.60" height="3.60" fill="#5e3a12"/>
<rect x="448.05" y="256.02" width="3.60" height="3.60" fill="#5e3a12"/>
<rect x="465.96" y="258.54" width="3.60" height="3.60" fill="#5e3a12"/>
<rect x="483.87" y="259.62" width="3.60" height="3.60" fill="#5e3a12"/>
<line x1="365.8" y1="288.7" x2="379.2" y2="288.7" stroke="#c4c4c4" stroke-width="1.1"/>
<circle cx="372.00" cy="288.70" r="2.00" fill="#c4c4c4"/>
<text x="382.20" y="291.00" font-size="6.5" text-anchor="start" fill="#2a2a2a" font-weight="normal" stroke="#2a2a2a" stroke-width="0.18" textLength="32.2" lengthAdjust="spacingAndGlyphs">PBS (n = 6)</text>
<line x1="365.8" y1="300.4" x2="379.2" y2="300.4" stroke="#5e3a12" stroke-width="1.1"/>
<rect x="370.00" y="298.40" width="4.00" height="4.00" fill="#5e3a12"/>
<text x="382.20" y="302.70" font-size="6.5" text-anchor="start" fill="#2a2a2a" font-weight="normal" stroke="#2a2a2a" stroke-width="0.18" textLength="73.5" lengthAdjust="spacingAndGlyphs">Ibrutinib 25 mg/kg (n = 6)</text>
<line x1="365.8" y1="312.7" x2="379.2" y2="312.7" stroke="#f0a22e" stroke-width="1.1"/>
<path d="M372.00,310.50 L374.30,314.50 L369.70,314.50Z" fill="#f0a22e"/>
<text x="382.20" y="315.00" font-size="6.5" text-anchor="start" fill="#2a2a2a" font-weight="normal" stroke="#2a2a2a" stroke-width="0.18" textLength="67.8" lengthAdjust="spacingAndGlyphs">IM156 30 mg/kg (n = 6)</text>
<line x1="365.8" y1="324.6" x2="379.2" y2="324.6" stroke="#3aa6d8" stroke-width="1.1"/>
<path d="M372.00,326.80 L374.30,322.80 L369.70,322.80Z" fill="#3aa6d8"/>
<text x="382.20" y="326.90" font-size="6.5" text-anchor="start" fill="#2a2a2a" font-weight="normal" stroke="#2a2a2a" stroke-width="0.18" textLength="41.9" lengthAdjust="spacingAndGlyphs">Combo (n = 6)</text>
<rect x="0.5" y="0.5" width="519" height="377" fill="none" stroke="#555" stroke-width="1"/>
</svg></body></html>
